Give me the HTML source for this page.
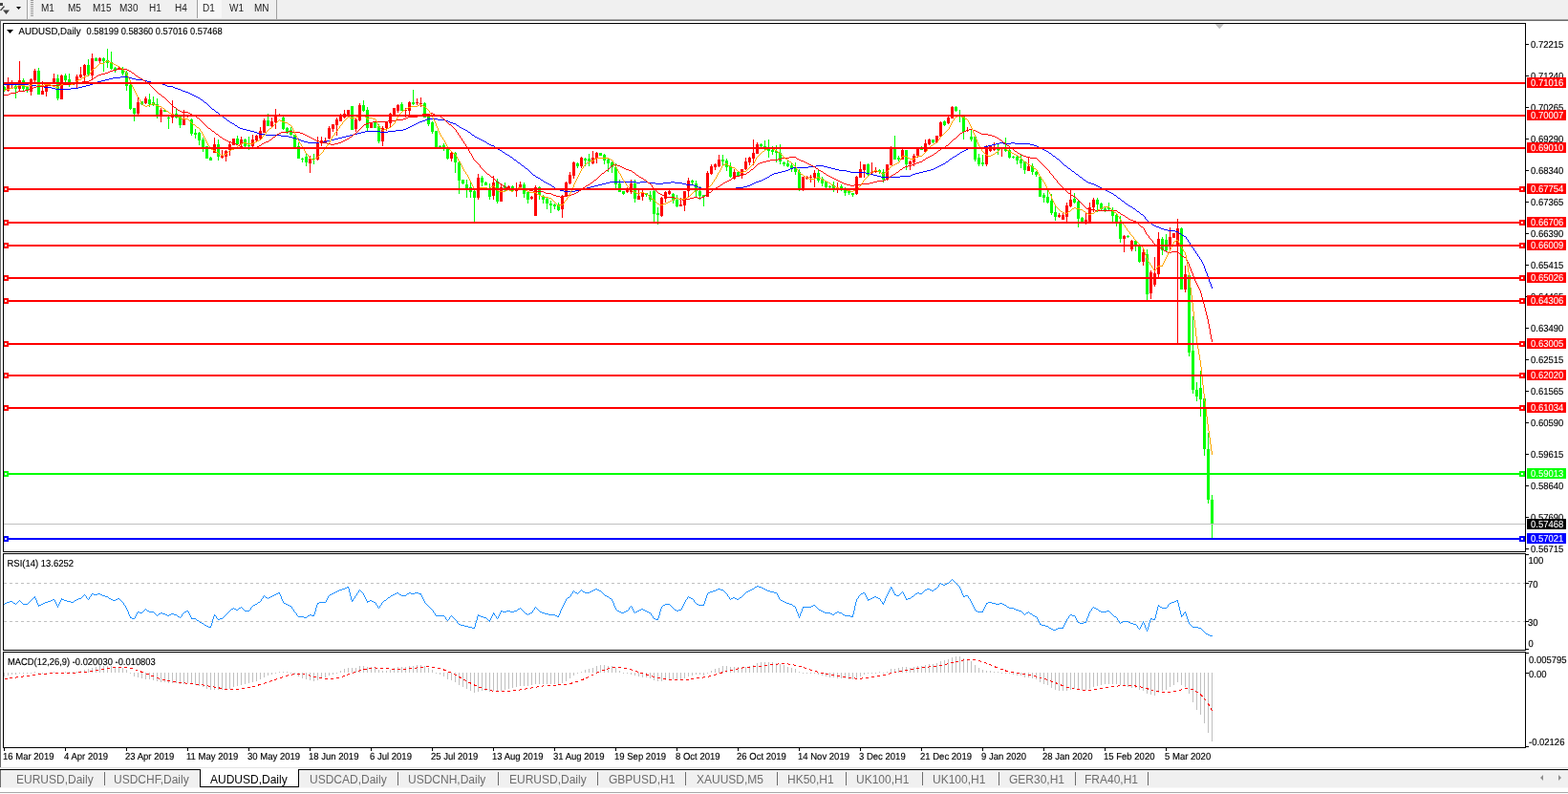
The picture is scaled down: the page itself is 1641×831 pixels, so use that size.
<!DOCTYPE html>
<html><head><meta charset="utf-8"><style>
*{margin:0;padding:0;box-sizing:border-box}
html,body{width:1641px;height:831px;overflow:hidden;background:#fff;font-family:"Liberation Sans",Arial,sans-serif}
#tb{position:absolute;left:0;top:0;width:1641px;height:20px;background:#f0f0f0}
#tbl1{position:absolute;left:0;top:20px;width:1641px;height:1px;background:#a0a0a0}
#tbl2{position:absolute;left:0;top:21px;width:1641px;height:1px;background:#6e6e6e}
.tf{position:absolute;top:4px;font-size:10px;line-height:10px;color:#222}
#d1{position:absolute;left:206px;top:0;width:26px;height:19px;background:#f7f7f7;border-left:1px solid #a0a0a0}
.vs{position:absolute;top:0;width:1px;height:20px;background:#a0a0a0}
#lg{position:absolute;left:0;top:22px;width:1px;height:781px;background:#6a6a6a}
svg{position:absolute;left:0;top:0}
.ax{font-family:"Liberation Sans",Arial,sans-serif;font-size:10.2px;fill:#000;stroke:#000;stroke-width:0.15px;text-rendering:geometricPrecision}
.axw{font-family:"Liberation Sans",Arial,sans-serif;font-size:10.2px;fill:#fff;stroke:#fff;stroke-width:0.1px;text-rendering:geometricPrecision}
#tabbar{position:absolute;left:0;top:806px;width:1641px;height:18px;background:#f0f0f0}
#tabtop{position:absolute;left:0;top:805px;width:1641px;height:1px;background:#000}
#tabbot{position:absolute;left:0;top:824px;width:1641px;height:1px;background:#f8f8f8}
#tabbot2{position:absolute;left:0;top:829px;width:1641px;height:1px;background:#a8a8a8}
.tab{position:absolute;top:810px;font-size:12px;line-height:12px;color:#6d6d6d;white-space:nowrap}
.tab.act{color:#000}
#acttab{position:absolute;left:209px;top:805px;width:104px;height:19px;background:#fff;border:1px solid #000;border-top:none}
.sep{position:absolute;top:808px;width:1px;height:14px;background:#6d6d6d}
#tl{position:absolute;left:0;top:806px;width:1px;height:18px;background:#6d6d6d}
.arr{position:absolute;top:809px;font-size:9px;color:#909090}
</style></head><body>
<div id="tb"></div>
<div id="d1"></div>
<div class="vs" style="left:28px"></div>
<div class="vs" style="left:289px"></div>
<span class="tf" style="left:43px">M1</span><span class="tf" style="left:71px">M5</span><span class="tf" style="left:97px">M15</span><span class="tf" style="left:125px">M30</span><span class="tf" style="left:156px">H1</span><span class="tf" style="left:183px">H4</span><span class="tf" style="left:212px">D1</span><span class="tf" style="left:240px">W1</span><span class="tf" style="left:266px">MN</span>
<svg width="40" height="20" style="position:absolute;left:0;top:0">
<path d="M0,3 L3,3 L3,6 L0,6 Z" fill="#444"/>
<path d="M0.5,11 L4.5,6.5" stroke="#444" stroke-width="1.3" fill="none"/>
<path d="M3,10.5 L10,10.5 L6.5,15 Z" fill="#444"/>
<path d="M17,7 L22,7 L19.5,10 Z" fill="#000"/>
<rect x="29" y="0" width="1" height="20" fill="#fff"/>
<g fill="#999"><rect x="32" y="0" width="3" height="1"/><rect x="32" y="2" width="3" height="1"/><rect x="32" y="4" width="3" height="1"/><rect x="32" y="6" width="3" height="1"/><rect x="32" y="8" width="3" height="1"/><rect x="32" y="10" width="3" height="1"/><rect x="32" y="12" width="3" height="1"/><rect x="32" y="14" width="3" height="1"/><rect x="32" y="16" width="3" height="1"/></g>
</svg>
<div id="tbl1"></div><div id="tbl2"></div>
<div id="lg"></div>
<svg width="1641" height="831" viewBox="0 0 1641 831" shape-rendering="crispEdges">
<rect x="4" y="90" width="1" height="6" fill="#00ff00"/>
<rect x="4" y="91" width="2" height="3" fill="#00ff00"/>
<rect x="8" y="81" width="1" height="15" fill="#ff0000"/>
<rect x="7" y="89" width="3" height="6" fill="#ff0000"/>
<rect x="12" y="84" width="1" height="8" fill="#ff0000"/>
<rect x="11" y="86" width="3" height="2" fill="#ff0000"/>
<rect x="16" y="88" width="1" height="15" fill="#00ff00"/>
<rect x="15" y="90" width="3" height="3" fill="#00ff00"/>
<rect x="20" y="64" width="1" height="31" fill="#ff0000"/>
<rect x="19" y="84" width="3" height="9" fill="#ff0000"/>
<rect x="24" y="82" width="1" height="14" fill="#00ff00"/>
<rect x="23" y="84" width="3" height="9" fill="#00ff00"/>
<rect x="28" y="90" width="1" height="7" fill="#00ff00"/>
<rect x="27" y="91" width="3" height="3" fill="#00ff00"/>
<rect x="32" y="82" width="1" height="18" fill="#ff0000"/>
<rect x="31" y="83" width="3" height="13" fill="#ff0000"/>
<rect x="36" y="72" width="1" height="14" fill="#ff0000"/>
<rect x="35" y="74" width="3" height="10" fill="#ff0000"/>
<rect x="40" y="71" width="1" height="28" fill="#00ff00"/>
<rect x="39" y="74" width="3" height="25" fill="#00ff00"/>
<rect x="44" y="85" width="1" height="14" fill="#ff0000"/>
<rect x="43" y="95" width="3" height="4" fill="#ff0000"/>
<rect x="48" y="88" width="1" height="13" fill="#ff0000"/>
<rect x="47" y="89" width="3" height="7" fill="#ff0000"/>
<rect x="52" y="86" width="1" height="3" fill="#ff0000"/>
<rect x="51" y="86" width="3" height="2" fill="#ff0000"/>
<rect x="56" y="77" width="1" height="11" fill="#ff0000"/>
<rect x="55" y="82" width="3" height="6" fill="#ff0000"/>
<rect x="60" y="78" width="1" height="27" fill="#00ff00"/>
<rect x="59" y="82" width="3" height="21" fill="#00ff00"/>
<rect x="64" y="78" width="1" height="26" fill="#ff0000"/>
<rect x="63" y="79" width="3" height="25" fill="#ff0000"/>
<rect x="68" y="77" width="1" height="9" fill="#00ff00"/>
<rect x="67" y="79" width="3" height="5" fill="#00ff00"/>
<rect x="72" y="77" width="1" height="14" fill="#00ff00"/>
<rect x="71" y="83" width="3" height="3" fill="#00ff00"/>
<rect x="76" y="88" width="1" height="1" fill="#00ff00"/>
<rect x="75" y="88" width="3" height="1" fill="#00ff00"/>
<rect x="80" y="78" width="1" height="14" fill="#ff0000"/>
<rect x="79" y="80" width="3" height="6" fill="#ff0000"/>
<rect x="84" y="70" width="1" height="12" fill="#ff0000"/>
<rect x="83" y="78" width="3" height="3" fill="#ff0000"/>
<rect x="88" y="67" width="1" height="19" fill="#ff0000"/>
<rect x="87" y="68" width="3" height="11" fill="#ff0000"/>
<rect x="92" y="62" width="1" height="18" fill="#00ff00"/>
<rect x="91" y="68" width="3" height="10" fill="#00ff00"/>
<rect x="96" y="56" width="1" height="27" fill="#ff0000"/>
<rect x="95" y="61" width="3" height="18" fill="#ff0000"/>
<rect x="100" y="60" width="1" height="4" fill="#00ff00"/>
<rect x="99" y="61" width="3" height="3" fill="#00ff00"/>
<rect x="104" y="60" width="1" height="6" fill="#ff0000"/>
<rect x="103" y="61" width="3" height="3" fill="#ff0000"/>
<rect x="108" y="60" width="1" height="15" fill="#00ff00"/>
<rect x="107" y="61" width="3" height="3" fill="#00ff00"/>
<rect x="112" y="51" width="1" height="20" fill="#00ff00"/>
<rect x="111" y="63" width="3" height="3" fill="#00ff00"/>
<rect x="116" y="54" width="1" height="19" fill="#00ff00"/>
<rect x="115" y="65" width="3" height="7" fill="#00ff00"/>
<rect x="120" y="70" width="1" height="6" fill="#00ff00"/>
<rect x="119" y="71" width="3" height="2" fill="#00ff00"/>
<rect x="124" y="70" width="1" height="2" fill="#ff0000"/>
<rect x="123" y="71" width="3" height="1" fill="#ff0000"/>
<rect x="128" y="70" width="1" height="9" fill="#00ff00"/>
<rect x="127" y="72" width="3" height="5" fill="#00ff00"/>
<rect x="132" y="74" width="1" height="21" fill="#00ff00"/>
<rect x="131" y="76" width="3" height="14" fill="#00ff00"/>
<rect x="136" y="88" width="1" height="27" fill="#00ff00"/>
<rect x="135" y="89" width="3" height="25" fill="#00ff00"/>
<rect x="140" y="113" width="1" height="14" fill="#00ff00"/>
<rect x="139" y="113" width="3" height="6" fill="#00ff00"/>
<rect x="144" y="102" width="1" height="18" fill="#ff0000"/>
<rect x="143" y="107" width="3" height="12" fill="#ff0000"/>
<rect x="148" y="106" width="1" height="4" fill="#00ff00"/>
<rect x="147" y="106" width="3" height="3" fill="#00ff00"/>
<rect x="152" y="101" width="1" height="8" fill="#ff0000"/>
<rect x="151" y="103" width="3" height="5" fill="#ff0000"/>
<rect x="156" y="98" width="1" height="14" fill="#00ff00"/>
<rect x="155" y="104" width="3" height="5" fill="#00ff00"/>
<rect x="160" y="101" width="1" height="10" fill="#00ff00"/>
<rect x="159" y="107" width="3" height="3" fill="#00ff00"/>
<rect x="164" y="103" width="1" height="21" fill="#00ff00"/>
<rect x="163" y="109" width="3" height="11" fill="#00ff00"/>
<rect x="168" y="113" width="1" height="15" fill="#ff0000"/>
<rect x="167" y="115" width="3" height="6" fill="#ff0000"/>
<rect x="172" y="115" width="1" height="2" fill="#00ff00"/>
<rect x="171" y="115" width="3" height="2" fill="#00ff00"/>
<rect x="176" y="122" width="1" height="13" fill="#00ff00"/>
<rect x="175" y="123" width="3" height="1" fill="#00ff00"/>
<rect x="180" y="105" width="1" height="24" fill="#ff0000"/>
<rect x="179" y="121" width="3" height="2" fill="#ff0000"/>
<rect x="184" y="113" width="1" height="11" fill="#00ff00"/>
<rect x="183" y="119" width="3" height="4" fill="#00ff00"/>
<rect x="188" y="122" width="1" height="12" fill="#00ff00"/>
<rect x="187" y="122" width="3" height="9" fill="#00ff00"/>
<rect x="192" y="115" width="1" height="16" fill="#ff0000"/>
<rect x="191" y="124" width="3" height="7" fill="#ff0000"/>
<rect x="196" y="121" width="1" height="2" fill="#ff0000"/>
<rect x="195" y="121" width="3" height="1" fill="#ff0000"/>
<rect x="200" y="124" width="1" height="18" fill="#00ff00"/>
<rect x="199" y="125" width="3" height="15" fill="#00ff00"/>
<rect x="204" y="135" width="1" height="10" fill="#00ff00"/>
<rect x="203" y="139" width="3" height="2" fill="#00ff00"/>
<rect x="208" y="138" width="1" height="14" fill="#00ff00"/>
<rect x="207" y="139" width="3" height="8" fill="#00ff00"/>
<rect x="212" y="144" width="1" height="15" fill="#00ff00"/>
<rect x="211" y="146" width="3" height="8" fill="#00ff00"/>
<rect x="216" y="153" width="1" height="13" fill="#00ff00"/>
<rect x="215" y="153" width="3" height="13" fill="#00ff00"/>
<rect x="220" y="164" width="1" height="4" fill="#00ff00"/>
<rect x="219" y="165" width="3" height="3" fill="#00ff00"/>
<rect x="224" y="144" width="1" height="16" fill="#ff0000"/>
<rect x="223" y="151" width="3" height="9" fill="#ff0000"/>
<rect x="228" y="146" width="1" height="22" fill="#00ff00"/>
<rect x="227" y="151" width="3" height="13" fill="#00ff00"/>
<rect x="232" y="157" width="1" height="9" fill="#ff0000"/>
<rect x="231" y="163" width="3" height="2" fill="#ff0000"/>
<rect x="236" y="157" width="1" height="12" fill="#ff0000"/>
<rect x="235" y="158" width="3" height="6" fill="#ff0000"/>
<rect x="240" y="148" width="1" height="15" fill="#ff0000"/>
<rect x="239" y="151" width="3" height="6" fill="#ff0000"/>
<rect x="244" y="145" width="1" height="7" fill="#ff0000"/>
<rect x="243" y="145" width="3" height="7" fill="#ff0000"/>
<rect x="248" y="142" width="1" height="9" fill="#00ff00"/>
<rect x="247" y="145" width="3" height="6" fill="#00ff00"/>
<rect x="252" y="143" width="1" height="10" fill="#ff0000"/>
<rect x="251" y="146" width="3" height="5" fill="#ff0000"/>
<rect x="256" y="145" width="1" height="9" fill="#00ff00"/>
<rect x="255" y="146" width="3" height="7" fill="#00ff00"/>
<rect x="260" y="143" width="1" height="14" fill="#00ff00"/>
<rect x="259" y="152" width="3" height="1" fill="#00ff00"/>
<rect x="264" y="141" width="1" height="13" fill="#ff0000"/>
<rect x="263" y="146" width="3" height="7" fill="#ff0000"/>
<rect x="268" y="141" width="1" height="7" fill="#ff0000"/>
<rect x="267" y="142" width="3" height="5" fill="#ff0000"/>
<rect x="272" y="133" width="1" height="13" fill="#ff0000"/>
<rect x="271" y="137" width="3" height="8" fill="#ff0000"/>
<rect x="276" y="124" width="1" height="15" fill="#ff0000"/>
<rect x="275" y="126" width="3" height="13" fill="#ff0000"/>
<rect x="280" y="119" width="1" height="13" fill="#00ff00"/>
<rect x="279" y="126" width="3" height="6" fill="#00ff00"/>
<rect x="284" y="123" width="1" height="11" fill="#ff0000"/>
<rect x="283" y="127" width="3" height="5" fill="#ff0000"/>
<rect x="288" y="114" width="1" height="21" fill="#ff0000"/>
<rect x="287" y="122" width="3" height="6" fill="#ff0000"/>
<rect x="292" y="119" width="1" height="3" fill="#ff0000"/>
<rect x="291" y="120" width="3" height="2" fill="#ff0000"/>
<rect x="296" y="122" width="1" height="14" fill="#00ff00"/>
<rect x="295" y="123" width="3" height="12" fill="#00ff00"/>
<rect x="300" y="133" width="1" height="7" fill="#00ff00"/>
<rect x="299" y="134" width="3" height="4" fill="#00ff00"/>
<rect x="304" y="133" width="1" height="9" fill="#00ff00"/>
<rect x="303" y="136" width="3" height="5" fill="#00ff00"/>
<rect x="308" y="141" width="1" height="13" fill="#00ff00"/>
<rect x="307" y="141" width="3" height="13" fill="#00ff00"/>
<rect x="312" y="149" width="1" height="17" fill="#00ff00"/>
<rect x="311" y="153" width="3" height="13" fill="#00ff00"/>
<rect x="316" y="165" width="1" height="5" fill="#00ff00"/>
<rect x="315" y="166" width="3" height="1" fill="#00ff00"/>
<rect x="320" y="161" width="1" height="13" fill="#00ff00"/>
<rect x="319" y="164" width="3" height="6" fill="#00ff00"/>
<rect x="324" y="163" width="1" height="18" fill="#ff0000"/>
<rect x="323" y="166" width="3" height="5" fill="#ff0000"/>
<rect x="328" y="161" width="1" height="11" fill="#00ff00"/>
<rect x="327" y="166" width="3" height="1" fill="#00ff00"/>
<rect x="332" y="143" width="1" height="25" fill="#ff0000"/>
<rect x="331" y="149" width="3" height="18" fill="#ff0000"/>
<rect x="336" y="143" width="1" height="10" fill="#ff0000"/>
<rect x="335" y="147" width="3" height="3" fill="#ff0000"/>
<rect x="340" y="144" width="1" height="6" fill="#ff0000"/>
<rect x="339" y="147" width="3" height="2" fill="#ff0000"/>
<rect x="344" y="132" width="1" height="14" fill="#ff0000"/>
<rect x="343" y="134" width="3" height="11" fill="#ff0000"/>
<rect x="348" y="130" width="1" height="8" fill="#ff0000"/>
<rect x="347" y="130" width="3" height="5" fill="#ff0000"/>
<rect x="352" y="123" width="1" height="19" fill="#ff0000"/>
<rect x="351" y="125" width="3" height="6" fill="#ff0000"/>
<rect x="356" y="119" width="1" height="8" fill="#ff0000"/>
<rect x="355" y="120" width="3" height="7" fill="#ff0000"/>
<rect x="360" y="115" width="1" height="9" fill="#ff0000"/>
<rect x="359" y="119" width="3" height="4" fill="#ff0000"/>
<rect x="364" y="115" width="1" height="7" fill="#ff0000"/>
<rect x="363" y="115" width="3" height="6" fill="#ff0000"/>
<rect x="368" y="111" width="1" height="25" fill="#00ff00"/>
<rect x="367" y="111" width="3" height="25" fill="#00ff00"/>
<rect x="372" y="124" width="1" height="14" fill="#ff0000"/>
<rect x="371" y="125" width="3" height="10" fill="#ff0000"/>
<rect x="376" y="108" width="1" height="19" fill="#ff0000"/>
<rect x="375" y="110" width="3" height="16" fill="#ff0000"/>
<rect x="380" y="105" width="1" height="12" fill="#00ff00"/>
<rect x="379" y="110" width="3" height="6" fill="#00ff00"/>
<rect x="384" y="112" width="1" height="25" fill="#00ff00"/>
<rect x="383" y="115" width="3" height="19" fill="#00ff00"/>
<rect x="388" y="128" width="1" height="6" fill="#ff0000"/>
<rect x="387" y="129" width="3" height="5" fill="#ff0000"/>
<rect x="392" y="127" width="1" height="7" fill="#00ff00"/>
<rect x="391" y="128" width="3" height="6" fill="#00ff00"/>
<rect x="396" y="130" width="1" height="20" fill="#00ff00"/>
<rect x="395" y="132" width="3" height="16" fill="#00ff00"/>
<rect x="400" y="132" width="1" height="21" fill="#ff0000"/>
<rect x="399" y="134" width="3" height="14" fill="#ff0000"/>
<rect x="404" y="127" width="1" height="10" fill="#ff0000"/>
<rect x="403" y="128" width="3" height="6" fill="#ff0000"/>
<rect x="408" y="118" width="1" height="16" fill="#ff0000"/>
<rect x="407" y="119" width="3" height="10" fill="#ff0000"/>
<rect x="412" y="113" width="1" height="8" fill="#ff0000"/>
<rect x="411" y="113" width="3" height="8" fill="#ff0000"/>
<rect x="416" y="109" width="1" height="9" fill="#ff0000"/>
<rect x="415" y="110" width="3" height="6" fill="#ff0000"/>
<rect x="420" y="107" width="1" height="9" fill="#00ff00"/>
<rect x="419" y="109" width="3" height="7" fill="#00ff00"/>
<rect x="424" y="113" width="1" height="10" fill="#ff0000"/>
<rect x="423" y="115" width="3" height="1" fill="#ff0000"/>
<rect x="428" y="106" width="1" height="14" fill="#ff0000"/>
<rect x="427" y="107" width="3" height="9" fill="#ff0000"/>
<rect x="432" y="94" width="1" height="16" fill="#00ff00"/>
<rect x="431" y="107" width="3" height="2" fill="#00ff00"/>
<rect x="436" y="103" width="1" height="7" fill="#ff0000"/>
<rect x="435" y="107" width="3" height="1" fill="#ff0000"/>
<rect x="440" y="102" width="1" height="10" fill="#ff0000"/>
<rect x="439" y="108" width="3" height="1" fill="#ff0000"/>
<rect x="444" y="107" width="1" height="16" fill="#00ff00"/>
<rect x="443" y="108" width="3" height="15" fill="#00ff00"/>
<rect x="448" y="122" width="1" height="10" fill="#00ff00"/>
<rect x="447" y="122" width="3" height="8" fill="#00ff00"/>
<rect x="452" y="127" width="1" height="13" fill="#00ff00"/>
<rect x="451" y="128" width="3" height="10" fill="#00ff00"/>
<rect x="456" y="137" width="1" height="17" fill="#00ff00"/>
<rect x="455" y="137" width="3" height="17" fill="#00ff00"/>
<rect x="460" y="152" width="1" height="2" fill="#00ff00"/>
<rect x="459" y="153" width="3" height="1" fill="#00ff00"/>
<rect x="464" y="150" width="1" height="8" fill="#00ff00"/>
<rect x="463" y="152" width="3" height="3" fill="#00ff00"/>
<rect x="468" y="153" width="1" height="14" fill="#00ff00"/>
<rect x="467" y="155" width="3" height="11" fill="#00ff00"/>
<rect x="472" y="158" width="1" height="11" fill="#ff0000"/>
<rect x="471" y="160" width="3" height="6" fill="#ff0000"/>
<rect x="476" y="159" width="1" height="22" fill="#00ff00"/>
<rect x="475" y="160" width="3" height="10" fill="#00ff00"/>
<rect x="480" y="169" width="1" height="34" fill="#00ff00"/>
<rect x="479" y="170" width="3" height="19" fill="#00ff00"/>
<rect x="484" y="188" width="1" height="5" fill="#00ff00"/>
<rect x="483" y="188" width="3" height="4" fill="#00ff00"/>
<rect x="488" y="188" width="1" height="19" fill="#00ff00"/>
<rect x="487" y="193" width="3" height="5" fill="#00ff00"/>
<rect x="492" y="190" width="1" height="17" fill="#00ff00"/>
<rect x="491" y="196" width="3" height="5" fill="#00ff00"/>
<rect x="496" y="199" width="1" height="33" fill="#00ff00"/>
<rect x="495" y="200" width="3" height="7" fill="#00ff00"/>
<rect x="500" y="182" width="1" height="27" fill="#ff0000"/>
<rect x="499" y="186" width="3" height="21" fill="#ff0000"/>
<rect x="504" y="184" width="1" height="11" fill="#00ff00"/>
<rect x="503" y="186" width="3" height="5" fill="#00ff00"/>
<rect x="508" y="190" width="1" height="4" fill="#00ff00"/>
<rect x="507" y="191" width="3" height="3" fill="#00ff00"/>
<rect x="512" y="192" width="1" height="17" fill="#00ff00"/>
<rect x="511" y="199" width="3" height="7" fill="#00ff00"/>
<rect x="516" y="184" width="1" height="25" fill="#ff0000"/>
<rect x="515" y="191" width="3" height="14" fill="#ff0000"/>
<rect x="520" y="187" width="1" height="26" fill="#00ff00"/>
<rect x="519" y="190" width="3" height="21" fill="#00ff00"/>
<rect x="524" y="192" width="1" height="19" fill="#ff0000"/>
<rect x="523" y="196" width="3" height="15" fill="#ff0000"/>
<rect x="528" y="191" width="1" height="10" fill="#00ff00"/>
<rect x="527" y="195" width="3" height="3" fill="#00ff00"/>
<rect x="532" y="194" width="1" height="4" fill="#ff0000"/>
<rect x="531" y="195" width="3" height="3" fill="#ff0000"/>
<rect x="536" y="194" width="1" height="7" fill="#00ff00"/>
<rect x="535" y="195" width="3" height="5" fill="#00ff00"/>
<rect x="540" y="191" width="1" height="15" fill="#ff0000"/>
<rect x="539" y="197" width="3" height="3" fill="#ff0000"/>
<rect x="544" y="190" width="1" height="8" fill="#ff0000"/>
<rect x="543" y="193" width="3" height="4" fill="#ff0000"/>
<rect x="548" y="191" width="1" height="16" fill="#00ff00"/>
<rect x="547" y="193" width="3" height="10" fill="#00ff00"/>
<rect x="552" y="201" width="1" height="12" fill="#00ff00"/>
<rect x="551" y="201" width="3" height="8" fill="#00ff00"/>
<rect x="556" y="205" width="1" height="4" fill="#ff0000"/>
<rect x="555" y="206" width="3" height="2" fill="#ff0000"/>
<rect x="560" y="194" width="1" height="32" fill="#ff0000"/>
<rect x="559" y="196" width="3" height="30" fill="#ff0000"/>
<rect x="564" y="195" width="1" height="14" fill="#00ff00"/>
<rect x="563" y="196" width="3" height="8" fill="#00ff00"/>
<rect x="568" y="204" width="1" height="9" fill="#00ff00"/>
<rect x="567" y="206" width="3" height="3" fill="#00ff00"/>
<rect x="572" y="206" width="1" height="13" fill="#00ff00"/>
<rect x="571" y="208" width="3" height="5" fill="#00ff00"/>
<rect x="576" y="210" width="1" height="13" fill="#00ff00"/>
<rect x="575" y="213" width="3" height="2" fill="#00ff00"/>
<rect x="580" y="213" width="1" height="6" fill="#00ff00"/>
<rect x="579" y="214" width="3" height="2" fill="#00ff00"/>
<rect x="584" y="212" width="1" height="9" fill="#00ff00"/>
<rect x="583" y="214" width="3" height="6" fill="#00ff00"/>
<rect x="588" y="204" width="1" height="24" fill="#ff0000"/>
<rect x="587" y="205" width="3" height="14" fill="#ff0000"/>
<rect x="592" y="190" width="1" height="16" fill="#ff0000"/>
<rect x="591" y="191" width="3" height="15" fill="#ff0000"/>
<rect x="596" y="180" width="1" height="13" fill="#ff0000"/>
<rect x="595" y="183" width="3" height="9" fill="#ff0000"/>
<rect x="600" y="169" width="1" height="18" fill="#ff0000"/>
<rect x="599" y="170" width="3" height="14" fill="#ff0000"/>
<rect x="604" y="170" width="1" height="6" fill="#00ff00"/>
<rect x="603" y="171" width="3" height="3" fill="#00ff00"/>
<rect x="608" y="164" width="1" height="12" fill="#ff0000"/>
<rect x="607" y="165" width="3" height="9" fill="#ff0000"/>
<rect x="612" y="165" width="1" height="9" fill="#00ff00"/>
<rect x="611" y="166" width="3" height="2" fill="#00ff00"/>
<rect x="616" y="161" width="1" height="13" fill="#00ff00"/>
<rect x="615" y="166" width="3" height="3" fill="#00ff00"/>
<rect x="620" y="158" width="1" height="14" fill="#ff0000"/>
<rect x="619" y="165" width="3" height="6" fill="#ff0000"/>
<rect x="624" y="159" width="1" height="12" fill="#ff0000"/>
<rect x="623" y="160" width="3" height="6" fill="#ff0000"/>
<rect x="628" y="160" width="1" height="3" fill="#00ff00"/>
<rect x="627" y="160" width="3" height="3" fill="#00ff00"/>
<rect x="632" y="161" width="1" height="11" fill="#00ff00"/>
<rect x="631" y="162" width="3" height="6" fill="#00ff00"/>
<rect x="636" y="166" width="1" height="14" fill="#00ff00"/>
<rect x="635" y="167" width="3" height="4" fill="#00ff00"/>
<rect x="640" y="169" width="1" height="12" fill="#00ff00"/>
<rect x="639" y="170" width="3" height="5" fill="#00ff00"/>
<rect x="644" y="171" width="1" height="26" fill="#00ff00"/>
<rect x="643" y="175" width="3" height="18" fill="#00ff00"/>
<rect x="648" y="188" width="1" height="13" fill="#00ff00"/>
<rect x="647" y="192" width="3" height="9" fill="#00ff00"/>
<rect x="652" y="200" width="1" height="4" fill="#00ff00"/>
<rect x="651" y="200" width="3" height="3" fill="#00ff00"/>
<rect x="656" y="196" width="1" height="6" fill="#ff0000"/>
<rect x="655" y="199" width="3" height="2" fill="#ff0000"/>
<rect x="660" y="188" width="1" height="15" fill="#ff0000"/>
<rect x="659" y="192" width="3" height="9" fill="#ff0000"/>
<rect x="664" y="188" width="1" height="24" fill="#00ff00"/>
<rect x="663" y="192" width="3" height="16" fill="#00ff00"/>
<rect x="668" y="197" width="1" height="12" fill="#ff0000"/>
<rect x="667" y="205" width="3" height="4" fill="#ff0000"/>
<rect x="672" y="199" width="1" height="11" fill="#ff0000"/>
<rect x="671" y="201" width="3" height="5" fill="#ff0000"/>
<rect x="676" y="202" width="1" height="4" fill="#00ff00"/>
<rect x="675" y="202" width="3" height="2" fill="#00ff00"/>
<rect x="680" y="200" width="1" height="11" fill="#00ff00"/>
<rect x="679" y="204" width="3" height="5" fill="#00ff00"/>
<rect x="684" y="199" width="1" height="33" fill="#00ff00"/>
<rect x="683" y="200" width="3" height="24" fill="#00ff00"/>
<rect x="688" y="217" width="1" height="18" fill="#00ff00"/>
<rect x="687" y="223" width="3" height="2" fill="#00ff00"/>
<rect x="692" y="206" width="1" height="21" fill="#ff0000"/>
<rect x="691" y="207" width="3" height="19" fill="#ff0000"/>
<rect x="696" y="200" width="1" height="12" fill="#ff0000"/>
<rect x="695" y="201" width="3" height="7" fill="#ff0000"/>
<rect x="700" y="199" width="1" height="5" fill="#ff0000"/>
<rect x="699" y="200" width="3" height="3" fill="#ff0000"/>
<rect x="704" y="202" width="1" height="11" fill="#00ff00"/>
<rect x="703" y="203" width="3" height="7" fill="#00ff00"/>
<rect x="708" y="204" width="1" height="13" fill="#00ff00"/>
<rect x="707" y="209" width="3" height="7" fill="#00ff00"/>
<rect x="712" y="207" width="1" height="9" fill="#ff0000"/>
<rect x="711" y="214" width="3" height="2" fill="#ff0000"/>
<rect x="716" y="200" width="1" height="21" fill="#ff0000"/>
<rect x="715" y="200" width="3" height="15" fill="#ff0000"/>
<rect x="720" y="186" width="1" height="20" fill="#ff0000"/>
<rect x="719" y="189" width="3" height="11" fill="#ff0000"/>
<rect x="724" y="188" width="1" height="5" fill="#00ff00"/>
<rect x="723" y="189" width="3" height="2" fill="#00ff00"/>
<rect x="728" y="189" width="1" height="17" fill="#00ff00"/>
<rect x="727" y="192" width="3" height="8" fill="#00ff00"/>
<rect x="732" y="195" width="1" height="14" fill="#00ff00"/>
<rect x="731" y="200" width="3" height="5" fill="#00ff00"/>
<rect x="736" y="204" width="1" height="12" fill="#00ff00"/>
<rect x="735" y="204" width="3" height="2" fill="#00ff00"/>
<rect x="740" y="179" width="1" height="27" fill="#ff0000"/>
<rect x="739" y="181" width="3" height="25" fill="#ff0000"/>
<rect x="744" y="172" width="1" height="11" fill="#ff0000"/>
<rect x="743" y="174" width="3" height="8" fill="#ff0000"/>
<rect x="748" y="171" width="1" height="7" fill="#ff0000"/>
<rect x="747" y="172" width="3" height="3" fill="#ff0000"/>
<rect x="752" y="162" width="1" height="13" fill="#ff0000"/>
<rect x="751" y="167" width="3" height="7" fill="#ff0000"/>
<rect x="756" y="162" width="1" height="11" fill="#00ff00"/>
<rect x="755" y="167" width="3" height="2" fill="#00ff00"/>
<rect x="760" y="166" width="1" height="13" fill="#00ff00"/>
<rect x="759" y="168" width="3" height="7" fill="#00ff00"/>
<rect x="764" y="170" width="1" height="16" fill="#00ff00"/>
<rect x="763" y="174" width="3" height="11" fill="#00ff00"/>
<rect x="768" y="177" width="1" height="11" fill="#ff0000"/>
<rect x="767" y="180" width="3" height="7" fill="#ff0000"/>
<rect x="772" y="179" width="1" height="5" fill="#00ff00"/>
<rect x="771" y="180" width="3" height="4" fill="#00ff00"/>
<rect x="776" y="177" width="1" height="10" fill="#ff0000"/>
<rect x="775" y="177" width="3" height="6" fill="#ff0000"/>
<rect x="780" y="165" width="1" height="13" fill="#ff0000"/>
<rect x="779" y="169" width="3" height="8" fill="#ff0000"/>
<rect x="784" y="164" width="1" height="9" fill="#ff0000"/>
<rect x="783" y="165" width="3" height="5" fill="#ff0000"/>
<rect x="788" y="146" width="1" height="27" fill="#ff0000"/>
<rect x="787" y="160" width="3" height="6" fill="#ff0000"/>
<rect x="792" y="149" width="1" height="12" fill="#ff0000"/>
<rect x="791" y="151" width="3" height="10" fill="#ff0000"/>
<rect x="796" y="150" width="1" height="4" fill="#00ff00"/>
<rect x="795" y="151" width="3" height="2" fill="#00ff00"/>
<rect x="800" y="147" width="1" height="10" fill="#00ff00"/>
<rect x="799" y="153" width="3" height="2" fill="#00ff00"/>
<rect x="804" y="146" width="1" height="19" fill="#00ff00"/>
<rect x="803" y="156" width="3" height="2" fill="#00ff00"/>
<rect x="808" y="153" width="1" height="9" fill="#00ff00"/>
<rect x="807" y="157" width="3" height="2" fill="#00ff00"/>
<rect x="812" y="152" width="1" height="18" fill="#00ff00"/>
<rect x="811" y="158" width="3" height="2" fill="#00ff00"/>
<rect x="816" y="151" width="1" height="21" fill="#00ff00"/>
<rect x="815" y="160" width="3" height="9" fill="#00ff00"/>
<rect x="820" y="169" width="1" height="5" fill="#00ff00"/>
<rect x="819" y="170" width="3" height="2" fill="#00ff00"/>
<rect x="824" y="168" width="1" height="7" fill="#00ff00"/>
<rect x="823" y="171" width="3" height="3" fill="#00ff00"/>
<rect x="828" y="171" width="1" height="9" fill="#00ff00"/>
<rect x="827" y="173" width="3" height="3" fill="#00ff00"/>
<rect x="832" y="170" width="1" height="13" fill="#00ff00"/>
<rect x="831" y="176" width="3" height="4" fill="#00ff00"/>
<rect x="836" y="177" width="1" height="23" fill="#00ff00"/>
<rect x="835" y="180" width="3" height="19" fill="#00ff00"/>
<rect x="840" y="185" width="1" height="15" fill="#ff0000"/>
<rect x="839" y="185" width="3" height="14" fill="#ff0000"/>
<rect x="844" y="184" width="1" height="4" fill="#ff0000"/>
<rect x="843" y="185" width="3" height="2" fill="#ff0000"/>
<rect x="848" y="183" width="1" height="8" fill="#ff0000"/>
<rect x="847" y="185" width="3" height="1" fill="#ff0000"/>
<rect x="852" y="178" width="1" height="18" fill="#ff0000"/>
<rect x="851" y="181" width="3" height="5" fill="#ff0000"/>
<rect x="856" y="178" width="1" height="13" fill="#00ff00"/>
<rect x="855" y="181" width="3" height="8" fill="#00ff00"/>
<rect x="860" y="185" width="1" height="10" fill="#00ff00"/>
<rect x="859" y="187" width="3" height="5" fill="#00ff00"/>
<rect x="864" y="189" width="1" height="8" fill="#00ff00"/>
<rect x="863" y="190" width="3" height="6" fill="#00ff00"/>
<rect x="868" y="194" width="1" height="3" fill="#00ff00"/>
<rect x="867" y="195" width="3" height="1" fill="#00ff00"/>
<rect x="872" y="190" width="1" height="11" fill="#00ff00"/>
<rect x="871" y="194" width="3" height="5" fill="#00ff00"/>
<rect x="876" y="191" width="1" height="11" fill="#ff0000"/>
<rect x="875" y="196" width="3" height="3" fill="#ff0000"/>
<rect x="880" y="193" width="1" height="7" fill="#00ff00"/>
<rect x="879" y="195" width="3" height="2" fill="#00ff00"/>
<rect x="884" y="196" width="1" height="9" fill="#00ff00"/>
<rect x="883" y="197" width="3" height="5" fill="#00ff00"/>
<rect x="888" y="199" width="1" height="5" fill="#00ff00"/>
<rect x="887" y="200" width="3" height="2" fill="#00ff00"/>
<rect x="892" y="202" width="1" height="4" fill="#00ff00"/>
<rect x="891" y="202" width="3" height="2" fill="#00ff00"/>
<rect x="896" y="184" width="1" height="20" fill="#ff0000"/>
<rect x="895" y="185" width="3" height="18" fill="#ff0000"/>
<rect x="900" y="169" width="1" height="17" fill="#ff0000"/>
<rect x="899" y="177" width="3" height="9" fill="#ff0000"/>
<rect x="904" y="172" width="1" height="14" fill="#ff0000"/>
<rect x="903" y="172" width="3" height="6" fill="#ff0000"/>
<rect x="908" y="171" width="1" height="13" fill="#00ff00"/>
<rect x="907" y="172" width="3" height="11" fill="#00ff00"/>
<rect x="912" y="170" width="1" height="12" fill="#ff0000"/>
<rect x="911" y="180" width="3" height="1" fill="#ff0000"/>
<rect x="916" y="175" width="1" height="6" fill="#ff0000"/>
<rect x="915" y="178" width="3" height="2" fill="#ff0000"/>
<rect x="920" y="177" width="1" height="5" fill="#00ff00"/>
<rect x="919" y="178" width="3" height="2" fill="#00ff00"/>
<rect x="924" y="177" width="1" height="14" fill="#00ff00"/>
<rect x="923" y="180" width="3" height="8" fill="#00ff00"/>
<rect x="928" y="172" width="1" height="17" fill="#ff0000"/>
<rect x="927" y="172" width="3" height="16" fill="#ff0000"/>
<rect x="932" y="153" width="1" height="20" fill="#ff0000"/>
<rect x="931" y="154" width="3" height="19" fill="#ff0000"/>
<rect x="936" y="142" width="1" height="25" fill="#00ff00"/>
<rect x="935" y="155" width="3" height="12" fill="#00ff00"/>
<rect x="940" y="163" width="1" height="6" fill="#00ff00"/>
<rect x="939" y="165" width="3" height="2" fill="#00ff00"/>
<rect x="944" y="156" width="1" height="11" fill="#ff0000"/>
<rect x="943" y="157" width="3" height="10" fill="#ff0000"/>
<rect x="948" y="157" width="1" height="21" fill="#00ff00"/>
<rect x="947" y="157" width="3" height="15" fill="#00ff00"/>
<rect x="952" y="168" width="1" height="10" fill="#ff0000"/>
<rect x="951" y="169" width="3" height="3" fill="#ff0000"/>
<rect x="956" y="161" width="1" height="13" fill="#ff0000"/>
<rect x="955" y="163" width="3" height="7" fill="#ff0000"/>
<rect x="960" y="155" width="1" height="10" fill="#ff0000"/>
<rect x="959" y="156" width="3" height="7" fill="#ff0000"/>
<rect x="964" y="153" width="1" height="4" fill="#00ff00"/>
<rect x="963" y="155" width="3" height="2" fill="#00ff00"/>
<rect x="968" y="146" width="1" height="13" fill="#ff0000"/>
<rect x="967" y="150" width="3" height="9" fill="#ff0000"/>
<rect x="972" y="145" width="1" height="7" fill="#ff0000"/>
<rect x="971" y="146" width="3" height="5" fill="#ff0000"/>
<rect x="976" y="146" width="1" height="4" fill="#00ff00"/>
<rect x="975" y="146" width="3" height="3" fill="#00ff00"/>
<rect x="980" y="142" width="1" height="8" fill="#ff0000"/>
<rect x="979" y="142" width="3" height="7" fill="#ff0000"/>
<rect x="984" y="127" width="1" height="16" fill="#ff0000"/>
<rect x="983" y="128" width="3" height="15" fill="#ff0000"/>
<rect x="988" y="126" width="1" height="6" fill="#00ff00"/>
<rect x="987" y="127" width="3" height="4" fill="#00ff00"/>
<rect x="992" y="122" width="1" height="8" fill="#ff0000"/>
<rect x="991" y="123" width="3" height="6" fill="#ff0000"/>
<rect x="996" y="111" width="1" height="13" fill="#ff0000"/>
<rect x="995" y="112" width="3" height="12" fill="#ff0000"/>
<rect x="1000" y="111" width="1" height="6" fill="#00ff00"/>
<rect x="999" y="112" width="3" height="4" fill="#00ff00"/>
<rect x="1004" y="115" width="1" height="13" fill="#00ff00"/>
<rect x="1003" y="120" width="3" height="2" fill="#00ff00"/>
<rect x="1008" y="122" width="1" height="24" fill="#00ff00"/>
<rect x="1007" y="122" width="3" height="16" fill="#00ff00"/>
<rect x="1012" y="133" width="1" height="5" fill="#ff0000"/>
<rect x="1011" y="136" width="3" height="1" fill="#ff0000"/>
<rect x="1016" y="136" width="1" height="12" fill="#00ff00"/>
<rect x="1015" y="143" width="3" height="3" fill="#00ff00"/>
<rect x="1020" y="143" width="1" height="26" fill="#00ff00"/>
<rect x="1019" y="143" width="3" height="24" fill="#00ff00"/>
<rect x="1024" y="161" width="1" height="13" fill="#00ff00"/>
<rect x="1023" y="165" width="3" height="7" fill="#00ff00"/>
<rect x="1028" y="162" width="1" height="12" fill="#00ff00"/>
<rect x="1027" y="170" width="3" height="2" fill="#00ff00"/>
<rect x="1032" y="152" width="1" height="22" fill="#ff0000"/>
<rect x="1031" y="154" width="3" height="18" fill="#ff0000"/>
<rect x="1036" y="152" width="1" height="7" fill="#ff0000"/>
<rect x="1035" y="152" width="3" height="6" fill="#ff0000"/>
<rect x="1040" y="149" width="1" height="9" fill="#ff0000"/>
<rect x="1039" y="154" width="3" height="3" fill="#ff0000"/>
<rect x="1044" y="151" width="1" height="11" fill="#00ff00"/>
<rect x="1043" y="154" width="3" height="3" fill="#00ff00"/>
<rect x="1048" y="154" width="1" height="10" fill="#ff0000"/>
<rect x="1047" y="155" width="3" height="1" fill="#ff0000"/>
<rect x="1052" y="144" width="1" height="15" fill="#00ff00"/>
<rect x="1051" y="156" width="3" height="2" fill="#00ff00"/>
<rect x="1056" y="156" width="1" height="10" fill="#00ff00"/>
<rect x="1055" y="157" width="3" height="8" fill="#00ff00"/>
<rect x="1060" y="163" width="1" height="3" fill="#00ff00"/>
<rect x="1059" y="164" width="3" height="1" fill="#00ff00"/>
<rect x="1064" y="162" width="1" height="10" fill="#00ff00"/>
<rect x="1063" y="164" width="3" height="4" fill="#00ff00"/>
<rect x="1068" y="162" width="1" height="14" fill="#00ff00"/>
<rect x="1067" y="167" width="3" height="4" fill="#00ff00"/>
<rect x="1072" y="169" width="1" height="13" fill="#00ff00"/>
<rect x="1071" y="169" width="3" height="9" fill="#00ff00"/>
<rect x="1076" y="164" width="1" height="15" fill="#ff0000"/>
<rect x="1075" y="174" width="3" height="5" fill="#ff0000"/>
<rect x="1080" y="171" width="1" height="12" fill="#00ff00"/>
<rect x="1079" y="174" width="3" height="6" fill="#00ff00"/>
<rect x="1084" y="179" width="1" height="6" fill="#00ff00"/>
<rect x="1083" y="180" width="3" height="3" fill="#00ff00"/>
<rect x="1088" y="184" width="1" height="22" fill="#00ff00"/>
<rect x="1087" y="185" width="3" height="21" fill="#00ff00"/>
<rect x="1092" y="202" width="1" height="10" fill="#00ff00"/>
<rect x="1091" y="204" width="3" height="3" fill="#00ff00"/>
<rect x="1096" y="199" width="1" height="14" fill="#00ff00"/>
<rect x="1095" y="206" width="3" height="6" fill="#00ff00"/>
<rect x="1100" y="203" width="1" height="22" fill="#00ff00"/>
<rect x="1099" y="210" width="3" height="13" fill="#00ff00"/>
<rect x="1104" y="215" width="1" height="16" fill="#00ff00"/>
<rect x="1103" y="222" width="3" height="5" fill="#00ff00"/>
<rect x="1108" y="223" width="1" height="5" fill="#ff0000"/>
<rect x="1107" y="225" width="3" height="2" fill="#ff0000"/>
<rect x="1112" y="222" width="1" height="8" fill="#ff0000"/>
<rect x="1111" y="225" width="3" height="5" fill="#ff0000"/>
<rect x="1116" y="212" width="1" height="21" fill="#ff0000"/>
<rect x="1115" y="215" width="3" height="12" fill="#ff0000"/>
<rect x="1120" y="199" width="1" height="18" fill="#ff0000"/>
<rect x="1119" y="209" width="3" height="7" fill="#ff0000"/>
<rect x="1124" y="202" width="1" height="11" fill="#00ff00"/>
<rect x="1123" y="208" width="3" height="4" fill="#00ff00"/>
<rect x="1128" y="209" width="1" height="29" fill="#00ff00"/>
<rect x="1127" y="211" width="3" height="18" fill="#00ff00"/>
<rect x="1132" y="227" width="1" height="5" fill="#00ff00"/>
<rect x="1131" y="228" width="3" height="4" fill="#00ff00"/>
<rect x="1136" y="222" width="1" height="13" fill="#ff0000"/>
<rect x="1135" y="230" width="3" height="3" fill="#ff0000"/>
<rect x="1140" y="212" width="1" height="21" fill="#ff0000"/>
<rect x="1139" y="217" width="3" height="16" fill="#ff0000"/>
<rect x="1144" y="207" width="1" height="15" fill="#ff0000"/>
<rect x="1143" y="209" width="3" height="8" fill="#ff0000"/>
<rect x="1148" y="207" width="1" height="15" fill="#00ff00"/>
<rect x="1147" y="209" width="3" height="5" fill="#00ff00"/>
<rect x="1152" y="212" width="1" height="8" fill="#00ff00"/>
<rect x="1151" y="213" width="3" height="6" fill="#00ff00"/>
<rect x="1156" y="217" width="1" height="5" fill="#00ff00"/>
<rect x="1155" y="218" width="3" height="2" fill="#00ff00"/>
<rect x="1160" y="212" width="1" height="8" fill="#00ff00"/>
<rect x="1159" y="217" width="3" height="2" fill="#00ff00"/>
<rect x="1164" y="217" width="1" height="15" fill="#00ff00"/>
<rect x="1163" y="220" width="3" height="6" fill="#00ff00"/>
<rect x="1168" y="223" width="1" height="14" fill="#00ff00"/>
<rect x="1167" y="225" width="3" height="8" fill="#00ff00"/>
<rect x="1172" y="226" width="1" height="28" fill="#00ff00"/>
<rect x="1171" y="233" width="3" height="17" fill="#00ff00"/>
<rect x="1176" y="246" width="1" height="18" fill="#ff0000"/>
<rect x="1175" y="247" width="3" height="3" fill="#ff0000"/>
<rect x="1180" y="246" width="1" height="3" fill="#00ff00"/>
<rect x="1179" y="247" width="3" height="1" fill="#00ff00"/>
<rect x="1184" y="251" width="1" height="12" fill="#ff0000"/>
<rect x="1183" y="252" width="3" height="9" fill="#ff0000"/>
<rect x="1188" y="251" width="1" height="12" fill="#00ff00"/>
<rect x="1187" y="252" width="3" height="4" fill="#00ff00"/>
<rect x="1192" y="257" width="1" height="18" fill="#00ff00"/>
<rect x="1191" y="258" width="3" height="16" fill="#00ff00"/>
<rect x="1196" y="261" width="1" height="17" fill="#ff0000"/>
<rect x="1195" y="264" width="3" height="10" fill="#ff0000"/>
<rect x="1200" y="261" width="1" height="53" fill="#00ff00"/>
<rect x="1199" y="266" width="3" height="42" fill="#00ff00"/>
<rect x="1204" y="283" width="1" height="30" fill="#ff0000"/>
<rect x="1203" y="285" width="3" height="22" fill="#ff0000"/>
<rect x="1208" y="269" width="1" height="31" fill="#ff0000"/>
<rect x="1207" y="286" width="3" height="12" fill="#ff0000"/>
<rect x="1212" y="243" width="1" height="47" fill="#ff0000"/>
<rect x="1211" y="250" width="3" height="37" fill="#ff0000"/>
<rect x="1216" y="248" width="1" height="19" fill="#00ff00"/>
<rect x="1215" y="250" width="3" height="12" fill="#00ff00"/>
<rect x="1220" y="245" width="1" height="19" fill="#00ff00"/>
<rect x="1219" y="251" width="3" height="11" fill="#00ff00"/>
<rect x="1224" y="238" width="1" height="25" fill="#ff0000"/>
<rect x="1223" y="248" width="3" height="8" fill="#ff0000"/>
<rect x="1228" y="244" width="1" height="5" fill="#ff0000"/>
<rect x="1227" y="244" width="3" height="5" fill="#ff0000"/>
<rect x="1232" y="229" width="1" height="130" fill="#ff0000"/>
<rect x="1231" y="239" width="3" height="18" fill="#ff0000"/>
<rect x="1236" y="238" width="1" height="65" fill="#00ff00"/>
<rect x="1235" y="239" width="3" height="64" fill="#00ff00"/>
<rect x="1240" y="278" width="1" height="28" fill="#ff0000"/>
<rect x="1239" y="287" width="3" height="16" fill="#ff0000"/>
<rect x="1244" y="285" width="1" height="88" fill="#00ff00"/>
<rect x="1243" y="288" width="3" height="81" fill="#00ff00"/>
<rect x="1248" y="331" width="1" height="81" fill="#00ff00"/>
<rect x="1247" y="367" width="3" height="41" fill="#00ff00"/>
<rect x="1252" y="400" width="1" height="20" fill="#00ff00"/>
<rect x="1251" y="408" width="3" height="7" fill="#00ff00"/>
<rect x="1256" y="388" width="1" height="48" fill="#00ff00"/>
<rect x="1255" y="406" width="3" height="12" fill="#00ff00"/>
<rect x="1260" y="417" width="1" height="60" fill="#00ff00"/>
<rect x="1259" y="417" width="3" height="53" fill="#00ff00"/>
<rect x="1264" y="453" width="1" height="74" fill="#00ff00"/>
<rect x="1263" y="470" width="3" height="53" fill="#00ff00"/>
<rect x="1268" y="518" width="1" height="46" fill="#00ff00"/>
<rect x="1267" y="523" width="3" height="25" fill="#00ff00"/>
<path fill="#0000ff" d="M126 80h8v1h-8zM118 81h8v1h-8zM134 81h4v1h-4zM114 82h4v1h-4zM138 82h4v1h-4zM110 83h4v1h-4zM142 83h8v1h-8zM106 84h4v1h-4zM150 84h4v1h-4zM102 85h4v1h-4zM154 85h4v1h-4zM99 86h3v1h-3zM158 86h8v1h-8zM97 87h2v1h-2zM166 87h4v1h-4zM4 88h26v1h-26zM94 88h3v1h-3zM170 88h3v1h-3zM30 89h8v1h-8zM90 89h4v1h-4zM173 89h2v1h-2zM38 90h8v1h-8zM86 90h4v1h-4zM175 90h6v1h-6zM46 91h8v1h-8zM82 91h4v1h-4zM181 91h2v1h-2zM54 92h4v1h-4zM74 92h8v1h-8zM183 92h3v1h-3zM58 93h16v1h-16zM186 93h3v1h-3zM189 94h2v1h-2zM191 95h3v1h-3zM194 96h3v1h-3zM197 97h2v1h-2zM199 98h2v1h-2zM201 99h2v1h-2zM203 100h2v1h-2zM205 101h2v1h-2zM207 102h2v1h-2zM209 103h1v1h-1zM210 104h2v1h-2zM212 105h1v1h-1zM213 106h1v1h-1zM214 107h2v1h-2zM216 108h1v1h-1zM217 109h1v1h-1zM218 110h1v1h-1zM219 111h1v1h-1zM220 112h1v1h-1zM221 113h1v1h-1zM222 114h2v1h-2zM224 115h1v1h-1zM225 116h1v1h-1zM226 117h2v1h-2zM228 118h1v1h-1zM229 119h1v1h-1zM230 120h2v1h-2zM232 121h1v1h-1zM233 122h1v1h-1zM234 123h2v1h-2zM236 124h1v1h-1zM447 124h11v1h-11zM237 125h1v1h-1zM445 125h2v1h-2zM458 125h8v1h-8zM238 126h2v1h-2zM442 126h3v1h-3zM466 126h3v1h-3zM240 127h1v1h-1zM439 127h3v1h-3zM469 127h2v1h-2zM241 128h2v1h-2zM437 128h2v1h-2zM471 128h3v1h-3zM243 129h2v1h-2zM435 129h2v1h-2zM474 129h3v1h-3zM245 130h1v1h-1zM433 130h2v1h-2zM477 130h1v1h-1zM246 131h2v1h-2zM431 131h2v1h-2zM478 131h2v1h-2zM248 132h1v1h-1zM429 132h2v1h-2zM480 132h1v1h-1zM249 133h2v1h-2zM427 133h2v1h-2zM481 133h2v1h-2zM251 134h3v1h-3zM425 134h2v1h-2zM483 134h2v1h-2zM254 135h4v1h-4zM422 135h3v1h-3zM485 135h2v1h-2zM258 136h4v1h-4zM414 136h8v1h-8zM487 136h2v1h-2zM262 137h4v1h-4zM382 137h16v1h-16zM406 137h8v1h-8zM489 137h1v1h-1zM266 138h3v1h-3zM378 138h4v1h-4zM398 138h8v1h-8zM490 138h2v1h-2zM269 139h2v1h-2zM374 139h4v1h-4zM492 139h1v1h-1zM271 140h7v1h-7zM370 140h4v1h-4zM493 140h1v1h-1zM278 141h16v1h-16zM366 141h4v1h-4zM494 141h2v1h-2zM294 142h8v1h-8zM362 142h4v1h-4zM496 142h1v1h-1zM302 143h4v1h-4zM358 143h4v1h-4zM497 143h2v1h-2zM306 144h4v1h-4zM354 144h4v1h-4zM499 144h2v1h-2zM310 145h3v1h-3zM350 145h4v1h-4zM501 145h2v1h-2zM313 146h2v1h-2zM346 146h4v1h-4zM503 146h2v1h-2zM315 147h3v1h-3zM342 147h4v1h-4zM505 147h2v1h-2zM318 148h4v1h-4zM334 148h8v1h-8zM507 148h2v1h-2zM322 149h12v1h-12zM509 149h1v1h-1zM1046 149h4v1h-4zM1058 149h4v1h-4zM510 150h2v1h-2zM1042 150h4v1h-4zM1050 150h8v1h-8zM1062 150h16v1h-16zM512 151h2v1h-2zM1038 151h4v1h-4zM1078 151h4v1h-4zM514 152h3v1h-3zM1034 152h4v1h-4zM1082 152h3v1h-3zM517 153h1v1h-1zM1030 153h4v1h-4zM1085 153h2v1h-2zM518 154h2v1h-2zM1015 154h15v1h-15zM1087 154h2v1h-2zM520 155h1v1h-1zM1013 155h2v1h-2zM1089 155h2v1h-2zM521 156h2v1h-2zM1011 156h2v1h-2zM1091 156h2v1h-2zM523 157h2v1h-2zM1009 157h2v1h-2zM1093 157h2v1h-2zM525 158h1v1h-1zM1007 158h2v1h-2zM1095 158h2v1h-2zM526 159h2v1h-2zM1005 159h2v1h-2zM1097 159h1v1h-1zM528 160h1v1h-1zM1004 160h1v1h-1zM1098 160h2v1h-2zM529 161h2v1h-2zM1002 161h2v1h-2zM1100 161h1v1h-1zM531 162h2v1h-2zM1001 162h1v1h-1zM1101 162h1v1h-1zM533 163h1v1h-1zM999 163h2v1h-2zM1102 163h2v1h-2zM534 164h2v1h-2zM997 164h2v1h-2zM1104 164h1v1h-1zM536 165h1v1h-1zM996 165h1v1h-1zM1105 165h1v1h-1zM537 166h1v1h-1zM994 166h2v1h-2zM1106 166h2v1h-2zM538 167h2v1h-2zM993 167h1v1h-1zM1108 167h1v1h-1zM540 168h1v1h-1zM992 168h1v1h-1zM1109 168h1v1h-1zM541 169h1v1h-1zM990 169h2v1h-2zM1110 169h1v1h-1zM542 170h2v1h-2zM989 170h1v1h-1zM1111 170h1v1h-1zM544 171h1v1h-1zM987 171h2v1h-2zM1112 171h1v1h-1zM545 172h1v1h-1zM985 172h2v1h-2zM1113 172h1v1h-1zM546 173h2v1h-2zM854 173h8v1h-8zM983 173h2v1h-2zM1114 173h2v1h-2zM548 174h1v1h-1zM846 174h8v1h-8zM862 174h4v1h-4zM981 174h2v1h-2zM1116 174h1v1h-1zM549 175h1v1h-1zM830 175h16v1h-16zM866 175h4v1h-4zM979 175h2v1h-2zM1117 175h1v1h-1zM550 176h2v1h-2zM827 176h3v1h-3zM870 176h4v1h-4zM977 176h2v1h-2zM1118 176h2v1h-2zM552 177h1v1h-1zM825 177h2v1h-2zM874 177h4v1h-4zM974 177h3v1h-3zM1120 177h1v1h-1zM553 178h1v1h-1zM822 178h3v1h-3zM878 178h8v1h-8zM970 178h4v1h-4zM1121 178h1v1h-1zM554 179h1v1h-1zM818 179h4v1h-4zM886 179h4v1h-4zM966 179h4v1h-4zM1122 179h2v1h-2zM555 180h1v1h-1zM814 180h4v1h-4zM890 180h16v1h-16zM962 180h4v1h-4zM1124 180h1v1h-1zM556 181h1v1h-1zM810 181h4v1h-4zM906 181h4v1h-4zM958 181h4v1h-4zM1125 181h1v1h-1zM557 182h1v1h-1zM808 182h2v1h-2zM910 182h4v1h-4zM955 182h3v1h-3zM1126 182h2v1h-2zM558 183h2v1h-2zM806 183h2v1h-2zM914 183h4v1h-4zM953 183h2v1h-2zM1128 183h1v1h-1zM560 184h1v1h-1zM805 184h1v1h-1zM918 184h4v1h-4zM942 184h11v1h-11zM1129 184h1v1h-1zM561 185h2v1h-2zM803 185h2v1h-2zM922 185h20v1h-20zM1130 185h2v1h-2zM563 186h2v1h-2zM801 186h2v1h-2zM1132 186h1v1h-1zM565 187h1v1h-1zM799 187h2v1h-2zM1133 187h1v1h-1zM566 188h2v1h-2zM797 188h2v1h-2zM1134 188h2v1h-2zM568 189h1v1h-1zM794 189h3v1h-3zM1136 189h1v1h-1zM569 190h2v1h-2zM638 190h28v1h-28zM670 190h8v1h-8zM702 190h4v1h-4zM791 190h3v1h-3zM1137 190h2v1h-2zM571 191h2v1h-2zM634 191h4v1h-4zM666 191h4v1h-4zM678 191h8v1h-8zM694 191h8v1h-8zM706 191h8v1h-8zM789 191h2v1h-2zM1139 191h3v1h-3zM573 192h2v1h-2zM630 192h4v1h-4zM686 192h8v1h-8zM714 192h4v1h-4zM787 192h2v1h-2zM1142 192h3v1h-3zM575 193h2v1h-2zM626 193h4v1h-4zM718 193h8v1h-8zM785 193h2v1h-2zM1145 193h2v1h-2zM577 194h1v1h-1zM622 194h4v1h-4zM726 194h3v1h-3zM782 194h3v1h-3zM1147 194h2v1h-2zM578 195h2v1h-2zM618 195h4v1h-4zM729 195h2v1h-2zM778 195h4v1h-4zM1149 195h2v1h-2zM580 196h1v1h-1zM614 196h4v1h-4zM731 196h3v1h-3zM770 196h8v1h-8zM1151 196h2v1h-2zM581 197h2v1h-2zM610 197h4v1h-4zM734 197h8v1h-8zM766 197h4v1h-4zM1153 197h2v1h-2zM583 198h3v1h-3zM606 198h4v1h-4zM742 198h24v1h-24zM1155 198h2v1h-2zM586 199h4v1h-4zM602 199h4v1h-4zM1157 199h2v1h-2zM590 200h12v1h-12zM1159 200h2v1h-2zM1161 201h2v1h-2zM1163 202h2v1h-2zM1165 203h1v1h-1zM1166 204h2v1h-2zM1168 205h1v1h-1zM1169 206h1v1h-1zM1170 207h2v1h-2zM1172 208h1v1h-1zM1173 209h1v1h-1zM1174 210h2v1h-2zM1176 211h1v1h-1zM1177 212h1v1h-1zM1178 213h2v1h-2zM1180 214h1v1h-1zM1181 215h2v1h-2zM1183 216h2v1h-2zM1185 217h1v1h-1zM1186 218h2v1h-2zM1188 219h1v1h-1zM1189 220h1v1h-1zM1190 221h2v1h-2zM1192 222h1v1h-1zM1193 223h1v1h-1zM1194 224h2v1h-2zM1196 225h1v1h-1zM1197 226h1v1h-1zM1198 227h1v1h-1zM1198 228h1v1h-1zM1199 229h1v1h-1zM1200 230h1v1h-1zM1201 231h1v1h-1zM1202 232h2v1h-2zM1204 233h1v1h-1zM1205 234h1v1h-1zM1206 235h2v1h-2zM1208 236h2v1h-2zM1210 237h3v1h-3zM1213 238h2v1h-2zM1215 239h3v1h-3zM1218 240h4v1h-4zM1222 241h8v1h-8zM1230 242h3v1h-3zM1233 243h1v1h-1zM1234 244h2v1h-2zM1236 245h1v1h-1zM1237 246h2v1h-2zM1239 247h2v1h-2zM1241 248h1v1h-1zM1241 249h1v1h-1zM1242 250h1v1h-1zM1243 251h1v1h-1zM1243 252h1v1h-1zM1244 253h1v1h-1zM1245 254h1v1h-1zM1245 255h1v1h-1zM1246 256h1v1h-1zM1247 257h1v1h-1zM1247 258h1v1h-1zM1248 259h1v1h-1zM1249 260h1v1h-1zM1249 261h1v1h-1zM1250 262h1v1h-1zM1251 263h1v1h-1zM1251 264h1v1h-1zM1252 265h1v1h-1zM1253 266h1v1h-1zM1253 267h1v1h-1zM1254 268h1v1h-1zM1255 269h1v1h-1zM1255 270h1v1h-1zM1256 271h1v1h-1zM1257 272h1v1h-1zM1257 273h1v1h-1zM1258 274h1v1h-1zM1258 275h1v1h-1zM1259 276h1v1h-1zM1259 277h1v1h-1zM1260 278h1v1h-1zM1260 279h1v1h-1zM1260 280h1v1h-1zM1261 281h1v1h-1zM1261 282h1v1h-1zM1261 283h1v1h-1zM1262 284h1v1h-1zM1262 285h1v1h-1zM1263 286h1v1h-1zM1263 287h1v1h-1zM1263 288h1v1h-1zM1264 289h1v1h-1zM1264 290h1v1h-1zM1264 291h1v1h-1zM1265 292h1v1h-1zM1265 293h1v1h-1zM1265 294h1v1h-1zM1266 295h1v1h-1zM1266 296h1v1h-1zM1267 297h1v1h-1zM1267 298h1v1h-1zM1267 299h1v1h-1zM1268 300h1v1h-1zM1268 301h1v1h-1z"/>
<path fill="#ff0000" d="M122 72h11v1h-11zM118 73h4v1h-4zM133 73h2v1h-2zM115 74h3v1h-3zM135 74h2v1h-2zM113 75h2v1h-2zM137 75h1v1h-1zM110 76h3v1h-3zM138 76h2v1h-2zM106 77h4v1h-4zM140 77h1v1h-1zM103 78h3v1h-3zM141 78h1v1h-1zM101 79h2v1h-2zM142 79h2v1h-2zM100 80h1v1h-1zM144 80h1v1h-1zM98 81h2v1h-2zM145 81h2v1h-2zM97 82h1v1h-1zM147 82h2v1h-2zM95 83h2v1h-2zM149 83h1v1h-1zM93 84h2v1h-2zM150 84h2v1h-2zM86 85h7v1h-7zM152 85h1v1h-1zM82 86h4v1h-4zM153 86h1v1h-1zM78 87h4v1h-4zM154 87h2v1h-2zM62 88h16v1h-16zM156 88h1v1h-1zM50 89h12v1h-12zM157 89h1v1h-1zM38 90h12v1h-12zM158 90h1v1h-1zM35 91h3v1h-3zM159 91h1v1h-1zM33 92h2v1h-2zM160 92h1v1h-1zM30 93h3v1h-3zM161 93h1v1h-1zM26 94h4v1h-4zM162 94h1v1h-1zM19 95h7v1h-7zM163 95h1v1h-1zM17 96h2v1h-2zM164 96h1v1h-1zM11 97h6v1h-6zM165 97h1v1h-1zM9 98h2v1h-2zM166 98h2v1h-2zM4 99h5v1h-5zM168 99h1v1h-1zM169 100h1v1h-1zM170 101h2v1h-2zM172 102h1v1h-1zM173 103h1v1h-1zM174 104h1v1h-1zM175 105h1v1h-1zM176 106h1v1h-1zM177 107h1v1h-1zM178 108h1v1h-1zM179 109h1v1h-1zM180 110h1v1h-1zM181 111h1v1h-1zM182 112h2v1h-2zM184 113h1v1h-1zM185 114h1v1h-1zM186 115h2v1h-2zM188 116h2v1h-2zM190 117h7v1h-7zM197 118h2v1h-2zM450 118h3v1h-3zM199 119h2v1h-2zM442 119h8v1h-8zM453 119h2v1h-2zM201 120h2v1h-2zM439 120h3v1h-3zM455 120h3v1h-3zM203 121h2v1h-2zM437 121h2v1h-2zM458 121h3v1h-3zM205 122h1v1h-1zM427 122h10v1h-10zM461 122h1v1h-1zM206 123h2v1h-2zM425 123h2v1h-2zM462 123h2v1h-2zM208 124h1v1h-1zM422 124h3v1h-3zM464 124h1v1h-1zM209 125h1v1h-1zM414 125h8v1h-8zM465 125h1v1h-1zM210 126h1v1h-1zM406 126h8v1h-8zM466 126h1v1h-1zM211 127h1v1h-1zM390 127h16v1h-16zM467 127h1v1h-1zM212 128h1v1h-1zM386 128h4v1h-4zM468 128h1v1h-1zM213 129h1v1h-1zM383 129h3v1h-3zM469 129h1v1h-1zM214 130h1v1h-1zM381 130h2v1h-2zM470 130h2v1h-2zM215 131h1v1h-1zM380 131h1v1h-1zM472 131h1v1h-1zM216 132h1v1h-1zM379 132h1v1h-1zM473 132h1v1h-1zM217 133h1v1h-1zM378 133h1v1h-1zM474 133h1v1h-1zM218 134h2v1h-2zM377 134h1v1h-1zM475 134h1v1h-1zM220 135h1v1h-1zM376 135h1v1h-1zM476 135h1v1h-1zM1014 135h4v1h-4zM221 136h1v1h-1zM375 136h1v1h-1zM477 136h1v1h-1zM1011 136h3v1h-3zM1018 136h3v1h-3zM222 137h2v1h-2zM302 137h4v1h-4zM374 137h1v1h-1zM477 137h1v1h-1zM1009 137h2v1h-2zM1021 137h2v1h-2zM224 138h1v1h-1zM294 138h8v1h-8zM306 138h8v1h-8zM373 138h1v1h-1zM478 138h1v1h-1zM1007 138h2v1h-2zM1023 138h2v1h-2zM225 139h1v1h-1zM292 139h2v1h-2zM314 139h3v1h-3zM372 139h1v1h-1zM479 139h1v1h-1zM1005 139h2v1h-2zM1025 139h2v1h-2zM226 140h2v1h-2zM290 140h2v1h-2zM317 140h2v1h-2zM370 140h2v1h-2zM479 140h1v1h-1zM1004 140h1v1h-1zM1027 140h7v1h-7zM228 141h1v1h-1zM289 141h1v1h-1zM319 141h2v1h-2zM369 141h1v1h-1zM480 141h1v1h-1zM1003 141h1v1h-1zM1034 141h4v1h-4zM229 142h1v1h-1zM288 142h1v1h-1zM321 142h2v1h-2zM368 142h1v1h-1zM481 142h1v1h-1zM1002 142h1v1h-1zM1038 142h3v1h-3zM230 143h2v1h-2zM286 143h2v1h-2zM323 143h2v1h-2zM366 143h2v1h-2zM481 143h1v1h-1zM1001 143h1v1h-1zM1041 143h2v1h-2zM232 144h1v1h-1zM285 144h1v1h-1zM325 144h2v1h-2zM365 144h1v1h-1zM482 144h1v1h-1zM1000 144h1v1h-1zM1043 144h2v1h-2zM233 145h2v1h-2zM284 145h1v1h-1zM327 145h2v1h-2zM363 145h2v1h-2zM483 145h1v1h-1zM998 145h2v1h-2zM1045 145h1v1h-1zM235 146h2v1h-2zM282 146h2v1h-2zM329 146h2v1h-2zM361 146h2v1h-2zM483 146h1v1h-1zM997 146h1v1h-1zM1046 146h2v1h-2zM237 147h2v1h-2zM281 147h1v1h-1zM331 147h3v1h-3zM359 147h2v1h-2zM484 147h1v1h-1zM996 147h1v1h-1zM1048 147h1v1h-1zM239 148h3v1h-3zM278 148h3v1h-3zM334 148h4v1h-4zM357 148h2v1h-2zM485 148h1v1h-1zM995 148h1v1h-1zM1049 148h1v1h-1zM242 149h3v1h-3zM276 149h2v1h-2zM338 149h4v1h-4zM354 149h3v1h-3zM485 149h1v1h-1zM994 149h1v1h-1zM1050 149h2v1h-2zM245 150h2v1h-2zM274 150h2v1h-2zM342 150h4v1h-4zM350 150h4v1h-4zM486 150h1v1h-1zM993 150h1v1h-1zM1052 150h1v1h-1zM247 151h2v1h-2zM273 151h1v1h-1zM346 151h4v1h-4zM487 151h1v1h-1zM992 151h1v1h-1zM1053 151h1v1h-1zM249 152h2v1h-2zM271 152h2v1h-2zM487 152h1v1h-1zM990 152h2v1h-2zM1054 152h2v1h-2zM251 153h3v1h-3zM269 153h2v1h-2zM488 153h1v1h-1zM989 153h1v1h-1zM1056 153h1v1h-1zM254 154h4v1h-4zM266 154h3v1h-3zM489 154h1v1h-1zM987 154h2v1h-2zM1057 154h1v1h-1zM258 155h8v1h-8zM489 155h1v1h-1zM985 155h2v1h-2zM1058 155h2v1h-2zM490 156h1v1h-1zM984 156h1v1h-1zM1060 156h1v1h-1zM490 157h1v1h-1zM982 157h2v1h-2zM1061 157h1v1h-1zM491 158h1v1h-1zM981 158h1v1h-1zM1062 158h2v1h-2zM491 159h1v1h-1zM980 159h1v1h-1zM1064 159h1v1h-1zM492 160h1v1h-1zM978 160h2v1h-2zM1065 160h2v1h-2zM493 161h1v1h-1zM977 161h1v1h-1zM1067 161h2v1h-2zM493 162h1v1h-1zM975 162h2v1h-2zM1069 162h2v1h-2zM494 163h1v1h-1zM973 163h2v1h-2zM1071 163h3v1h-3zM494 164h1v1h-1zM826 164h7v1h-7zM971 164h2v1h-2zM1074 164h4v1h-4zM495 165h1v1h-1zM818 165h8v1h-8zM833 165h1v1h-1zM969 165h2v1h-2zM1078 165h7v1h-7zM495 166h1v1h-1zM814 166h4v1h-4zM834 166h2v1h-2zM968 166h1v1h-1zM1085 166h1v1h-1zM496 167h1v1h-1zM806 167h8v1h-8zM836 167h2v1h-2zM966 167h2v1h-2zM1086 167h1v1h-1zM497 168h1v1h-1zM802 168h4v1h-4zM838 168h3v1h-3zM965 168h1v1h-1zM1087 168h1v1h-1zM498 169h1v1h-1zM798 169h4v1h-4zM841 169h2v1h-2zM962 169h3v1h-3zM1088 169h1v1h-1zM499 170h1v1h-1zM795 170h3v1h-3zM843 170h2v1h-2zM959 170h3v1h-3zM1089 170h1v1h-1zM500 171h1v1h-1zM793 171h2v1h-2zM845 171h2v1h-2zM957 171h2v1h-2zM1090 171h1v1h-1zM501 172h1v1h-1zM642 172h4v1h-4zM792 172h1v1h-1zM847 172h2v1h-2zM954 172h3v1h-3zM1091 172h1v1h-1zM502 173h1v1h-1zM640 173h2v1h-2zM646 173h3v1h-3zM791 173h1v1h-1zM849 173h2v1h-2zM950 173h4v1h-4zM1092 173h1v1h-1zM502 174h1v1h-1zM639 174h1v1h-1zM649 174h2v1h-2zM790 174h1v1h-1zM851 174h2v1h-2zM947 174h3v1h-3zM1093 174h1v1h-1zM503 175h1v1h-1zM638 175h1v1h-1zM651 175h2v1h-2zM789 175h1v1h-1zM853 175h1v1h-1zM945 175h2v1h-2zM1094 175h1v1h-1zM504 176h1v1h-1zM637 176h1v1h-1zM653 176h2v1h-2zM788 176h1v1h-1zM854 176h2v1h-2zM944 176h1v1h-1zM1095 176h1v1h-1zM505 177h1v1h-1zM636 177h1v1h-1zM655 177h3v1h-3zM786 177h2v1h-2zM856 177h1v1h-1zM942 177h2v1h-2zM1096 177h1v1h-1zM506 178h1v1h-1zM634 178h2v1h-2zM658 178h3v1h-3zM785 178h1v1h-1zM857 178h2v1h-2zM941 178h1v1h-1zM1097 178h1v1h-1zM507 179h1v1h-1zM633 179h1v1h-1zM661 179h1v1h-1zM784 179h1v1h-1zM859 179h2v1h-2zM940 179h1v1h-1zM1098 179h1v1h-1zM508 180h1v1h-1zM632 180h1v1h-1zM662 180h2v1h-2zM782 180h2v1h-2zM861 180h1v1h-1zM938 180h2v1h-2zM1098 180h1v1h-1zM509 181h1v1h-1zM630 181h2v1h-2zM664 181h1v1h-1zM781 181h1v1h-1zM862 181h2v1h-2zM937 181h1v1h-1zM1099 181h1v1h-1zM510 182h2v1h-2zM629 182h1v1h-1zM665 182h1v1h-1zM778 182h3v1h-3zM864 182h1v1h-1zM935 182h2v1h-2zM1100 182h1v1h-1zM512 183h1v1h-1zM628 183h1v1h-1zM666 183h2v1h-2zM774 183h4v1h-4zM865 183h2v1h-2zM933 183h2v1h-2zM1101 183h1v1h-1zM513 184h1v1h-1zM627 184h1v1h-1zM668 184h1v1h-1zM770 184h4v1h-4zM867 184h2v1h-2zM932 184h1v1h-1zM1102 184h1v1h-1zM514 185h2v1h-2zM626 185h1v1h-1zM669 185h2v1h-2zM768 185h2v1h-2zM869 185h2v1h-2zM930 185h2v1h-2zM1102 185h1v1h-1zM516 186h1v1h-1zM625 186h1v1h-1zM671 186h2v1h-2zM766 186h2v1h-2zM871 186h2v1h-2zM929 186h1v1h-1zM1103 186h1v1h-1zM517 187h1v1h-1zM624 187h1v1h-1zM673 187h1v1h-1zM765 187h1v1h-1zM873 187h2v1h-2zM927 187h2v1h-2zM1104 187h1v1h-1zM518 188h1v1h-1zM622 188h2v1h-2zM674 188h2v1h-2zM763 188h2v1h-2zM875 188h2v1h-2zM925 188h2v1h-2zM1105 188h1v1h-1zM519 189h1v1h-1zM621 189h1v1h-1zM676 189h1v1h-1zM761 189h2v1h-2zM877 189h2v1h-2zM918 189h7v1h-7zM1106 189h1v1h-1zM520 190h1v1h-1zM620 190h1v1h-1zM677 190h1v1h-1zM759 190h2v1h-2zM879 190h2v1h-2zM914 190h4v1h-4zM1106 190h1v1h-1zM521 191h2v1h-2zM618 191h2v1h-2zM678 191h2v1h-2zM757 191h2v1h-2zM881 191h2v1h-2zM910 191h4v1h-4zM1107 191h1v1h-1zM523 192h2v1h-2zM617 192h1v1h-1zM680 192h1v1h-1zM756 192h1v1h-1zM883 192h3v1h-3zM902 192h8v1h-8zM1108 192h1v1h-1zM525 193h1v1h-1zM615 193h2v1h-2zM681 193h1v1h-1zM754 193h2v1h-2zM886 193h4v1h-4zM894 193h8v1h-8zM1109 193h1v1h-1zM526 194h2v1h-2zM613 194h2v1h-2zM682 194h1v1h-1zM753 194h1v1h-1zM890 194h4v1h-4zM1110 194h1v1h-1zM528 195h1v1h-1zM612 195h1v1h-1zM682 195h1v1h-1zM751 195h2v1h-2zM1111 195h1v1h-1zM529 196h2v1h-2zM610 196h2v1h-2zM683 196h1v1h-1zM749 196h2v1h-2zM1112 196h1v1h-1zM531 197h7v1h-7zM542 197h4v1h-4zM609 197h1v1h-1zM684 197h1v1h-1zM748 197h1v1h-1zM1113 197h1v1h-1zM538 198h4v1h-4zM546 198h8v1h-8zM608 198h1v1h-1zM685 198h1v1h-1zM746 198h2v1h-2zM1114 198h1v1h-1zM554 199h4v1h-4zM606 199h2v1h-2zM686 199h1v1h-1zM745 199h1v1h-1zM1115 199h1v1h-1zM558 200h11v1h-11zM605 200h1v1h-1zM687 200h1v1h-1zM744 200h1v1h-1zM1116 200h1v1h-1zM569 201h2v1h-2zM603 201h2v1h-2zM688 201h1v1h-1zM742 201h2v1h-2zM1117 201h1v1h-1zM571 202h6v1h-6zM601 202h2v1h-2zM689 202h2v1h-2zM741 202h1v1h-1zM1118 202h2v1h-2zM577 203h2v1h-2zM598 203h3v1h-3zM691 203h2v1h-2zM740 203h1v1h-1zM1120 203h1v1h-1zM579 204h3v1h-3zM594 204h4v1h-4zM693 204h2v1h-2zM738 204h2v1h-2zM1121 204h2v1h-2zM582 205h4v1h-4zM590 205h4v1h-4zM695 205h3v1h-3zM737 205h1v1h-1zM1123 205h2v1h-2zM586 206h4v1h-4zM698 206h8v1h-8zM726 206h4v1h-4zM734 206h3v1h-3zM1125 206h1v1h-1zM706 207h4v1h-4zM722 207h4v1h-4zM730 207h4v1h-4zM1126 207h1v1h-1zM710 208h4v1h-4zM718 208h4v1h-4zM1127 208h1v1h-1zM714 209h4v1h-4zM1128 209h1v1h-1zM1129 210h1v1h-1zM1130 211h1v1h-1zM1131 212h1v1h-1zM1132 213h1v1h-1zM1133 214h1v1h-1zM1134 215h1v1h-1zM1135 216h1v1h-1zM1136 217h1v1h-1zM1137 218h2v1h-2zM1139 219h7v1h-7zM1146 220h23v1h-23zM1169 221h1v1h-1zM1170 222h2v1h-2zM1172 223h1v1h-1zM1173 224h2v1h-2zM1175 225h2v1h-2zM1177 226h1v1h-1zM1178 227h2v1h-2zM1180 228h1v1h-1zM1181 229h2v1h-2zM1183 230h3v1h-3zM1186 231h3v1h-3zM1189 232h1v1h-1zM1190 233h1v1h-1zM1191 234h1v1h-1zM1192 235h1v1h-1zM1193 236h1v1h-1zM1194 237h2v1h-2zM1196 238h1v1h-1zM1197 239h1v1h-1zM1197 240h1v1h-1zM1198 241h1v1h-1zM1198 242h1v1h-1zM1199 243h1v1h-1zM1199 244h1v1h-1zM1200 245h1v1h-1zM1201 246h1v1h-1zM1202 247h1v1h-1zM1202 248h1v1h-1zM1203 249h1v1h-1zM1204 250h1v1h-1zM1205 251h1v1h-1zM1206 252h1v1h-1zM1206 253h1v1h-1zM1207 254h1v1h-1zM1208 255h1v1h-1zM1209 256h2v1h-2zM1211 257h2v1h-2zM1213 258h1v1h-1zM1214 259h2v1h-2zM1216 260h1v1h-1zM1217 261h1v1h-1zM1218 262h2v1h-2zM1220 263h2v1h-2zM1226 263h7v1h-7zM1222 264h4v1h-4zM1233 264h1v1h-1zM1234 265h1v1h-1zM1235 266h1v1h-1zM1236 267h1v1h-1zM1237 268h2v1h-2zM1239 269h2v1h-2zM1241 270h1v1h-1zM1241 271h1v1h-1zM1242 272h1v1h-1zM1242 273h1v1h-1zM1243 274h1v1h-1zM1243 275h1v1h-1zM1244 276h1v1h-1zM1244 277h1v1h-1zM1244 278h1v1h-1zM1245 279h1v1h-1zM1245 280h1v1h-1zM1246 281h1v1h-1zM1246 282h1v1h-1zM1246 283h1v1h-1zM1247 284h1v1h-1zM1247 285h1v1h-1zM1248 286h1v1h-1zM1248 287h1v1h-1zM1248 288h1v1h-1zM1249 289h1v1h-1zM1249 290h1v1h-1zM1250 291h1v1h-1zM1250 292h1v1h-1zM1250 293h1v1h-1zM1251 294h1v1h-1zM1251 295h1v1h-1zM1252 296h1v1h-1zM1252 297h1v1h-1zM1253 298h1v1h-1zM1253 299h1v1h-1zM1254 300h1v1h-1zM1254 301h1v1h-1zM1255 302h1v1h-1zM1255 303h1v1h-1zM1256 304h1v1h-1zM1256 305h1v1h-1zM1256 306h1v1h-1zM1257 307h1v1h-1zM1257 308h1v1h-1zM1257 309h1v1h-1zM1257 310h1v1h-1zM1258 311h1v1h-1zM1258 312h1v1h-1zM1258 313h1v1h-1zM1259 314h1v1h-1zM1259 315h1v1h-1zM1259 316h1v1h-1zM1259 317h1v1h-1zM1260 318h1v1h-1zM1260 319h1v1h-1zM1260 320h1v1h-1zM1260 321h1v1h-1zM1261 322h1v1h-1zM1261 323h1v1h-1zM1261 324h1v1h-1zM1261 325h1v1h-1zM1262 326h1v1h-1zM1262 327h1v1h-1zM1262 328h1v1h-1zM1262 329h1v1h-1zM1263 330h1v1h-1zM1263 331h1v1h-1zM1263 332h1v1h-1zM1263 333h1v1h-1zM1264 334h1v1h-1zM1264 335h1v1h-1zM1264 336h1v1h-1zM1264 337h1v1h-1zM1264 338h1v1h-1zM1265 339h1v1h-1zM1265 340h1v1h-1zM1265 341h1v1h-1zM1265 342h1v1h-1zM1265 343h1v1h-1zM1266 344h1v1h-1zM1266 345h1v1h-1zM1266 346h1v1h-1zM1266 347h1v1h-1zM1266 348h1v1h-1zM1266 349h1v1h-1zM1267 350h1v1h-1zM1267 351h1v1h-1zM1267 352h1v1h-1zM1267 353h1v1h-1zM1267 354h1v1h-1zM1268 355h1v1h-1zM1268 356h1v1h-1zM1268 357h1v1h-1z"/>
<path fill="#ffa500" d="M112 63h1v1h-1zM110 64h2v1h-2zM113 64h2v1h-2zM109 65h1v1h-1zM115 65h2v1h-2zM104 66h5v1h-5zM117 66h2v1h-2zM103 67h1v1h-1zM119 67h2v1h-2zM102 68h1v1h-1zM121 68h2v1h-2zM101 69h1v1h-1zM123 69h2v1h-2zM100 70h1v1h-1zM125 70h1v1h-1zM98 71h2v1h-2zM126 71h2v1h-2zM97 72h1v1h-1zM128 72h1v1h-1zM96 73h1v1h-1zM129 73h1v1h-1zM95 74h1v1h-1zM130 74h1v1h-1zM95 75h1v1h-1zM131 75h1v1h-1zM94 76h1v1h-1zM132 76h1v1h-1zM93 77h1v1h-1zM132 77h1v1h-1zM93 78h1v1h-1zM133 78h1v1h-1zM90 79h3v1h-3zM133 79h1v1h-1zM88 80h2v1h-2zM134 80h1v1h-1zM86 81h2v1h-2zM134 81h1v1h-1zM85 82h1v1h-1zM135 82h1v1h-1zM82 83h3v1h-3zM135 83h1v1h-1zM80 84h2v1h-2zM136 84h1v1h-1zM79 85h1v1h-1zM136 85h1v1h-1zM36 86h1v1h-1zM78 86h1v1h-1zM136 86h1v1h-1zM34 87h2v1h-2zM37 87h2v1h-2zM66 87h8v1h-8zM77 87h1v1h-1zM137 87h1v1h-1zM33 88h1v1h-1zM39 88h3v1h-3zM46 88h7v1h-7zM64 88h2v1h-2zM74 88h3v1h-3zM137 88h1v1h-1zM19 89h7v1h-7zM30 89h3v1h-3zM42 89h4v1h-4zM53 89h2v1h-2zM62 89h2v1h-2zM138 89h1v1h-1zM17 90h2v1h-2zM26 90h4v1h-4zM55 90h3v1h-3zM61 90h1v1h-1zM138 90h1v1h-1zM14 91h3v1h-3zM58 91h3v1h-3zM139 91h1v1h-1zM10 92h4v1h-4zM139 92h1v1h-1zM6 93h4v1h-4zM140 93h1v1h-1zM4 94h2v1h-2zM140 94h1v1h-1zM141 95h1v1h-1zM141 96h1v1h-1zM142 97h1v1h-1zM142 98h1v1h-1zM143 99h1v1h-1zM143 100h1v1h-1zM144 101h1v1h-1zM145 102h1v1h-1zM145 103h1v1h-1zM146 104h1v1h-1zM146 105h1v1h-1zM147 106h1v1h-1zM147 107h1v1h-1zM148 108h1v1h-1zM159 108h2v1h-2zM149 109h1v1h-1zM157 109h2v1h-2zM161 109h2v1h-2zM439 109h2v1h-2zM150 110h2v1h-2zM154 110h3v1h-3zM163 110h3v1h-3zM437 110h2v1h-2zM441 110h2v1h-2zM152 111h2v1h-2zM166 111h3v1h-3zM430 111h7v1h-7zM443 111h2v1h-2zM169 112h1v1h-1zM427 112h3v1h-3zM445 112h1v1h-1zM170 113h2v1h-2zM425 113h2v1h-2zM446 113h1v1h-1zM172 114h1v1h-1zM424 114h1v1h-1zM447 114h1v1h-1zM173 115h1v1h-1zM422 115h2v1h-2zM448 115h1v1h-1zM174 116h2v1h-2zM421 116h1v1h-1zM449 116h1v1h-1zM176 117h1v1h-1zM420 117h1v1h-1zM449 117h1v1h-1zM177 118h2v1h-2zM419 118h1v1h-1zM450 118h1v1h-1zM179 119h3v1h-3zM418 119h1v1h-1zM451 119h1v1h-1zM182 120h3v1h-3zM378 120h3v1h-3zM417 120h1v1h-1zM451 120h1v1h-1zM185 121h1v1h-1zM375 121h3v1h-3zM381 121h1v1h-1zM416 121h1v1h-1zM452 121h1v1h-1zM1002 121h4v1h-4zM186 122h2v1h-2zM364 122h2v1h-2zM373 122h2v1h-2zM382 122h1v1h-1zM416 122h1v1h-1zM452 122h1v1h-1zM1000 122h2v1h-2zM1006 122h3v1h-3zM188 123h2v1h-2zM363 123h1v1h-1zM366 123h7v1h-7zM383 123h1v1h-1zM386 123h4v1h-4zM415 123h1v1h-1zM453 123h1v1h-1zM999 123h1v1h-1zM1009 123h1v1h-1zM190 124h7v1h-7zM362 124h1v1h-1zM384 124h2v1h-2zM390 124h3v1h-3zM415 124h1v1h-1zM453 124h1v1h-1zM998 124h1v1h-1zM1010 124h2v1h-2zM197 125h1v1h-1zM292 125h1v1h-1zM361 125h1v1h-1zM393 125h1v1h-1zM414 125h1v1h-1zM454 125h1v1h-1zM998 125h1v1h-1zM1012 125h1v1h-1zM198 126h1v1h-1zM291 126h1v1h-1zM293 126h2v1h-2zM360 126h1v1h-1zM393 126h1v1h-1zM414 126h1v1h-1zM454 126h1v1h-1zM997 126h1v1h-1zM1013 126h1v1h-1zM199 127h1v1h-1zM290 127h1v1h-1zM295 127h3v1h-3zM359 127h1v1h-1zM394 127h1v1h-1zM413 127h1v1h-1zM455 127h1v1h-1zM996 127h1v1h-1zM1013 127h1v1h-1zM200 128h1v1h-1zM289 128h1v1h-1zM298 128h3v1h-3zM358 128h1v1h-1zM394 128h1v1h-1zM413 128h1v1h-1zM455 128h1v1h-1zM996 128h1v1h-1zM1014 128h1v1h-1zM201 129h1v1h-1zM288 129h1v1h-1zM301 129h1v1h-1zM358 129h1v1h-1zM395 129h1v1h-1zM412 129h1v1h-1zM456 129h1v1h-1zM995 129h1v1h-1zM1014 129h1v1h-1zM202 130h2v1h-2zM287 130h1v1h-1zM302 130h2v1h-2zM357 130h1v1h-1zM395 130h1v1h-1zM411 130h1v1h-1zM456 130h1v1h-1zM995 130h1v1h-1zM1015 130h1v1h-1zM204 131h1v1h-1zM286 131h1v1h-1zM304 131h1v1h-1zM356 131h1v1h-1zM396 131h1v1h-1zM410 131h1v1h-1zM456 131h1v1h-1zM994 131h1v1h-1zM1015 131h1v1h-1zM205 132h1v1h-1zM285 132h1v1h-1zM305 132h1v1h-1zM355 132h1v1h-1zM396 132h1v1h-1zM409 132h1v1h-1zM457 132h1v1h-1zM994 132h1v1h-1zM1016 132h1v1h-1zM206 133h2v1h-2zM284 133h1v1h-1zM305 133h1v1h-1zM355 133h1v1h-1zM397 133h1v1h-1zM407 133h2v1h-2zM457 133h1v1h-1zM993 133h1v1h-1zM1016 133h1v1h-1zM208 134h1v1h-1zM282 134h2v1h-2zM306 134h1v1h-1zM354 134h1v1h-1zM398 134h1v1h-1zM405 134h2v1h-2zM458 134h1v1h-1zM993 134h1v1h-1zM1017 134h1v1h-1zM209 135h1v1h-1zM281 135h1v1h-1zM306 135h1v1h-1zM353 135h1v1h-1zM399 135h1v1h-1zM402 135h3v1h-3zM458 135h1v1h-1zM992 135h1v1h-1zM1017 135h1v1h-1zM209 136h1v1h-1zM280 136h1v1h-1zM307 136h1v1h-1zM353 136h1v1h-1zM400 136h2v1h-2zM458 136h1v1h-1zM991 136h1v1h-1zM1018 136h1v1h-1zM210 137h1v1h-1zM279 137h1v1h-1zM307 137h1v1h-1zM352 137h1v1h-1zM459 137h1v1h-1zM990 137h1v1h-1zM1018 137h1v1h-1zM211 138h1v1h-1zM278 138h1v1h-1zM308 138h1v1h-1zM351 138h1v1h-1zM459 138h1v1h-1zM989 138h1v1h-1zM1018 138h1v1h-1zM211 139h1v1h-1zM278 139h1v1h-1zM308 139h1v1h-1zM350 139h1v1h-1zM460 139h1v1h-1zM988 139h1v1h-1zM1019 139h1v1h-1zM212 140h1v1h-1zM277 140h1v1h-1zM309 140h1v1h-1zM350 140h1v1h-1zM460 140h1v1h-1zM987 140h1v1h-1zM1019 140h1v1h-1zM212 141h1v1h-1zM276 141h1v1h-1zM309 141h1v1h-1zM349 141h1v1h-1zM461 141h1v1h-1zM986 141h1v1h-1zM1020 141h1v1h-1zM213 142h1v1h-1zM275 142h1v1h-1zM310 142h1v1h-1zM348 142h1v1h-1zM461 142h1v1h-1zM985 142h1v1h-1zM1020 142h1v1h-1zM213 143h1v1h-1zM274 143h1v1h-1zM310 143h1v1h-1zM347 143h1v1h-1zM462 143h1v1h-1zM984 143h1v1h-1zM1020 143h1v1h-1zM214 144h1v1h-1zM274 144h1v1h-1zM311 144h1v1h-1zM347 144h1v1h-1zM463 144h1v1h-1zM983 144h1v1h-1zM1021 144h1v1h-1zM214 145h1v1h-1zM273 145h1v1h-1zM311 145h1v1h-1zM346 145h1v1h-1zM463 145h1v1h-1zM983 145h1v1h-1zM1021 145h1v1h-1zM215 146h1v1h-1zM271 146h2v1h-2zM312 146h1v1h-1zM346 146h1v1h-1zM464 146h1v1h-1zM982 146h1v1h-1zM1022 146h1v1h-1zM215 147h1v1h-1zM269 147h2v1h-2zM312 147h1v1h-1zM345 147h1v1h-1zM465 147h1v1h-1zM981 147h1v1h-1zM1022 147h1v1h-1zM216 148h1v1h-1zM267 148h2v1h-2zM313 148h1v1h-1zM345 148h1v1h-1zM465 148h1v1h-1zM981 148h1v1h-1zM1022 148h1v1h-1zM216 149h1v1h-1zM254 149h4v1h-4zM265 149h2v1h-2zM313 149h1v1h-1zM344 149h1v1h-1zM466 149h1v1h-1zM979 149h2v1h-2zM1023 149h1v1h-1zM217 150h1v1h-1zM252 150h2v1h-2zM258 150h7v1h-7zM314 150h1v1h-1zM343 150h1v1h-1zM466 150h1v1h-1zM977 150h2v1h-2zM1023 150h1v1h-1zM217 151h1v1h-1zM250 151h2v1h-2zM315 151h1v1h-1zM343 151h1v1h-1zM467 151h1v1h-1zM976 151h1v1h-1zM1024 151h1v1h-1zM218 152h1v1h-1zM249 152h1v1h-1zM315 152h1v1h-1zM342 152h1v1h-1zM467 152h1v1h-1zM974 152h2v1h-2zM1024 152h1v1h-1zM219 153h1v1h-1zM248 153h1v1h-1zM316 153h1v1h-1zM341 153h1v1h-1zM468 153h1v1h-1zM973 153h1v1h-1zM1025 153h1v1h-1zM219 154h1v1h-1zM246 154h2v1h-2zM317 154h1v1h-1zM341 154h1v1h-1zM469 154h1v1h-1zM972 154h1v1h-1zM1025 154h1v1h-1zM1048 154h2v1h-2zM220 155h1v1h-1zM245 155h1v1h-1zM317 155h1v1h-1zM340 155h1v1h-1zM470 155h1v1h-1zM803 155h6v1h-6zM971 155h1v1h-1zM1026 155h1v1h-1zM1047 155h1v1h-1zM1050 155h3v1h-3zM221 156h2v1h-2zM242 156h3v1h-3zM318 156h1v1h-1zM339 156h1v1h-1zM470 156h1v1h-1zM801 156h2v1h-2zM809 156h2v1h-2zM970 156h1v1h-1zM1027 156h1v1h-1zM1046 156h1v1h-1zM1053 156h1v1h-1zM223 157h2v1h-2zM240 157h2v1h-2zM318 157h1v1h-1zM338 157h1v1h-1zM471 157h1v1h-1zM800 157h1v1h-1zM811 157h2v1h-2zM970 157h1v1h-1zM1027 157h1v1h-1zM1045 157h1v1h-1zM1054 157h2v1h-2zM225 158h1v1h-1zM239 158h1v1h-1zM319 158h1v1h-1zM338 158h1v1h-1zM472 158h1v1h-1zM798 158h2v1h-2zM813 158h1v1h-1zM969 158h1v1h-1zM1028 158h1v1h-1zM1044 158h1v1h-1zM1056 158h1v1h-1zM226 159h2v1h-2zM238 159h1v1h-1zM319 159h1v1h-1zM337 159h1v1h-1zM473 159h1v1h-1zM797 159h1v1h-1zM814 159h2v1h-2zM968 159h1v1h-1zM1029 159h1v1h-1zM1042 159h2v1h-2zM1057 159h2v1h-2zM228 160h1v1h-1zM237 160h1v1h-1zM320 160h1v1h-1zM336 160h1v1h-1zM474 160h2v1h-2zM796 160h1v1h-1zM816 160h1v1h-1zM967 160h1v1h-1zM1030 160h1v1h-1zM1041 160h1v1h-1zM1059 160h2v1h-2zM229 161h2v1h-2zM234 161h3v1h-3zM321 161h1v1h-1zM335 161h1v1h-1zM476 161h1v1h-1zM795 161h1v1h-1zM817 161h1v1h-1zM966 161h1v1h-1zM1031 161h1v1h-1zM1039 161h2v1h-2zM1061 161h2v1h-2zM231 162h3v1h-3zM322 162h1v1h-1zM334 162h1v1h-1zM477 162h1v1h-1zM794 162h1v1h-1zM818 162h1v1h-1zM965 162h1v1h-1zM1032 162h2v1h-2zM1037 162h2v1h-2zM1063 162h2v1h-2zM322 163h1v1h-1zM333 163h1v1h-1zM477 163h1v1h-1zM793 163h1v1h-1zM819 163h1v1h-1zM944 163h5v1h-5zM960 163h5v1h-5zM1034 163h3v1h-3zM1065 163h1v1h-1zM323 164h1v1h-1zM332 164h1v1h-1zM478 164h1v1h-1zM792 164h1v1h-1zM820 164h1v1h-1zM943 164h1v1h-1zM949 164h1v1h-1zM958 164h2v1h-2zM1066 164h2v1h-2zM324 165h1v1h-1zM330 165h2v1h-2zM478 165h1v1h-1zM624 165h13v1h-13zM791 165h1v1h-1zM821 165h1v1h-1zM943 165h1v1h-1zM950 165h2v1h-2zM957 165h1v1h-1zM1068 165h1v1h-1zM325 166h2v1h-2zM329 166h1v1h-1zM479 166h1v1h-1zM622 166h2v1h-2zM637 166h2v1h-2zM791 166h1v1h-1zM822 166h2v1h-2zM942 166h1v1h-1zM952 166h5v1h-5zM1069 166h1v1h-1zM327 167h2v1h-2zM479 167h1v1h-1zM621 167h1v1h-1zM639 167h2v1h-2zM790 167h1v1h-1zM824 167h1v1h-1zM942 167h1v1h-1zM1070 167h1v1h-1zM480 168h1v1h-1zM618 168h3v1h-3zM641 168h1v1h-1zM790 168h1v1h-1zM825 168h1v1h-1zM941 168h1v1h-1zM1071 168h1v1h-1zM481 169h1v1h-1zM616 169h2v1h-2zM641 169h1v1h-1zM789 169h1v1h-1zM826 169h2v1h-2zM941 169h1v1h-1zM1072 169h1v1h-1zM481 170h1v1h-1zM614 170h2v1h-2zM642 170h1v1h-1zM789 170h1v1h-1zM828 170h1v1h-1zM939 170h2v1h-2zM1073 170h2v1h-2zM482 171h1v1h-1zM613 171h1v1h-1zM642 171h1v1h-1zM759 171h2v1h-2zM788 171h1v1h-1zM829 171h1v1h-1zM937 171h2v1h-2zM1075 171h2v1h-2zM482 172h1v1h-1zM612 172h1v1h-1zM643 172h1v1h-1zM757 172h2v1h-2zM761 172h1v1h-1zM787 172h1v1h-1zM830 172h1v1h-1zM935 172h2v1h-2zM1077 172h1v1h-1zM483 173h1v1h-1zM611 173h1v1h-1zM643 173h1v1h-1zM756 173h1v1h-1zM762 173h2v1h-2zM786 173h1v1h-1zM831 173h1v1h-1zM933 173h2v1h-2zM1078 173h2v1h-2zM483 174h1v1h-1zM610 174h1v1h-1zM644 174h1v1h-1zM755 174h1v1h-1zM764 174h2v1h-2zM785 174h1v1h-1zM832 174h1v1h-1zM932 174h1v1h-1zM1080 174h1v1h-1zM484 175h1v1h-1zM610 175h1v1h-1zM645 175h1v1h-1zM755 175h1v1h-1zM766 175h3v1h-3zM784 175h1v1h-1zM833 175h1v1h-1zM931 175h1v1h-1zM1081 175h1v1h-1zM484 176h1v1h-1zM609 176h1v1h-1zM645 176h1v1h-1zM754 176h1v1h-1zM769 176h1v1h-1zM783 176h1v1h-1zM833 176h1v1h-1zM930 176h1v1h-1zM1082 176h2v1h-2zM485 177h1v1h-1zM608 177h1v1h-1zM646 177h1v1h-1zM754 177h1v1h-1zM770 177h1v1h-1zM782 177h1v1h-1zM834 177h1v1h-1zM930 177h1v1h-1zM1084 177h1v1h-1zM485 178h1v1h-1zM608 178h1v1h-1zM646 178h1v1h-1zM753 178h1v1h-1zM771 178h1v1h-1zM781 178h1v1h-1zM835 178h1v1h-1zM915 178h3v1h-3zM929 178h1v1h-1zM1085 178h1v1h-1zM486 179h1v1h-1zM607 179h1v1h-1zM647 179h1v1h-1zM753 179h1v1h-1zM772 179h2v1h-2zM778 179h3v1h-3zM835 179h1v1h-1zM913 179h2v1h-2zM918 179h3v1h-3zM928 179h1v1h-1zM1085 179h1v1h-1zM487 180h1v1h-1zM607 180h1v1h-1zM647 180h1v1h-1zM752 180h1v1h-1zM774 180h4v1h-4zM836 180h1v1h-1zM912 180h1v1h-1zM921 180h1v1h-1zM926 180h2v1h-2zM1086 180h1v1h-1zM487 181h1v1h-1zM606 181h1v1h-1zM648 181h1v1h-1zM751 181h1v1h-1zM837 181h1v1h-1zM911 181h1v1h-1zM922 181h2v1h-2zM925 181h1v1h-1zM1086 181h1v1h-1zM488 182h1v1h-1zM606 182h1v1h-1zM649 182h1v1h-1zM751 182h1v1h-1zM838 182h2v1h-2zM910 182h1v1h-1zM924 182h1v1h-1zM1087 182h1v1h-1zM489 183h1v1h-1zM605 183h1v1h-1zM649 183h1v1h-1zM750 183h1v1h-1zM840 183h1v1h-1zM909 183h1v1h-1zM1087 183h1v1h-1zM489 184h1v1h-1zM605 184h1v1h-1zM650 184h1v1h-1zM750 184h1v1h-1zM841 184h2v1h-2zM908 184h1v1h-1zM1088 184h1v1h-1zM490 185h1v1h-1zM604 185h1v1h-1zM650 185h1v1h-1zM749 185h1v1h-1zM843 185h2v1h-2zM855 185h2v1h-2zM907 185h1v1h-1zM1089 185h1v1h-1zM490 186h1v1h-1zM604 186h1v1h-1zM651 186h1v1h-1zM749 186h1v1h-1zM845 186h2v1h-2zM853 186h2v1h-2zM857 186h2v1h-2zM906 186h1v1h-1zM1089 186h1v1h-1zM491 187h1v1h-1zM603 187h1v1h-1zM651 187h1v1h-1zM748 187h1v1h-1zM847 187h6v1h-6zM859 187h2v1h-2zM905 187h1v1h-1zM1090 187h1v1h-1zM491 188h1v1h-1zM603 188h1v1h-1zM652 188h1v1h-1zM747 188h1v1h-1zM861 188h2v1h-2zM904 188h1v1h-1zM1091 188h1v1h-1zM492 189h1v1h-1zM602 189h1v1h-1zM653 189h1v1h-1zM747 189h1v1h-1zM863 189h2v1h-2zM903 189h1v1h-1zM1091 189h1v1h-1zM492 190h1v1h-1zM602 190h1v1h-1zM653 190h1v1h-1zM746 190h1v1h-1zM865 190h2v1h-2zM903 190h1v1h-1zM1092 190h1v1h-1zM493 191h1v1h-1zM601 191h1v1h-1zM654 191h1v1h-1zM745 191h1v1h-1zM867 191h2v1h-2zM902 191h1v1h-1zM1093 191h1v1h-1zM493 192h1v1h-1zM601 192h1v1h-1zM655 192h1v1h-1zM745 192h1v1h-1zM869 192h1v1h-1zM901 192h1v1h-1zM1093 192h1v1h-1zM494 193h1v1h-1zM600 193h1v1h-1zM655 193h1v1h-1zM744 193h1v1h-1zM870 193h2v1h-2zM901 193h1v1h-1zM1094 193h1v1h-1zM494 194h1v1h-1zM516 194h1v1h-1zM600 194h1v1h-1zM656 194h1v1h-1zM743 194h1v1h-1zM872 194h1v1h-1zM900 194h1v1h-1zM1094 194h1v1h-1zM495 195h1v1h-1zM514 195h2v1h-2zM517 195h1v1h-1zM600 195h1v1h-1zM657 195h1v1h-1zM742 195h1v1h-1zM873 195h2v1h-2zM899 195h1v1h-1zM1095 195h1v1h-1zM495 196h1v1h-1zM502 196h8v1h-8zM513 196h1v1h-1zM518 196h1v1h-1zM542 196h4v1h-4zM599 196h1v1h-1zM658 196h1v1h-1zM741 196h1v1h-1zM875 196h3v1h-3zM898 196h1v1h-1zM1095 196h1v1h-1zM496 197h6v1h-6zM510 197h3v1h-3zM518 197h1v1h-1zM540 197h2v1h-2zM546 197h3v1h-3zM599 197h1v1h-1zM659 197h1v1h-1zM731 197h3v1h-3zM738 197h3v1h-3zM878 197h4v1h-4zM897 197h1v1h-1zM1096 197h1v1h-1zM519 198h1v1h-1zM531 198h2v1h-2zM538 198h2v1h-2zM549 198h1v1h-1zM598 198h1v1h-1zM660 198h1v1h-1zM729 198h2v1h-2zM734 198h4v1h-4zM882 198h4v1h-4zM895 198h2v1h-2zM1096 198h1v1h-1zM520 199h2v1h-2zM529 199h2v1h-2zM533 199h2v1h-2zM537 199h1v1h-1zM550 199h2v1h-2zM598 199h1v1h-1zM661 199h1v1h-1zM728 199h1v1h-1zM886 199h4v1h-4zM893 199h2v1h-2zM1097 199h1v1h-1zM522 200h7v1h-7zM535 200h2v1h-2zM552 200h2v1h-2zM597 200h1v1h-1zM662 200h2v1h-2zM726 200h2v1h-2zM890 200h3v1h-3zM1097 200h1v1h-1zM554 201h7v1h-7zM597 201h1v1h-1zM664 201h2v1h-2zM670 201h4v1h-4zM725 201h1v1h-1zM1098 201h1v1h-1zM561 202h1v1h-1zM596 202h1v1h-1zM666 202h4v1h-4zM674 202h3v1h-3zM724 202h1v1h-1zM1098 202h1v1h-1zM562 203h2v1h-2zM596 203h1v1h-1zM677 203h1v1h-1zM723 203h1v1h-1zM1099 203h1v1h-1zM564 204h2v1h-2zM595 204h1v1h-1zM678 204h1v1h-1zM722 204h1v1h-1zM1099 204h1v1h-1zM566 205h4v1h-4zM595 205h1v1h-1zM679 205h1v1h-1zM721 205h1v1h-1zM1100 205h1v1h-1zM570 206h4v1h-4zM594 206h1v1h-1zM680 206h1v1h-1zM719 206h2v1h-2zM1100 206h1v1h-1zM574 207h3v1h-3zM593 207h1v1h-1zM681 207h1v1h-1zM707 207h3v1h-3zM717 207h2v1h-2zM1100 207h1v1h-1zM577 208h1v1h-1zM593 208h1v1h-1zM682 208h2v1h-2zM705 208h2v1h-2zM710 208h7v1h-7zM1101 208h1v1h-1zM578 209h1v1h-1zM592 209h1v1h-1zM684 209h1v1h-1zM703 209h2v1h-2zM1101 209h1v1h-1zM579 210h1v1h-1zM591 210h1v1h-1zM685 210h1v1h-1zM701 210h2v1h-2zM1102 210h1v1h-1zM580 211h1v1h-1zM590 211h1v1h-1zM686 211h1v1h-1zM699 211h2v1h-2zM1102 211h1v1h-1zM581 212h1v1h-1zM590 212h1v1h-1zM687 212h1v1h-1zM697 212h2v1h-2zM1103 212h1v1h-1zM582 213h1v1h-1zM589 213h1v1h-1zM688 213h2v1h-2zM694 213h3v1h-3zM1103 213h1v1h-1zM583 214h1v1h-1zM586 214h3v1h-3zM690 214h4v1h-4zM1104 214h1v1h-1zM584 215h2v1h-2zM1104 215h1v1h-1zM1105 216h1v1h-1zM1155 216h6v1h-6zM1106 217h1v1h-1zM1124 217h2v1h-2zM1153 217h2v1h-2zM1161 217h1v1h-1zM1107 218h1v1h-1zM1122 218h2v1h-2zM1126 218h4v1h-4zM1151 218h2v1h-2zM1162 218h1v1h-1zM1108 219h1v1h-1zM1121 219h1v1h-1zM1130 219h3v1h-3zM1149 219h2v1h-2zM1163 219h1v1h-1zM1109 220h1v1h-1zM1120 220h1v1h-1zM1133 220h1v1h-1zM1148 220h1v1h-1zM1164 220h1v1h-1zM1110 221h2v1h-2zM1118 221h2v1h-2zM1134 221h2v1h-2zM1146 221h2v1h-2zM1165 221h1v1h-1zM1112 222h2v1h-2zM1117 222h1v1h-1zM1136 222h1v1h-1zM1145 222h1v1h-1zM1166 222h2v1h-2zM1114 223h3v1h-3zM1137 223h2v1h-2zM1142 223h3v1h-3zM1168 223h1v1h-1zM1139 224h3v1h-3zM1169 224h1v1h-1zM1169 225h1v1h-1zM1170 226h1v1h-1zM1171 227h1v1h-1zM1171 228h1v1h-1zM1172 229h1v1h-1zM1173 230h1v1h-1zM1173 231h1v1h-1zM1174 232h1v1h-1zM1175 233h1v1h-1zM1175 234h1v1h-1zM1176 235h1v1h-1zM1177 236h1v1h-1zM1177 237h1v1h-1zM1178 238h1v1h-1zM1179 239h1v1h-1zM1179 240h1v1h-1zM1180 241h1v1h-1zM1181 242h1v1h-1zM1182 243h1v1h-1zM1182 244h1v1h-1zM1183 245h1v1h-1zM1184 246h1v1h-1zM1185 247h1v1h-1zM1186 248h1v1h-1zM1186 249h1v1h-1zM1187 250h1v1h-1zM1188 251h1v1h-1zM1231 251h2v1h-2zM1189 252h1v1h-1zM1229 252h2v1h-2zM1233 252h1v1h-1zM1190 253h1v1h-1zM1228 253h1v1h-1zM1233 253h1v1h-1zM1191 254h1v1h-1zM1228 254h1v1h-1zM1234 254h1v1h-1zM1192 255h1v1h-1zM1227 255h1v1h-1zM1234 255h1v1h-1zM1193 256h1v1h-1zM1227 256h1v1h-1zM1235 256h1v1h-1zM1194 257h1v1h-1zM1226 257h1v1h-1zM1235 257h1v1h-1zM1195 258h1v1h-1zM1226 258h1v1h-1zM1236 258h1v1h-1zM1196 259h1v1h-1zM1225 259h1v1h-1zM1236 259h1v1h-1zM1196 260h1v1h-1zM1225 260h1v1h-1zM1237 260h1v1h-1zM1197 261h1v1h-1zM1224 261h1v1h-1zM1238 261h1v1h-1zM1197 262h1v1h-1zM1224 262h1v1h-1zM1238 262h1v1h-1zM1197 263h1v1h-1zM1223 263h1v1h-1zM1239 263h1v1h-1zM1198 264h1v1h-1zM1223 264h1v1h-1zM1240 264h1v1h-1zM1198 265h1v1h-1zM1222 265h1v1h-1zM1240 265h1v1h-1zM1198 266h1v1h-1zM1222 266h1v1h-1zM1240 266h1v1h-1zM1199 267h1v1h-1zM1221 267h1v1h-1zM1241 267h1v1h-1zM1199 268h1v1h-1zM1221 268h1v1h-1zM1241 268h1v1h-1zM1199 269h1v1h-1zM1220 269h1v1h-1zM1241 269h1v1h-1zM1200 270h1v1h-1zM1220 270h1v1h-1zM1241 270h1v1h-1zM1200 271h1v1h-1zM1219 271h1v1h-1zM1241 271h1v1h-1zM1201 272h1v1h-1zM1219 272h1v1h-1zM1241 272h1v1h-1zM1201 273h1v1h-1zM1218 273h1v1h-1zM1242 273h1v1h-1zM1202 274h1v1h-1zM1218 274h1v1h-1zM1242 274h1v1h-1zM1203 275h1v1h-1zM1217 275h1v1h-1zM1242 275h1v1h-1zM1203 276h1v1h-1zM1217 276h1v1h-1zM1242 276h1v1h-1zM1204 277h1v1h-1zM1216 277h1v1h-1zM1242 277h1v1h-1zM1205 278h1v1h-1zM1212 278h5v1h-5zM1242 278h1v1h-1zM1205 279h1v1h-1zM1211 279h1v1h-1zM1243 279h1v1h-1zM1206 280h1v1h-1zM1210 280h1v1h-1zM1243 280h1v1h-1zM1207 281h1v1h-1zM1210 281h1v1h-1zM1243 281h1v1h-1zM1207 282h1v1h-1zM1209 282h1v1h-1zM1243 282h1v1h-1zM1208 283h1v1h-1zM1243 283h1v1h-1zM1243 284h1v1h-1zM1244 285h1v1h-1zM1244 286h1v1h-1zM1244 287h1v1h-1zM1244 288h1v1h-1zM1244 289h1v1h-1zM1244 290h1v1h-1zM1244 291h1v1h-1zM1244 292h1v1h-1zM1245 293h1v1h-1zM1245 294h1v1h-1zM1245 295h1v1h-1zM1245 296h1v1h-1zM1245 297h1v1h-1zM1245 298h1v1h-1zM1245 299h1v1h-1zM1245 300h1v1h-1zM1246 301h1v1h-1zM1246 302h1v1h-1zM1246 303h1v1h-1zM1246 304h1v1h-1zM1246 305h1v1h-1zM1246 306h1v1h-1zM1246 307h1v1h-1zM1246 308h1v1h-1zM1247 309h1v1h-1zM1247 310h1v1h-1zM1247 311h1v1h-1zM1247 312h1v1h-1zM1247 313h1v1h-1zM1247 314h1v1h-1zM1247 315h1v1h-1zM1247 316h1v1h-1zM1248 317h1v1h-1zM1248 318h1v1h-1zM1248 319h1v1h-1zM1248 320h1v1h-1zM1248 321h1v1h-1zM1248 322h1v1h-1zM1248 323h1v1h-1zM1248 324h1v1h-1zM1248 325h1v1h-1zM1249 326h1v1h-1zM1249 327h1v1h-1zM1249 328h1v1h-1zM1249 329h1v1h-1zM1249 330h1v1h-1zM1249 331h1v1h-1zM1249 332h1v1h-1zM1249 333h1v1h-1zM1249 334h1v1h-1zM1250 335h1v1h-1zM1250 336h1v1h-1zM1250 337h1v1h-1zM1250 338h1v1h-1zM1250 339h1v1h-1zM1250 340h1v1h-1zM1250 341h1v1h-1zM1250 342h1v1h-1zM1251 343h1v1h-1zM1251 344h1v1h-1zM1251 345h1v1h-1zM1251 346h1v1h-1zM1251 347h1v1h-1zM1251 348h1v1h-1zM1251 349h1v1h-1zM1251 350h1v1h-1zM1251 351h1v1h-1zM1252 352h1v1h-1zM1252 353h1v1h-1zM1252 354h1v1h-1zM1252 355h1v1h-1zM1252 356h1v1h-1zM1252 357h1v1h-1zM1252 358h1v1h-1zM1253 359h1v1h-1zM1253 360h1v1h-1zM1253 361h1v1h-1zM1253 362h1v1h-1zM1253 363h1v1h-1zM1253 364h1v1h-1zM1254 365h1v1h-1zM1254 366h1v1h-1zM1254 367h1v1h-1zM1254 368h1v1h-1zM1254 369h1v1h-1zM1254 370h1v1h-1zM1255 371h1v1h-1zM1255 372h1v1h-1zM1255 373h1v1h-1zM1255 374h1v1h-1zM1255 375h1v1h-1zM1255 376h1v1h-1zM1256 377h1v1h-1zM1256 378h1v1h-1zM1256 379h1v1h-1zM1256 380h1v1h-1zM1256 381h1v1h-1zM1256 382h1v1h-1zM1256 383h1v1h-1zM1257 384h1v1h-1zM1257 385h1v1h-1zM1257 386h1v1h-1zM1257 387h1v1h-1zM1257 388h1v1h-1zM1257 389h1v1h-1zM1257 390h1v1h-1zM1257 391h1v1h-1zM1257 392h1v1h-1zM1258 393h1v1h-1zM1258 394h1v1h-1zM1258 395h1v1h-1zM1258 396h1v1h-1zM1258 397h1v1h-1zM1258 398h1v1h-1zM1258 399h1v1h-1zM1258 400h1v1h-1zM1258 401h1v1h-1zM1258 402h1v1h-1zM1259 403h1v1h-1zM1259 404h1v1h-1zM1259 405h1v1h-1zM1259 406h1v1h-1zM1259 407h1v1h-1zM1259 408h1v1h-1zM1259 409h1v1h-1zM1259 410h1v1h-1zM1259 411h1v1h-1zM1260 412h1v1h-1zM1260 413h1v1h-1zM1260 414h1v1h-1zM1260 415h1v1h-1zM1260 416h1v1h-1zM1260 417h1v1h-1zM1260 418h1v1h-1zM1260 419h1v1h-1zM1261 420h1v1h-1zM1261 421h1v1h-1zM1261 422h1v1h-1zM1261 423h1v1h-1zM1261 424h1v1h-1zM1261 425h1v1h-1zM1261 426h1v1h-1zM1261 427h1v1h-1zM1262 428h1v1h-1zM1262 429h1v1h-1zM1262 430h1v1h-1zM1262 431h1v1h-1zM1262 432h1v1h-1zM1262 433h1v1h-1zM1262 434h1v1h-1zM1262 435h1v1h-1zM1263 436h1v1h-1zM1263 437h1v1h-1zM1263 438h1v1h-1zM1263 439h1v1h-1zM1263 440h1v1h-1zM1263 441h1v1h-1zM1263 442h1v1h-1zM1263 443h1v1h-1zM1264 444h1v1h-1zM1264 445h1v1h-1zM1264 446h1v1h-1zM1264 447h1v1h-1zM1264 448h1v1h-1zM1264 449h1v1h-1zM1264 450h1v1h-1zM1265 451h1v1h-1zM1265 452h1v1h-1zM1265 453h1v1h-1zM1265 454h1v1h-1zM1265 455h1v1h-1zM1265 456h1v1h-1zM1265 457h1v1h-1zM1266 458h1v1h-1zM1266 459h1v1h-1zM1266 460h1v1h-1zM1266 461h1v1h-1zM1266 462h1v1h-1zM1266 463h1v1h-1zM1266 464h1v1h-1zM1267 465h1v1h-1zM1267 466h1v1h-1zM1267 467h1v1h-1zM1267 468h1v1h-1zM1267 469h1v1h-1zM1267 470h1v1h-1zM1267 471h1v1h-1zM1268 472h1v1h-1zM1268 473h1v1h-1zM1268 474h1v1h-1zM1268 475h1v1h-1z"/>
<rect x="4" y="548" width="1592" height="1" fill="#c0c0c0"/>
<rect x="4" y="86" width="1592" height="2" fill="#ff0000"/>
<rect x="4" y="120" width="1592" height="2" fill="#ff0000"/>
<rect x="4" y="154" width="1592" height="2" fill="#ff0000"/>
<rect x="4" y="197" width="1592" height="2" fill="#ff0000"/>
<rect x="3" y="195" width="6" height="6" fill="#ff0000"/>
<rect x="5" y="197" width="2" height="2" fill="#fff"/>
<rect x="1590" y="195" width="6" height="6" fill="#ff0000"/>
<rect x="1592" y="197" width="2" height="2" fill="#fff"/>
<rect x="4" y="232" width="1592" height="2" fill="#ff0000"/>
<rect x="3" y="230" width="6" height="6" fill="#ff0000"/>
<rect x="5" y="232" width="2" height="2" fill="#fff"/>
<rect x="1590" y="230" width="6" height="6" fill="#ff0000"/>
<rect x="1592" y="232" width="2" height="2" fill="#fff"/>
<rect x="4" y="256" width="1592" height="2" fill="#ff0000"/>
<rect x="3" y="254" width="6" height="6" fill="#ff0000"/>
<rect x="5" y="256" width="2" height="2" fill="#fff"/>
<rect x="1590" y="254" width="6" height="6" fill="#ff0000"/>
<rect x="1592" y="256" width="2" height="2" fill="#fff"/>
<rect x="4" y="290" width="1592" height="2" fill="#ff0000"/>
<rect x="3" y="288" width="6" height="6" fill="#ff0000"/>
<rect x="5" y="290" width="2" height="2" fill="#fff"/>
<rect x="1590" y="288" width="6" height="6" fill="#ff0000"/>
<rect x="1592" y="290" width="2" height="2" fill="#fff"/>
<rect x="4" y="314" width="1592" height="2" fill="#ff0000"/>
<rect x="3" y="312" width="6" height="6" fill="#ff0000"/>
<rect x="5" y="314" width="2" height="2" fill="#fff"/>
<rect x="1590" y="312" width="6" height="6" fill="#ff0000"/>
<rect x="1592" y="314" width="2" height="2" fill="#fff"/>
<rect x="4" y="359" width="1592" height="2" fill="#ff0000"/>
<rect x="3" y="357" width="6" height="6" fill="#ff0000"/>
<rect x="5" y="359" width="2" height="2" fill="#fff"/>
<rect x="1590" y="357" width="6" height="6" fill="#ff0000"/>
<rect x="1592" y="359" width="2" height="2" fill="#fff"/>
<rect x="4" y="392" width="1592" height="2" fill="#ff0000"/>
<rect x="3" y="390" width="6" height="6" fill="#ff0000"/>
<rect x="5" y="392" width="2" height="2" fill="#fff"/>
<rect x="1590" y="390" width="6" height="6" fill="#ff0000"/>
<rect x="1592" y="392" width="2" height="2" fill="#fff"/>
<rect x="4" y="426" width="1592" height="2" fill="#ff0000"/>
<rect x="3" y="424" width="6" height="6" fill="#ff0000"/>
<rect x="5" y="426" width="2" height="2" fill="#fff"/>
<rect x="1590" y="424" width="6" height="6" fill="#ff0000"/>
<rect x="1592" y="426" width="2" height="2" fill="#fff"/>
<rect x="4" y="495" width="1592" height="2" fill="#00ff00"/>
<rect x="3" y="493" width="6" height="6" fill="#00ff00"/>
<rect x="5" y="495" width="2" height="2" fill="#fff"/>
<rect x="1590" y="493" width="6" height="6" fill="#00ff00"/>
<rect x="1592" y="495" width="2" height="2" fill="#fff"/>
<rect x="4" y="563" width="1592" height="2" fill="#0000ff"/>
<rect x="3" y="561" width="6" height="6" fill="#0000ff"/>
<rect x="5" y="563" width="2" height="2" fill="#fff"/>
<rect x="1590" y="561" width="6" height="6" fill="#0000ff"/>
<rect x="1592" y="563" width="2" height="2" fill="#fff"/>
<rect x="3.5" y="24.5" width="1593" height="553" fill="none" stroke="#000" stroke-width="1"/>
<polygon points="7,31 14,31 10.5,35" fill="#000" shape-rendering="auto"/>
<text transform="translate(19.5,36) scale(0.95,1)" class="ax">AUDUSD,Daily</text>
<text transform="translate(90.5,36) scale(0.912,1)" class="ax">0.58199 0.58360 0.57016 0.57468</text>
<polygon points="1271.5,25 1281,25 1276.3,30.2" fill="#c0c0c0" shape-rendering="auto"/>
<rect x="1597" y="46" width="3" height="1" fill="#000"/>
<text transform="translate(1602,50) scale(0.93,1)" class="ax">0.72215</text>
<rect x="1597" y="79" width="3" height="1" fill="#000"/>
<text transform="translate(1602,83) scale(0.93,1)" class="ax">0.71240</text>
<rect x="1597" y="112" width="3" height="1" fill="#000"/>
<text transform="translate(1602,116) scale(0.93,1)" class="ax">0.70265</text>
<rect x="1597" y="145" width="3" height="1" fill="#000"/>
<text transform="translate(1602,149) scale(0.93,1)" class="ax">0.69290</text>
<rect x="1597" y="178" width="3" height="1" fill="#000"/>
<text transform="translate(1602,182) scale(0.93,1)" class="ax">0.68340</text>
<rect x="1597" y="211" width="3" height="1" fill="#000"/>
<text transform="translate(1602,215) scale(0.93,1)" class="ax">0.67365</text>
<rect x="1597" y="244" width="3" height="1" fill="#000"/>
<text transform="translate(1602,248) scale(0.93,1)" class="ax">0.66390</text>
<rect x="1597" y="277" width="3" height="1" fill="#000"/>
<text transform="translate(1602,281) scale(0.93,1)" class="ax">0.65415</text>
<rect x="1597" y="310" width="3" height="1" fill="#000"/>
<text transform="translate(1602,314) scale(0.93,1)" class="ax">0.64465</text>
<rect x="1597" y="343" width="3" height="1" fill="#000"/>
<text transform="translate(1602,347) scale(0.93,1)" class="ax">0.63490</text>
<rect x="1597" y="376" width="3" height="1" fill="#000"/>
<text transform="translate(1602,380) scale(0.93,1)" class="ax">0.62515</text>
<rect x="1597" y="409" width="3" height="1" fill="#000"/>
<text transform="translate(1602,413) scale(0.93,1)" class="ax">0.61565</text>
<rect x="1597" y="442" width="3" height="1" fill="#000"/>
<text transform="translate(1602,446) scale(0.93,1)" class="ax">0.60590</text>
<rect x="1597" y="475" width="3" height="1" fill="#000"/>
<text transform="translate(1602,479) scale(0.93,1)" class="ax">0.59615</text>
<rect x="1597" y="508" width="3" height="1" fill="#000"/>
<text transform="translate(1602,512) scale(0.93,1)" class="ax">0.58640</text>
<rect x="1597" y="541" width="3" height="1" fill="#000"/>
<text transform="translate(1602,545) scale(0.93,1)" class="ax">0.57690</text>
<rect x="1597" y="574" width="3" height="1" fill="#000"/>
<text transform="translate(1602,578) scale(0.93,1)" class="ax">0.56715</text>
<rect x="1598" y="81" width="41" height="11" fill="#ff0000"/>
<text transform="translate(1602,90) scale(0.93,1)" class="axw">0.71016</text>
<rect x="1598" y="115" width="41" height="11" fill="#ff0000"/>
<text transform="translate(1602,124) scale(0.93,1)" class="axw">0.70007</text>
<rect x="1598" y="149" width="41" height="11" fill="#ff0000"/>
<text transform="translate(1602,158) scale(0.93,1)" class="axw">0.69010</text>
<rect x="1598" y="192" width="41" height="11" fill="#ff0000"/>
<text transform="translate(1602,201) scale(0.93,1)" class="axw">0.67754</text>
<rect x="1598" y="227" width="41" height="11" fill="#ff0000"/>
<text transform="translate(1602,236) scale(0.93,1)" class="axw">0.66706</text>
<rect x="1598" y="251" width="41" height="11" fill="#ff0000"/>
<text transform="translate(1602,260) scale(0.93,1)" class="axw">0.66009</text>
<rect x="1598" y="285" width="41" height="11" fill="#ff0000"/>
<text transform="translate(1602,294) scale(0.93,1)" class="axw">0.65026</text>
<rect x="1598" y="309" width="41" height="11" fill="#ff0000"/>
<text transform="translate(1602,318) scale(0.93,1)" class="axw">0.64306</text>
<rect x="1598" y="354" width="41" height="11" fill="#ff0000"/>
<text transform="translate(1602,363) scale(0.93,1)" class="axw">0.63005</text>
<rect x="1598" y="387" width="41" height="11" fill="#ff0000"/>
<text transform="translate(1602,396) scale(0.93,1)" class="axw">0.62020</text>
<rect x="1598" y="421" width="41" height="11" fill="#ff0000"/>
<text transform="translate(1602,430) scale(0.93,1)" class="axw">0.61034</text>
<rect x="1598" y="490" width="41" height="11" fill="#00ff00"/>
<text transform="translate(1602,499) scale(0.93,1)" class="axw">0.59013</text>
<rect x="1598" y="558" width="41" height="11" fill="#0000ff"/>
<text transform="translate(1602,567) scale(0.93,1)" class="axw">0.57021</text>
<rect x="1598" y="543" width="41" height="11" fill="#000000"/>
<text transform="translate(1602,552) scale(0.93,1)" class="axw">0.57468</text>
<rect x="3.5" y="579.5" width="1593" height="101" fill="none" stroke="#000"/>
<line x1="4" y1="610.5" x2="1596" y2="610.5" stroke="#c0c0c0" stroke-dasharray="3,3"/>
<line x1="4" y1="650.5" x2="1596" y2="650.5" stroke="#c0c0c0" stroke-dasharray="3,3"/>
<path fill="#1e90ff" d="M996 606h1v1h-1zM995 607h1v1h-1zM997 607h1v1h-1zM994 608h1v1h-1zM998 608h1v1h-1zM993 609h1v1h-1zM999 609h1v1h-1zM984 610h1v1h-1zM991 610h2v1h-2zM1000 610h1v1h-1zM983 611h1v1h-1zM985 611h2v1h-2zM989 611h2v1h-2zM1001 611h1v1h-1zM982 612h1v1h-1zM987 612h2v1h-2zM1002 612h1v1h-1zM792 613h2v1h-2zM982 613h1v1h-1zM1003 613h1v1h-1zM363 614h2v1h-2zM790 614h2v1h-2zM794 614h3v1h-3zM932 614h1v1h-1zM981 614h1v1h-1zM1004 614h1v1h-1zM361 615h2v1h-2zM364 615h1v1h-1zM789 615h1v1h-1zM797 615h2v1h-2zM932 615h2v1h-2zM980 615h1v1h-1zM1004 615h1v1h-1zM358 616h3v1h-3zM365 616h1v1h-1zM623 616h2v1h-2zM751 616h3v1h-3zM787 616h2v1h-2zM799 616h2v1h-2zM931 616h1v1h-1zM933 616h1v1h-1zM970 616h3v1h-3zM978 616h2v1h-2zM1005 616h1v1h-1zM355 617h3v1h-3zM365 617h1v1h-1zM376 617h1v1h-1zM608 617h1v1h-1zM621 617h2v1h-2zM625 617h2v1h-2zM749 617h2v1h-2zM754 617h3v1h-3zM785 617h2v1h-2zM801 617h2v1h-2zM931 617h1v1h-1zM934 617h1v1h-1zM968 617h2v1h-2zM973 617h2v1h-2zM977 617h1v1h-1zM1005 617h1v1h-1zM353 618h2v1h-2zM365 618h1v1h-1zM375 618h1v1h-1zM377 618h1v1h-1zM600 618h1v1h-1zM607 618h1v1h-1zM609 618h1v1h-1zM619 618h2v1h-2zM627 618h2v1h-2zM746 618h3v1h-3zM757 618h1v1h-1zM783 618h2v1h-2zM803 618h3v1h-3zM930 618h1v1h-1zM934 618h1v1h-1zM967 618h1v1h-1zM975 618h2v1h-2zM1006 618h1v1h-1zM351 619h2v1h-2zM365 619h1v1h-1zM375 619h1v1h-1zM378 619h1v1h-1zM599 619h1v1h-1zM601 619h1v1h-1zM606 619h1v1h-1zM610 619h2v1h-2zM617 619h2v1h-2zM629 619h1v1h-1zM743 619h3v1h-3zM758 619h1v1h-1zM781 619h2v1h-2zM806 619h4v1h-4zM930 619h1v1h-1zM935 619h1v1h-1zM944 619h1v1h-1zM966 619h1v1h-1zM1006 619h1v1h-1zM291 620h2v1h-2zM349 620h2v1h-2zM366 620h1v1h-1zM374 620h1v1h-1zM379 620h1v1h-1zM415 620h2v1h-2zM428 620h2v1h-2zM434 620h4v1h-4zM599 620h1v1h-1zM602 620h2v1h-2zM605 620h1v1h-1zM612 620h5v1h-5zM630 620h1v1h-1zM741 620h2v1h-2zM759 620h1v1h-1zM780 620h1v1h-1zM810 620h3v1h-3zM903 620h2v1h-2zM929 620h1v1h-1zM935 620h1v1h-1zM943 620h1v1h-1zM945 620h1v1h-1zM960 620h2v1h-2zM965 620h1v1h-1zM1006 620h1v1h-1zM96 621h2v1h-2zM102 621h3v1h-3zM289 621h2v1h-2zM292 621h1v1h-1zM347 621h2v1h-2zM366 621h1v1h-1zM373 621h1v1h-1zM380 621h1v1h-1zM413 621h2v1h-2zM417 621h1v1h-1zM426 621h2v1h-2zM430 621h4v1h-4zM438 621h3v1h-3zM598 621h1v1h-1zM604 621h1v1h-1zM631 621h1v1h-1zM740 621h1v1h-1zM760 621h1v1h-1zM779 621h1v1h-1zM813 621h1v1h-1zM901 621h2v1h-2zM905 621h1v1h-1zM929 621h1v1h-1zM936 621h1v1h-1zM942 621h1v1h-1zM945 621h1v1h-1zM958 621h2v1h-2zM962 621h3v1h-3zM1007 621h1v1h-1zM88 622h1v1h-1zM95 622h1v1h-1zM98 622h4v1h-4zM105 622h2v1h-2zM287 622h2v1h-2zM293 622h1v1h-1zM345 622h2v1h-2zM366 622h1v1h-1zM373 622h1v1h-1zM380 622h1v1h-1zM411 622h2v1h-2zM418 622h2v1h-2zM425 622h1v1h-1zM440 622h1v1h-1zM597 622h1v1h-1zM632 622h1v1h-1zM740 622h1v1h-1zM761 622h1v1h-1zM778 622h1v1h-1zM813 622h1v1h-1zM900 622h1v1h-1zM905 622h1v1h-1zM928 622h1v1h-1zM936 622h2v1h-2zM941 622h1v1h-1zM946 622h1v1h-1zM957 622h1v1h-1zM1007 622h1v1h-1zM87 623h1v1h-1zM89 623h1v1h-1zM95 623h1v1h-1zM107 623h3v1h-3zM276 623h1v1h-1zM285 623h2v1h-2zM293 623h1v1h-1zM344 623h1v1h-1zM366 623h1v1h-1zM372 623h1v1h-1zM381 623h1v1h-1zM409 623h2v1h-2zM420 623h5v1h-5zM441 623h1v1h-1zM597 623h1v1h-1zM633 623h2v1h-2zM739 623h1v1h-1zM761 623h1v1h-1zM777 623h1v1h-1zM814 623h1v1h-1zM899 623h1v1h-1zM906 623h1v1h-1zM928 623h1v1h-1zM938 623h3v1h-3zM946 623h1v1h-1zM956 623h1v1h-1zM1008 623h1v1h-1zM1010 623h3v1h-3zM36 624h1v1h-1zM86 624h1v1h-1zM90 624h1v1h-1zM94 624h1v1h-1zM110 624h3v1h-3zM275 624h1v1h-1zM277 624h1v1h-1zM283 624h2v1h-2zM294 624h1v1h-1zM343 624h1v1h-1zM367 624h1v1h-1zM371 624h1v1h-1zM381 624h1v1h-1zM408 624h1v1h-1zM441 624h1v1h-1zM596 624h1v1h-1zM635 624h2v1h-2zM720 624h1v1h-1zM739 624h1v1h-1zM762 624h1v1h-1zM776 624h1v1h-1zM814 624h1v1h-1zM898 624h1v1h-1zM906 624h1v1h-1zM915 624h2v1h-2zM927 624h1v1h-1zM947 624h1v1h-1zM954 624h2v1h-2zM1008 624h2v1h-2zM1013 624h1v1h-1zM35 625h2v1h-2zM85 625h1v1h-1zM90 625h1v1h-1zM93 625h1v1h-1zM113 625h1v1h-1zM275 625h1v1h-1zM278 625h2v1h-2zM281 625h2v1h-2zM294 625h1v1h-1zM343 625h1v1h-1zM367 625h1v1h-1zM371 625h1v1h-1zM382 625h1v1h-1zM406 625h2v1h-2zM442 625h1v1h-1zM594 625h2v1h-2zM637 625h1v1h-1zM719 625h1v1h-1zM721 625h2v1h-2zM739 625h1v1h-1zM763 625h1v1h-1zM767 625h2v1h-2zM774 625h2v1h-2zM815 625h1v1h-1zM898 625h1v1h-1zM907 625h1v1h-1zM913 625h2v1h-2zM917 625h2v1h-2zM927 625h1v1h-1zM947 625h1v1h-1zM953 625h1v1h-1zM1013 625h1v1h-1zM34 626h1v1h-1zM37 626h1v1h-1zM64 626h1v1h-1zM82 626h3v1h-3zM91 626h1v1h-1zM93 626h1v1h-1zM114 626h2v1h-2zM123 626h2v1h-2zM274 626h1v1h-1zM280 626h1v1h-1zM294 626h1v1h-1zM342 626h1v1h-1zM367 626h1v1h-1zM370 626h1v1h-1zM382 626h1v1h-1zM405 626h1v1h-1zM442 626h1v1h-1zM593 626h1v1h-1zM638 626h2v1h-2zM719 626h1v1h-1zM723 626h2v1h-2zM738 626h1v1h-1zM763 626h1v1h-1zM765 626h2v1h-2zM769 626h2v1h-2zM773 626h1v1h-1zM815 626h1v1h-1zM897 626h1v1h-1zM907 626h1v1h-1zM911 626h2v1h-2zM919 626h2v1h-2zM926 626h1v1h-1zM948 626h1v1h-1zM950 626h3v1h-3zM1014 626h1v1h-1zM33 627h1v1h-1zM37 627h1v1h-1zM55 627h2v1h-2zM64 627h3v1h-3zM80 627h2v1h-2zM92 627h1v1h-1zM116 627h2v1h-2zM121 627h2v1h-2zM125 627h1v1h-1zM273 627h1v1h-1zM295 627h1v1h-1zM342 627h1v1h-1zM367 627h1v1h-1zM369 627h1v1h-1zM383 627h1v1h-1zM404 627h1v1h-1zM443 627h1v1h-1zM592 627h1v1h-1zM640 627h1v1h-1zM718 627h1v1h-1zM725 627h1v1h-1zM738 627h1v1h-1zM764 627h1v1h-1zM771 627h2v1h-2zM816 627h1v1h-1zM896 627h1v1h-1zM908 627h3v1h-3zM921 627h1v1h-1zM926 627h1v1h-1zM948 627h2v1h-2zM1015 627h1v1h-1zM20 628h1v1h-1zM32 628h1v1h-1zM38 628h1v1h-1zM53 628h2v1h-2zM57 628h1v1h-1zM63 628h1v1h-1zM67 628h3v1h-3zM78 628h2v1h-2zM118 628h3v1h-3zM126 628h1v1h-1zM273 628h1v1h-1zM295 628h1v1h-1zM341 628h1v1h-1zM368 628h2v1h-2zM383 628h1v1h-1zM387 628h2v1h-2zM402 628h2v1h-2zM443 628h1v1h-1zM592 628h1v1h-1zM640 628h1v1h-1zM717 628h1v1h-1zM726 628h1v1h-1zM738 628h1v1h-1zM817 628h2v1h-2zM896 628h1v1h-1zM908 628h1v1h-1zM921 628h1v1h-1zM926 628h1v1h-1zM1015 628h1v1h-1zM1231 628h2v1h-2zM10 629h3v1h-3zM19 629h1v1h-1zM21 629h1v1h-1zM31 629h1v1h-1zM38 629h1v1h-1zM50 629h3v1h-3zM57 629h1v1h-1zM63 629h1v1h-1zM70 629h4v1h-4zM77 629h1v1h-1zM127 629h1v1h-1zM272 629h1v1h-1zM296 629h1v1h-1zM341 629h1v1h-1zM368 629h1v1h-1zM384 629h3v1h-3zM389 629h2v1h-2zM401 629h1v1h-1zM444 629h1v1h-1zM591 629h1v1h-1zM641 629h1v1h-1zM717 629h1v1h-1zM726 629h1v1h-1zM737 629h1v1h-1zM819 629h2v1h-2zM896 629h1v1h-1zM922 629h1v1h-1zM925 629h1v1h-1zM1016 629h1v1h-1zM1229 629h2v1h-2zM1232 629h1v1h-1zM7 630h3v1h-3zM13 630h1v1h-1zM18 630h1v1h-1zM22 630h1v1h-1zM30 630h1v1h-1zM38 630h1v1h-1zM47 630h3v1h-3zM58 630h1v1h-1zM62 630h1v1h-1zM74 630h3v1h-3zM128 630h1v1h-1zM270 630h2v1h-2zM296 630h1v1h-1zM334 630h7v1h-7zM384 630h1v1h-1zM391 630h2v1h-2zM400 630h1v1h-1zM444 630h1v1h-1zM591 630h1v1h-1zM641 630h1v1h-1zM716 630h1v1h-1zM727 630h1v1h-1zM737 630h1v1h-1zM821 630h2v1h-2zM895 630h1v1h-1zM923 630h1v1h-1zM925 630h1v1h-1zM1016 630h1v1h-1zM1034 630h4v1h-4zM1226 630h3v1h-3zM1232 630h1v1h-1zM5 631h2v1h-2zM14 631h2v1h-2zM17 631h1v1h-1zM23 631h1v1h-1zM29 631h1v1h-1zM39 631h1v1h-1zM45 631h2v1h-2zM58 631h1v1h-1zM62 631h1v1h-1zM129 631h1v1h-1zM269 631h1v1h-1zM297 631h2v1h-2zM332 631h2v1h-2zM393 631h1v1h-1zM399 631h1v1h-1zM445 631h1v1h-1zM590 631h1v1h-1zM642 631h1v1h-1zM716 631h1v1h-1zM728 631h1v1h-1zM737 631h1v1h-1zM823 631h3v1h-3zM895 631h1v1h-1zM923 631h2v1h-2zM1017 631h1v1h-1zM1032 631h2v1h-2zM1038 631h4v1h-4zM1046 631h3v1h-3zM1224 631h2v1h-2zM1233 631h1v1h-1zM4 632h1v1h-1zM16 632h1v1h-1zM24 632h5v1h-5zM39 632h1v1h-1zM43 632h2v1h-2zM59 632h1v1h-1zM61 632h1v1h-1zM129 632h1v1h-1zM267 632h2v1h-2zM299 632h2v1h-2zM332 632h1v1h-1zM393 632h1v1h-1zM399 632h1v1h-1zM446 632h1v1h-1zM590 632h1v1h-1zM642 632h1v1h-1zM696 632h5v1h-5zM715 632h1v1h-1zM729 632h2v1h-2zM736 632h1v1h-1zM826 632h3v1h-3zM895 632h1v1h-1zM924 632h1v1h-1zM1017 632h1v1h-1zM1032 632h1v1h-1zM1042 632h4v1h-4zM1049 632h2v1h-2zM1223 632h1v1h-1zM1233 632h1v1h-1zM40 633h3v1h-3zM59 633h1v1h-1zM61 633h1v1h-1zM130 633h1v1h-1zM265 633h2v1h-2zM301 633h2v1h-2zM331 633h1v1h-1zM394 633h1v1h-1zM398 633h1v1h-1zM447 633h1v1h-1zM589 633h1v1h-1zM642 633h1v1h-1zM694 633h2v1h-2zM701 633h1v1h-1zM715 633h1v1h-1zM731 633h6v1h-6zM829 633h1v1h-1zM851 633h2v1h-2zM895 633h1v1h-1zM1018 633h1v1h-1zM1031 633h1v1h-1zM1051 633h2v1h-2zM1212 633h1v1h-1zM1222 633h1v1h-1zM1233 633h1v1h-1zM40 634h1v1h-1zM60 634h1v1h-1zM131 634h1v1h-1zM264 634h1v1h-1zM303 634h2v1h-2zM331 634h1v1h-1zM395 634h1v1h-1zM397 634h1v1h-1zM448 634h1v1h-1zM589 634h1v1h-1zM643 634h1v1h-1zM660 634h1v1h-1zM693 634h1v1h-1zM702 634h1v1h-1zM714 634h1v1h-1zM830 634h2v1h-2zM849 634h2v1h-2zM853 634h1v1h-1zM894 634h1v1h-1zM1018 634h1v1h-1zM1031 634h1v1h-1zM1053 634h1v1h-1zM1212 634h2v1h-2zM1222 634h1v1h-1zM1233 634h1v1h-1zM60 635h1v1h-1zM131 635h1v1h-1zM252 635h1v1h-1zM263 635h1v1h-1zM305 635h1v1h-1zM331 635h1v1h-1zM395 635h1v1h-1zM397 635h1v1h-1zM449 635h1v1h-1zM560 635h1v1h-1zM588 635h1v1h-1zM643 635h1v1h-1zM659 635h1v1h-1zM661 635h1v1h-1zM692 635h1v1h-1zM703 635h1v1h-1zM714 635h1v1h-1zM832 635h1v1h-1zM840 635h9v1h-9zM854 635h1v1h-1zM894 635h1v1h-1zM1019 635h1v1h-1zM1030 635h1v1h-1zM1054 635h2v1h-2zM1144 635h1v1h-1zM1211 635h1v1h-1zM1214 635h2v1h-2zM1221 635h1v1h-1zM1234 635h1v1h-1zM132 636h1v1h-1zM244 636h1v1h-1zM250 636h2v1h-2zM253 636h1v1h-1zM262 636h1v1h-1zM305 636h1v1h-1zM330 636h1v1h-1zM396 636h1v1h-1zM450 636h1v1h-1zM544 636h1v1h-1zM559 636h1v1h-1zM561 636h1v1h-1zM588 636h1v1h-1zM644 636h1v1h-1zM658 636h1v1h-1zM661 636h1v1h-1zM692 636h1v1h-1zM704 636h1v1h-1zM713 636h1v1h-1zM832 636h1v1h-1zM840 636h1v1h-1zM855 636h1v1h-1zM894 636h1v1h-1zM1019 636h1v1h-1zM1030 636h1v1h-1zM1056 636h5v1h-5zM1143 636h1v1h-1zM1145 636h2v1h-2zM1211 636h1v1h-1zM1216 636h5v1h-5zM1234 636h1v1h-1zM132 637h1v1h-1zM152 637h1v1h-1zM242 637h2v1h-2zM245 637h2v1h-2zM249 637h1v1h-1zM254 637h1v1h-1zM262 637h1v1h-1zM306 637h1v1h-1zM330 637h1v1h-1zM451 637h1v1h-1zM542 637h2v1h-2zM545 637h1v1h-1zM559 637h1v1h-1zM562 637h1v1h-1zM587 637h1v1h-1zM644 637h1v1h-1zM658 637h1v1h-1zM662 637h1v1h-1zM671 637h2v1h-2zM691 637h1v1h-1zM705 637h1v1h-1zM713 637h1v1h-1zM833 637h1v1h-1zM839 637h1v1h-1zM856 637h1v1h-1zM894 637h1v1h-1zM1020 637h1v1h-1zM1029 637h1v1h-1zM1061 637h2v1h-2zM1142 637h1v1h-1zM1147 637h2v1h-2zM1211 637h1v1h-1zM1234 637h1v1h-1zM133 638h1v1h-1zM151 638h1v1h-1zM153 638h1v1h-1zM241 638h1v1h-1zM247 638h2v1h-2zM255 638h1v1h-1zM261 638h1v1h-1zM307 638h1v1h-1zM330 638h1v1h-1zM452 638h1v1h-1zM541 638h1v1h-1zM546 638h1v1h-1zM558 638h1v1h-1zM563 638h1v1h-1zM587 638h1v1h-1zM645 638h1v1h-1zM657 638h1v1h-1zM662 638h1v1h-1zM669 638h2v1h-2zM673 638h2v1h-2zM691 638h1v1h-1zM706 638h2v1h-2zM710 638h3v1h-3zM833 638h1v1h-1zM839 638h1v1h-1zM857 638h2v1h-2zM894 638h1v1h-1zM1020 638h1v1h-1zM1029 638h1v1h-1zM1063 638h3v1h-3zM1142 638h1v1h-1zM1149 638h1v1h-1zM1211 638h1v1h-1zM1234 638h1v1h-1zM133 639h1v1h-1zM150 639h1v1h-1zM154 639h2v1h-2zM195 639h2v1h-2zM240 639h1v1h-1zM256 639h5v1h-5zM307 639h1v1h-1zM330 639h1v1h-1zM453 639h1v1h-1zM524 639h2v1h-2zM530 639h4v1h-4zM538 639h3v1h-3zM547 639h1v1h-1zM557 639h1v1h-1zM564 639h1v1h-1zM586 639h1v1h-1zM646 639h2v1h-2zM655 639h2v1h-2zM663 639h1v1h-1zM667 639h2v1h-2zM675 639h2v1h-2zM691 639h1v1h-1zM708 639h2v1h-2zM833 639h1v1h-1zM839 639h1v1h-1zM859 639h2v1h-2zM893 639h1v1h-1zM1021 639h2v1h-2zM1028 639h1v1h-1zM1066 639h3v1h-3zM1141 639h1v1h-1zM1150 639h2v1h-2zM1158 639h3v1h-3zM1210 639h1v1h-1zM1235 639h1v1h-1zM134 640h1v1h-1zM144 640h2v1h-2zM149 640h1v1h-1zM156 640h5v1h-5zM193 640h2v1h-2zM197 640h1v1h-1zM239 640h1v1h-1zM308 640h1v1h-1zM329 640h1v1h-1zM453 640h1v1h-1zM524 640h1v1h-1zM526 640h4v1h-4zM534 640h4v1h-4zM548 640h1v1h-1zM557 640h1v1h-1zM565 640h2v1h-2zM586 640h1v1h-1zM648 640h2v1h-2zM653 640h2v1h-2zM663 640h1v1h-1zM665 640h2v1h-2zM677 640h2v1h-2zM690 640h1v1h-1zM834 640h1v1h-1zM838 640h1v1h-1zM861 640h2v1h-2zM876 640h2v1h-2zM893 640h1v1h-1zM1023 640h6v1h-6zM1069 640h1v1h-1zM1076 640h1v1h-1zM1140 640h1v1h-1zM1152 640h6v1h-6zM1161 640h1v1h-1zM1210 640h1v1h-1zM1235 640h1v1h-1zM1240 640h1v1h-1zM134 641h1v1h-1zM143 641h1v1h-1zM146 641h3v1h-3zM161 641h1v1h-1zM168 641h2v1h-2zM192 641h1v1h-1zM197 641h1v1h-1zM238 641h1v1h-1zM309 641h1v1h-1zM329 641h1v1h-1zM454 641h1v1h-1zM516 641h1v1h-1zM523 641h1v1h-1zM549 641h1v1h-1zM555 641h2v1h-2zM567 641h3v1h-3zM586 641h1v1h-1zM650 641h3v1h-3zM664 641h1v1h-1zM679 641h2v1h-2zM690 641h1v1h-1zM834 641h1v1h-1zM838 641h1v1h-1zM863 641h6v1h-6zM874 641h2v1h-2zM878 641h3v1h-3zM893 641h1v1h-1zM1070 641h1v1h-1zM1074 641h2v1h-2zM1077 641h1v1h-1zM1140 641h1v1h-1zM1162 641h1v1h-1zM1210 641h1v1h-1zM1235 641h1v1h-1zM1239 641h2v1h-2zM134 642h1v1h-1zM143 642h1v1h-1zM162 642h1v1h-1zM166 642h2v1h-2zM170 642h3v1h-3zM179 642h3v1h-3zM191 642h1v1h-1zM198 642h1v1h-1zM237 642h1v1h-1zM310 642h1v1h-1zM329 642h1v1h-1zM455 642h1v1h-1zM516 642h2v1h-2zM523 642h1v1h-1zM550 642h2v1h-2zM553 642h2v1h-2zM570 642h4v1h-4zM585 642h1v1h-1zM681 642h1v1h-1zM690 642h1v1h-1zM835 642h1v1h-1zM837 642h1v1h-1zM869 642h2v1h-2zM873 642h1v1h-1zM881 642h1v1h-1zM893 642h1v1h-1zM1071 642h1v1h-1zM1073 642h1v1h-1zM1078 642h2v1h-2zM1139 642h1v1h-1zM1163 642h1v1h-1zM1210 642h1v1h-1zM1235 642h1v1h-1zM1238 642h1v1h-1zM1241 642h1v1h-1zM135 643h1v1h-1zM142 643h1v1h-1zM163 643h1v1h-1zM165 643h1v1h-1zM173 643h2v1h-2zM177 643h2v1h-2zM182 643h3v1h-3zM190 643h1v1h-1zM198 643h1v1h-1zM224 643h1v1h-1zM236 643h1v1h-1zM310 643h1v1h-1zM324 643h2v1h-2zM328 643h1v1h-1zM455 643h1v1h-1zM500 643h1v1h-1zM515 643h1v1h-1zM517 643h1v1h-1zM522 643h1v1h-1zM552 643h1v1h-1zM574 643h7v1h-7zM585 643h1v1h-1zM681 643h1v1h-1zM690 643h1v1h-1zM835 643h1v1h-1zM837 643h1v1h-1zM871 643h2v1h-2zM882 643h2v1h-2zM892 643h1v1h-1zM1072 643h1v1h-1zM1080 643h1v1h-1zM1120 643h2v1h-2zM1139 643h1v1h-1zM1164 643h1v1h-1zM1209 643h1v1h-1zM1236 643h1v1h-1zM1238 643h1v1h-1zM1241 643h1v1h-1zM135 644h1v1h-1zM142 644h1v1h-1zM164 644h1v1h-1zM175 644h2v1h-2zM185 644h1v1h-1zM190 644h1v1h-1zM199 644h1v1h-1zM224 644h2v1h-2zM235 644h1v1h-1zM311 644h1v1h-1zM322 644h2v1h-2zM326 644h3v1h-3zM456 644h9v1h-9zM472 644h1v1h-1zM500 644h3v1h-3zM515 644h1v1h-1zM518 644h1v1h-1zM522 644h1v1h-1zM581 644h2v1h-2zM584 644h1v1h-1zM682 644h1v1h-1zM689 644h1v1h-1zM835 644h1v1h-1zM837 644h1v1h-1zM884 644h6v1h-6zM892 644h1v1h-1zM1081 644h2v1h-2zM1119 644h1v1h-1zM1122 644h3v1h-3zM1139 644h1v1h-1zM1165 644h1v1h-1zM1209 644h1v1h-1zM1236 644h2v1h-2zM1241 644h1v1h-1zM136 645h1v1h-1zM141 645h1v1h-1zM186 645h2v1h-2zM189 645h1v1h-1zM199 645h1v1h-1zM223 645h1v1h-1zM226 645h1v1h-1zM234 645h1v1h-1zM312 645h6v1h-6zM321 645h1v1h-1zM465 645h1v1h-1zM471 645h1v1h-1zM473 645h1v1h-1zM499 645h1v1h-1zM503 645h3v1h-3zM514 645h1v1h-1zM519 645h1v1h-1zM521 645h1v1h-1zM583 645h2v1h-2zM683 645h1v1h-1zM689 645h1v1h-1zM836 645h1v1h-1zM890 645h3v1h-3zM1083 645h2v1h-2zM1118 645h1v1h-1zM1125 645h1v1h-1zM1138 645h1v1h-1zM1166 645h2v1h-2zM1209 645h1v1h-1zM1236 645h1v1h-1zM1242 645h1v1h-1zM136 646h2v1h-2zM141 646h1v1h-1zM188 646h1v1h-1zM200 646h1v1h-1zM223 646h1v1h-1zM226 646h1v1h-1zM233 646h1v1h-1zM318 646h3v1h-3zM466 646h1v1h-1zM470 646h1v1h-1zM474 646h1v1h-1zM499 646h1v1h-1zM506 646h3v1h-3zM514 646h1v1h-1zM519 646h1v1h-1zM521 646h1v1h-1zM683 646h1v1h-1zM689 646h1v1h-1zM836 646h1v1h-1zM1085 646h1v1h-1zM1118 646h1v1h-1zM1125 646h1v1h-1zM1138 646h1v1h-1zM1168 646h1v1h-1zM1209 646h1v1h-1zM1242 646h1v1h-1zM138 647h3v1h-3zM200 647h5v1h-5zM223 647h1v1h-1zM227 647h1v1h-1zM230 647h3v1h-3zM466 647h1v1h-1zM470 647h1v1h-1zM475 647h1v1h-1zM499 647h1v1h-1zM509 647h1v1h-1zM513 647h1v1h-1zM520 647h1v1h-1zM684 647h2v1h-2zM688 647h1v1h-1zM1085 647h1v1h-1zM1117 647h1v1h-1zM1126 647h1v1h-1zM1137 647h1v1h-1zM1169 647h1v1h-1zM1204 647h2v1h-2zM1208 647h1v1h-1zM1242 647h1v1h-1zM205 648h1v1h-1zM222 648h1v1h-1zM228 648h2v1h-2zM467 648h1v1h-1zM469 648h1v1h-1zM476 648h1v1h-1zM499 648h1v1h-1zM510 648h1v1h-1zM513 648h1v1h-1zM686 648h3v1h-3zM1086 648h1v1h-1zM1116 648h1v1h-1zM1126 648h1v1h-1zM1137 648h1v1h-1zM1169 648h1v1h-1zM1204 648h1v1h-1zM1206 648h3v1h-3zM1243 648h1v1h-1zM206 649h2v1h-2zM222 649h1v1h-1zM468 649h1v1h-1zM477 649h1v1h-1zM498 649h1v1h-1zM511 649h2v1h-2zM1086 649h1v1h-1zM1116 649h1v1h-1zM1127 649h1v1h-1zM1137 649h1v1h-1zM1170 649h1v1h-1zM1203 649h1v1h-1zM1243 649h1v1h-1zM208 650h1v1h-1zM222 650h1v1h-1zM478 650h1v1h-1zM498 650h1v1h-1zM512 650h1v1h-1zM1087 650h1v1h-1zM1115 650h1v1h-1zM1127 650h1v1h-1zM1136 650h1v1h-1zM1171 650h1v1h-1zM1175 650h6v1h-6zM1196 650h1v1h-1zM1203 650h1v1h-1zM1243 650h1v1h-1zM209 651h2v1h-2zM222 651h1v1h-1zM478 651h1v1h-1zM498 651h1v1h-1zM1087 651h1v1h-1zM1115 651h1v1h-1zM1128 651h2v1h-2zM1134 651h3v1h-3zM1171 651h1v1h-1zM1173 651h2v1h-2zM1181 651h2v1h-2zM1196 651h1v1h-1zM1203 651h1v1h-1zM1244 651h1v1h-1zM211 652h2v1h-2zM221 652h1v1h-1zM479 652h1v1h-1zM497 652h1v1h-1zM1088 652h1v1h-1zM1114 652h1v1h-1zM1130 652h4v1h-4zM1172 652h1v1h-1zM1183 652h3v1h-3zM1195 652h1v1h-1zM1197 652h1v1h-1zM1202 652h1v1h-1zM1244 652h1v1h-1zM213 653h1v1h-1zM221 653h1v1h-1zM480 653h2v1h-2zM497 653h1v1h-1zM1088 653h2v1h-2zM1114 653h1v1h-1zM1186 653h3v1h-3zM1195 653h1v1h-1zM1197 653h1v1h-1zM1202 653h1v1h-1zM1245 653h1v1h-1zM214 654h2v1h-2zM221 654h1v1h-1zM482 654h4v1h-4zM497 654h1v1h-1zM1090 654h4v1h-4zM1113 654h1v1h-1zM1189 654h1v1h-1zM1194 654h1v1h-1zM1198 654h1v1h-1zM1202 654h1v1h-1zM1246 654h1v1h-1zM216 655h2v1h-2zM220 655h1v1h-1zM486 655h4v1h-4zM497 655h1v1h-1zM1094 655h3v1h-3zM1113 655h1v1h-1zM1190 655h1v1h-1zM1194 655h1v1h-1zM1198 655h1v1h-1zM1202 655h1v1h-1zM1247 655h1v1h-1zM218 656h3v1h-3zM490 656h4v1h-4zM496 656h1v1h-1zM1097 656h1v1h-1zM1112 656h1v1h-1zM1190 656h1v1h-1zM1193 656h1v1h-1zM1198 656h1v1h-1zM1201 656h1v1h-1zM1248 656h6v1h-6zM494 657h3v1h-3zM1098 657h2v1h-2zM1107 657h6v1h-6zM1191 657h1v1h-1zM1193 657h1v1h-1zM1199 657h1v1h-1zM1201 657h1v1h-1zM1254 657h3v1h-3zM1100 658h2v1h-2zM1105 658h2v1h-2zM1192 658h1v1h-1zM1199 658h1v1h-1zM1201 658h1v1h-1zM1257 658h1v1h-1zM1102 659h3v1h-3zM1200 659h1v1h-1zM1258 659h1v1h-1zM1200 660h1v1h-1zM1259 660h1v1h-1zM1260 661h1v1h-1zM1261 662h1v1h-1zM1262 663h2v1h-2zM1264 664h2v1h-2zM1266 665h3v1h-3z"/>
<text transform="translate(7.5,593) scale(0.93,1)" class="ax">RSI(14) 13.6252</text>
<rect x="1597" y="580" width="3" height="1" fill="#000"/>
<rect x="1597" y="610" width="3" height="1" fill="#000"/>
<rect x="1597" y="650" width="3" height="1" fill="#000"/>
<rect x="1597" y="679" width="3" height="1" fill="#000"/>
<text transform="translate(1599.5,590) scale(0.93,1)" class="ax">100</text>
<text transform="translate(1599,614.5) scale(0.93,1)" class="ax">70</text>
<text transform="translate(1599,654.5) scale(0.93,1)" class="ax">30</text>
<text transform="translate(1599.5,677) scale(0.93,1)" class="ax">0</text>
<rect x="3.5" y="682.5" width="1593" height="100" fill="none" stroke="#000"/>
<rect x="4" y="704" width="1" height="4" fill="#c0c0c0"/>
<rect x="8" y="704" width="1" height="3" fill="#c0c0c0"/>
<rect x="12" y="704" width="1" height="2" fill="#c0c0c0"/>
<rect x="16" y="704" width="1" height="2" fill="#c0c0c0"/>
<rect x="20" y="704" width="1" height="1" fill="#c0c0c0"/>
<rect x="24" y="704" width="1" height="1" fill="#c0c0c0"/>
<rect x="28" y="704" width="1" height="1" fill="#c0c0c0"/>
<rect x="32" y="704" width="1" height="1" fill="#c0c0c0"/>
<rect x="36" y="703" width="1" height="1" fill="#c0c0c0"/>
<rect x="40" y="704" width="1" height="1" fill="#c0c0c0"/>
<rect x="44" y="704" width="1" height="1" fill="#c0c0c0"/>
<rect x="48" y="704" width="1" height="1" fill="#c0c0c0"/>
<rect x="52" y="704" width="1" height="1" fill="#c0c0c0"/>
<rect x="56" y="703" width="1" height="1" fill="#c0c0c0"/>
<rect x="60" y="704" width="1" height="1" fill="#c0c0c0"/>
<rect x="64" y="704" width="1" height="1" fill="#c0c0c0"/>
<rect x="68" y="703" width="1" height="1" fill="#c0c0c0"/>
<rect x="72" y="703" width="1" height="1" fill="#c0c0c0"/>
<rect x="76" y="703" width="1" height="1" fill="#c0c0c0"/>
<rect x="80" y="703" width="1" height="1" fill="#c0c0c0"/>
<rect x="84" y="702" width="1" height="2" fill="#c0c0c0"/>
<rect x="88" y="701" width="1" height="3" fill="#c0c0c0"/>
<rect x="92" y="700" width="1" height="4" fill="#c0c0c0"/>
<rect x="96" y="699" width="1" height="5" fill="#c0c0c0"/>
<rect x="100" y="698" width="1" height="6" fill="#c0c0c0"/>
<rect x="104" y="697" width="1" height="7" fill="#c0c0c0"/>
<rect x="108" y="697" width="1" height="7" fill="#c0c0c0"/>
<rect x="112" y="697" width="1" height="7" fill="#c0c0c0"/>
<rect x="116" y="697" width="1" height="7" fill="#c0c0c0"/>
<rect x="120" y="698" width="1" height="6" fill="#c0c0c0"/>
<rect x="124" y="698" width="1" height="6" fill="#c0c0c0"/>
<rect x="128" y="699" width="1" height="5" fill="#c0c0c0"/>
<rect x="132" y="701" width="1" height="3" fill="#c0c0c0"/>
<rect x="136" y="704" width="1" height="1" fill="#c0c0c0"/>
<rect x="140" y="704" width="1" height="4" fill="#c0c0c0"/>
<rect x="144" y="704" width="1" height="5" fill="#c0c0c0"/>
<rect x="148" y="704" width="1" height="6" fill="#c0c0c0"/>
<rect x="152" y="704" width="1" height="7" fill="#c0c0c0"/>
<rect x="156" y="704" width="1" height="7" fill="#c0c0c0"/>
<rect x="160" y="704" width="1" height="8" fill="#c0c0c0"/>
<rect x="164" y="704" width="1" height="9" fill="#c0c0c0"/>
<rect x="168" y="704" width="1" height="10" fill="#c0c0c0"/>
<rect x="172" y="704" width="1" height="10" fill="#c0c0c0"/>
<rect x="176" y="704" width="1" height="11" fill="#c0c0c0"/>
<rect x="180" y="704" width="1" height="11" fill="#c0c0c0"/>
<rect x="184" y="704" width="1" height="11" fill="#c0c0c0"/>
<rect x="188" y="704" width="1" height="12" fill="#c0c0c0"/>
<rect x="192" y="704" width="1" height="12" fill="#c0c0c0"/>
<rect x="196" y="704" width="1" height="11" fill="#c0c0c0"/>
<rect x="200" y="704" width="1" height="12" fill="#c0c0c0"/>
<rect x="204" y="704" width="1" height="13" fill="#c0c0c0"/>
<rect x="208" y="704" width="1" height="14" fill="#c0c0c0"/>
<rect x="212" y="704" width="1" height="15" fill="#c0c0c0"/>
<rect x="216" y="704" width="1" height="17" fill="#c0c0c0"/>
<rect x="220" y="704" width="1" height="18" fill="#c0c0c0"/>
<rect x="224" y="704" width="1" height="18" fill="#c0c0c0"/>
<rect x="228" y="704" width="1" height="18" fill="#c0c0c0"/>
<rect x="232" y="704" width="1" height="18" fill="#c0c0c0"/>
<rect x="236" y="704" width="1" height="18" fill="#c0c0c0"/>
<rect x="240" y="704" width="1" height="17" fill="#c0c0c0"/>
<rect x="244" y="704" width="1" height="15" fill="#c0c0c0"/>
<rect x="248" y="704" width="1" height="14" fill="#c0c0c0"/>
<rect x="252" y="704" width="1" height="13" fill="#c0c0c0"/>
<rect x="256" y="704" width="1" height="12" fill="#c0c0c0"/>
<rect x="260" y="704" width="1" height="11" fill="#c0c0c0"/>
<rect x="264" y="704" width="1" height="10" fill="#c0c0c0"/>
<rect x="268" y="704" width="1" height="9" fill="#c0c0c0"/>
<rect x="272" y="704" width="1" height="7" fill="#c0c0c0"/>
<rect x="276" y="704" width="1" height="5" fill="#c0c0c0"/>
<rect x="280" y="704" width="1" height="3" fill="#c0c0c0"/>
<rect x="284" y="704" width="1" height="2" fill="#c0c0c0"/>
<rect x="288" y="704" width="1" height="1" fill="#c0c0c0"/>
<rect x="292" y="703" width="1" height="1" fill="#c0c0c0"/>
<rect x="296" y="703" width="1" height="1" fill="#c0c0c0"/>
<rect x="300" y="703" width="1" height="1" fill="#c0c0c0"/>
<rect x="304" y="704" width="1" height="1" fill="#c0c0c0"/>
<rect x="308" y="704" width="1" height="2" fill="#c0c0c0"/>
<rect x="312" y="704" width="1" height="4" fill="#c0c0c0"/>
<rect x="316" y="704" width="1" height="6" fill="#c0c0c0"/>
<rect x="320" y="704" width="1" height="7" fill="#c0c0c0"/>
<rect x="324" y="704" width="1" height="8" fill="#c0c0c0"/>
<rect x="328" y="704" width="1" height="9" fill="#c0c0c0"/>
<rect x="332" y="704" width="1" height="8" fill="#c0c0c0"/>
<rect x="336" y="704" width="1" height="6" fill="#c0c0c0"/>
<rect x="340" y="704" width="1" height="5" fill="#c0c0c0"/>
<rect x="344" y="704" width="1" height="3" fill="#c0c0c0"/>
<rect x="348" y="704" width="1" height="2" fill="#c0c0c0"/>
<rect x="352" y="704" width="1" height="1" fill="#c0c0c0"/>
<rect x="356" y="702" width="1" height="2" fill="#c0c0c0"/>
<rect x="360" y="700" width="1" height="4" fill="#c0c0c0"/>
<rect x="364" y="699" width="1" height="5" fill="#c0c0c0"/>
<rect x="368" y="699" width="1" height="5" fill="#c0c0c0"/>
<rect x="372" y="699" width="1" height="5" fill="#c0c0c0"/>
<rect x="376" y="697" width="1" height="7" fill="#c0c0c0"/>
<rect x="380" y="697" width="1" height="7" fill="#c0c0c0"/>
<rect x="384" y="698" width="1" height="6" fill="#c0c0c0"/>
<rect x="388" y="698" width="1" height="6" fill="#c0c0c0"/>
<rect x="392" y="699" width="1" height="5" fill="#c0c0c0"/>
<rect x="396" y="701" width="1" height="3" fill="#c0c0c0"/>
<rect x="400" y="702" width="1" height="2" fill="#c0c0c0"/>
<rect x="404" y="702" width="1" height="2" fill="#c0c0c0"/>
<rect x="408" y="701" width="1" height="3" fill="#c0c0c0"/>
<rect x="412" y="699" width="1" height="5" fill="#c0c0c0"/>
<rect x="416" y="698" width="1" height="6" fill="#c0c0c0"/>
<rect x="420" y="698" width="1" height="6" fill="#c0c0c0"/>
<rect x="424" y="698" width="1" height="6" fill="#c0c0c0"/>
<rect x="428" y="697" width="1" height="7" fill="#c0c0c0"/>
<rect x="432" y="697" width="1" height="7" fill="#c0c0c0"/>
<rect x="436" y="696" width="1" height="8" fill="#c0c0c0"/>
<rect x="440" y="696" width="1" height="8" fill="#c0c0c0"/>
<rect x="444" y="697" width="1" height="7" fill="#c0c0c0"/>
<rect x="448" y="699" width="1" height="5" fill="#c0c0c0"/>
<rect x="452" y="701" width="1" height="3" fill="#c0c0c0"/>
<rect x="456" y="704" width="1" height="1" fill="#c0c0c0"/>
<rect x="460" y="704" width="1" height="2" fill="#c0c0c0"/>
<rect x="464" y="704" width="1" height="4" fill="#c0c0c0"/>
<rect x="468" y="704" width="1" height="7" fill="#c0c0c0"/>
<rect x="472" y="704" width="1" height="8" fill="#c0c0c0"/>
<rect x="476" y="704" width="1" height="10" fill="#c0c0c0"/>
<rect x="480" y="704" width="1" height="13" fill="#c0c0c0"/>
<rect x="484" y="704" width="1" height="15" fill="#c0c0c0"/>
<rect x="488" y="704" width="1" height="17" fill="#c0c0c0"/>
<rect x="492" y="704" width="1" height="19" fill="#c0c0c0"/>
<rect x="496" y="704" width="1" height="21" fill="#c0c0c0"/>
<rect x="500" y="704" width="1" height="20" fill="#c0c0c0"/>
<rect x="504" y="704" width="1" height="19" fill="#c0c0c0"/>
<rect x="508" y="704" width="1" height="19" fill="#c0c0c0"/>
<rect x="512" y="704" width="1" height="20" fill="#c0c0c0"/>
<rect x="516" y="704" width="1" height="19" fill="#c0c0c0"/>
<rect x="520" y="704" width="1" height="20" fill="#c0c0c0"/>
<rect x="524" y="704" width="1" height="19" fill="#c0c0c0"/>
<rect x="528" y="704" width="1" height="18" fill="#c0c0c0"/>
<rect x="532" y="704" width="1" height="17" fill="#c0c0c0"/>
<rect x="536" y="704" width="1" height="16" fill="#c0c0c0"/>
<rect x="540" y="704" width="1" height="15" fill="#c0c0c0"/>
<rect x="544" y="704" width="1" height="14" fill="#c0c0c0"/>
<rect x="548" y="704" width="1" height="14" fill="#c0c0c0"/>
<rect x="552" y="704" width="1" height="14" fill="#c0c0c0"/>
<rect x="556" y="704" width="1" height="13" fill="#c0c0c0"/>
<rect x="560" y="704" width="1" height="12" fill="#c0c0c0"/>
<rect x="564" y="704" width="1" height="12" fill="#c0c0c0"/>
<rect x="568" y="704" width="1" height="12" fill="#c0c0c0"/>
<rect x="572" y="704" width="1" height="12" fill="#c0c0c0"/>
<rect x="576" y="704" width="1" height="12" fill="#c0c0c0"/>
<rect x="580" y="704" width="1" height="12" fill="#c0c0c0"/>
<rect x="584" y="704" width="1" height="12" fill="#c0c0c0"/>
<rect x="588" y="704" width="1" height="11" fill="#c0c0c0"/>
<rect x="592" y="704" width="1" height="9" fill="#c0c0c0"/>
<rect x="596" y="704" width="1" height="6" fill="#c0c0c0"/>
<rect x="600" y="704" width="1" height="3" fill="#c0c0c0"/>
<rect x="604" y="704" width="1" height="1" fill="#c0c0c0"/>
<rect x="608" y="703" width="1" height="1" fill="#c0c0c0"/>
<rect x="612" y="701" width="1" height="3" fill="#c0c0c0"/>
<rect x="616" y="700" width="1" height="4" fill="#c0c0c0"/>
<rect x="620" y="699" width="1" height="5" fill="#c0c0c0"/>
<rect x="624" y="697" width="1" height="7" fill="#c0c0c0"/>
<rect x="628" y="696" width="1" height="8" fill="#c0c0c0"/>
<rect x="632" y="696" width="1" height="8" fill="#c0c0c0"/>
<rect x="636" y="697" width="1" height="7" fill="#c0c0c0"/>
<rect x="640" y="697" width="1" height="7" fill="#c0c0c0"/>
<rect x="644" y="699" width="1" height="5" fill="#c0c0c0"/>
<rect x="648" y="702" width="1" height="2" fill="#c0c0c0"/>
<rect x="652" y="704" width="1" height="1" fill="#c0c0c0"/>
<rect x="656" y="704" width="1" height="1" fill="#c0c0c0"/>
<rect x="660" y="704" width="1" height="2" fill="#c0c0c0"/>
<rect x="664" y="704" width="1" height="3" fill="#c0c0c0"/>
<rect x="668" y="704" width="1" height="4" fill="#c0c0c0"/>
<rect x="672" y="704" width="1" height="5" fill="#c0c0c0"/>
<rect x="676" y="704" width="1" height="5" fill="#c0c0c0"/>
<rect x="680" y="704" width="1" height="6" fill="#c0c0c0"/>
<rect x="684" y="704" width="1" height="8" fill="#c0c0c0"/>
<rect x="688" y="704" width="1" height="9" fill="#c0c0c0"/>
<rect x="692" y="704" width="1" height="9" fill="#c0c0c0"/>
<rect x="696" y="704" width="1" height="8" fill="#c0c0c0"/>
<rect x="700" y="704" width="1" height="7" fill="#c0c0c0"/>
<rect x="704" y="704" width="1" height="7" fill="#c0c0c0"/>
<rect x="708" y="704" width="1" height="7" fill="#c0c0c0"/>
<rect x="712" y="704" width="1" height="7" fill="#c0c0c0"/>
<rect x="716" y="704" width="1" height="6" fill="#c0c0c0"/>
<rect x="720" y="704" width="1" height="4" fill="#c0c0c0"/>
<rect x="724" y="704" width="1" height="3" fill="#c0c0c0"/>
<rect x="728" y="704" width="1" height="2" fill="#c0c0c0"/>
<rect x="732" y="704" width="1" height="2" fill="#c0c0c0"/>
<rect x="736" y="704" width="1" height="3" fill="#c0c0c0"/>
<rect x="740" y="704" width="1" height="1" fill="#c0c0c0"/>
<rect x="744" y="702" width="1" height="2" fill="#c0c0c0"/>
<rect x="748" y="700" width="1" height="4" fill="#c0c0c0"/>
<rect x="752" y="699" width="1" height="5" fill="#c0c0c0"/>
<rect x="756" y="697" width="1" height="7" fill="#c0c0c0"/>
<rect x="760" y="697" width="1" height="7" fill="#c0c0c0"/>
<rect x="764" y="698" width="1" height="6" fill="#c0c0c0"/>
<rect x="768" y="698" width="1" height="6" fill="#c0c0c0"/>
<rect x="772" y="698" width="1" height="6" fill="#c0c0c0"/>
<rect x="776" y="698" width="1" height="6" fill="#c0c0c0"/>
<rect x="780" y="698" width="1" height="6" fill="#c0c0c0"/>
<rect x="784" y="697" width="1" height="7" fill="#c0c0c0"/>
<rect x="788" y="696" width="1" height="8" fill="#c0c0c0"/>
<rect x="792" y="694" width="1" height="10" fill="#c0c0c0"/>
<rect x="796" y="693" width="1" height="11" fill="#c0c0c0"/>
<rect x="800" y="693" width="1" height="11" fill="#c0c0c0"/>
<rect x="804" y="693" width="1" height="11" fill="#c0c0c0"/>
<rect x="808" y="693" width="1" height="11" fill="#c0c0c0"/>
<rect x="812" y="694" width="1" height="10" fill="#c0c0c0"/>
<rect x="816" y="695" width="1" height="9" fill="#c0c0c0"/>
<rect x="820" y="696" width="1" height="8" fill="#c0c0c0"/>
<rect x="824" y="698" width="1" height="6" fill="#c0c0c0"/>
<rect x="828" y="699" width="1" height="5" fill="#c0c0c0"/>
<rect x="832" y="700" width="1" height="4" fill="#c0c0c0"/>
<rect x="836" y="703" width="1" height="1" fill="#c0c0c0"/>
<rect x="840" y="704" width="1" height="1" fill="#c0c0c0"/>
<rect x="844" y="704" width="1" height="1" fill="#c0c0c0"/>
<rect x="848" y="704" width="1" height="1" fill="#c0c0c0"/>
<rect x="852" y="704" width="1" height="1" fill="#c0c0c0"/>
<rect x="856" y="704" width="1" height="2" fill="#c0c0c0"/>
<rect x="860" y="704" width="1" height="3" fill="#c0c0c0"/>
<rect x="864" y="704" width="1" height="4" fill="#c0c0c0"/>
<rect x="868" y="704" width="1" height="5" fill="#c0c0c0"/>
<rect x="872" y="704" width="1" height="5" fill="#c0c0c0"/>
<rect x="876" y="704" width="1" height="6" fill="#c0c0c0"/>
<rect x="880" y="704" width="1" height="6" fill="#c0c0c0"/>
<rect x="884" y="704" width="1" height="6" fill="#c0c0c0"/>
<rect x="888" y="704" width="1" height="7" fill="#c0c0c0"/>
<rect x="892" y="704" width="1" height="7" fill="#c0c0c0"/>
<rect x="896" y="704" width="1" height="6" fill="#c0c0c0"/>
<rect x="900" y="704" width="1" height="4" fill="#c0c0c0"/>
<rect x="904" y="704" width="1" height="2" fill="#c0c0c0"/>
<rect x="908" y="704" width="1" height="1" fill="#c0c0c0"/>
<rect x="912" y="704" width="1" height="1" fill="#c0c0c0"/>
<rect x="916" y="704" width="1" height="1" fill="#c0c0c0"/>
<rect x="920" y="703" width="1" height="1" fill="#c0c0c0"/>
<rect x="924" y="704" width="1" height="1" fill="#c0c0c0"/>
<rect x="928" y="703" width="1" height="1" fill="#c0c0c0"/>
<rect x="932" y="700" width="1" height="4" fill="#c0c0c0"/>
<rect x="936" y="700" width="1" height="4" fill="#c0c0c0"/>
<rect x="940" y="699" width="1" height="5" fill="#c0c0c0"/>
<rect x="944" y="698" width="1" height="6" fill="#c0c0c0"/>
<rect x="948" y="698" width="1" height="6" fill="#c0c0c0"/>
<rect x="952" y="699" width="1" height="5" fill="#c0c0c0"/>
<rect x="956" y="698" width="1" height="6" fill="#c0c0c0"/>
<rect x="960" y="697" width="1" height="7" fill="#c0c0c0"/>
<rect x="964" y="697" width="1" height="7" fill="#c0c0c0"/>
<rect x="968" y="696" width="1" height="8" fill="#c0c0c0"/>
<rect x="972" y="695" width="1" height="9" fill="#c0c0c0"/>
<rect x="976" y="695" width="1" height="9" fill="#c0c0c0"/>
<rect x="980" y="694" width="1" height="10" fill="#c0c0c0"/>
<rect x="984" y="692" width="1" height="12" fill="#c0c0c0"/>
<rect x="988" y="691" width="1" height="13" fill="#c0c0c0"/>
<rect x="992" y="690" width="1" height="14" fill="#c0c0c0"/>
<rect x="996" y="688" width="1" height="16" fill="#c0c0c0"/>
<rect x="1000" y="687" width="1" height="17" fill="#c0c0c0"/>
<rect x="1004" y="687" width="1" height="17" fill="#c0c0c0"/>
<rect x="1008" y="689" width="1" height="15" fill="#c0c0c0"/>
<rect x="1012" y="690" width="1" height="14" fill="#c0c0c0"/>
<rect x="1016" y="692" width="1" height="12" fill="#c0c0c0"/>
<rect x="1020" y="696" width="1" height="8" fill="#c0c0c0"/>
<rect x="1024" y="699" width="1" height="5" fill="#c0c0c0"/>
<rect x="1028" y="701" width="1" height="3" fill="#c0c0c0"/>
<rect x="1032" y="702" width="1" height="2" fill="#c0c0c0"/>
<rect x="1036" y="702" width="1" height="2" fill="#c0c0c0"/>
<rect x="1040" y="703" width="1" height="1" fill="#c0c0c0"/>
<rect x="1044" y="703" width="1" height="1" fill="#c0c0c0"/>
<rect x="1048" y="704" width="1" height="1" fill="#c0c0c0"/>
<rect x="1052" y="704" width="1" height="1" fill="#c0c0c0"/>
<rect x="1056" y="704" width="1" height="1" fill="#c0c0c0"/>
<rect x="1060" y="704" width="1" height="2" fill="#c0c0c0"/>
<rect x="1064" y="704" width="1" height="3" fill="#c0c0c0"/>
<rect x="1068" y="704" width="1" height="3" fill="#c0c0c0"/>
<rect x="1072" y="704" width="1" height="5" fill="#c0c0c0"/>
<rect x="1076" y="704" width="1" height="5" fill="#c0c0c0"/>
<rect x="1080" y="704" width="1" height="6" fill="#c0c0c0"/>
<rect x="1084" y="704" width="1" height="7" fill="#c0c0c0"/>
<rect x="1088" y="704" width="1" height="10" fill="#c0c0c0"/>
<rect x="1092" y="704" width="1" height="12" fill="#c0c0c0"/>
<rect x="1096" y="704" width="1" height="13" fill="#c0c0c0"/>
<rect x="1100" y="704" width="1" height="16" fill="#c0c0c0"/>
<rect x="1104" y="704" width="1" height="18" fill="#c0c0c0"/>
<rect x="1108" y="704" width="1" height="19" fill="#c0c0c0"/>
<rect x="1112" y="704" width="1" height="19" fill="#c0c0c0"/>
<rect x="1116" y="704" width="1" height="19" fill="#c0c0c0"/>
<rect x="1120" y="704" width="1" height="18" fill="#c0c0c0"/>
<rect x="1124" y="704" width="1" height="17" fill="#c0c0c0"/>
<rect x="1128" y="704" width="1" height="17" fill="#c0c0c0"/>
<rect x="1132" y="704" width="1" height="18" fill="#c0c0c0"/>
<rect x="1136" y="704" width="1" height="18" fill="#c0c0c0"/>
<rect x="1140" y="704" width="1" height="17" fill="#c0c0c0"/>
<rect x="1144" y="704" width="1" height="15" fill="#c0c0c0"/>
<rect x="1148" y="704" width="1" height="14" fill="#c0c0c0"/>
<rect x="1152" y="704" width="1" height="13" fill="#c0c0c0"/>
<rect x="1156" y="704" width="1" height="12" fill="#c0c0c0"/>
<rect x="1160" y="704" width="1" height="12" fill="#c0c0c0"/>
<rect x="1164" y="704" width="1" height="12" fill="#c0c0c0"/>
<rect x="1168" y="704" width="1" height="12" fill="#c0c0c0"/>
<rect x="1172" y="704" width="1" height="13" fill="#c0c0c0"/>
<rect x="1176" y="704" width="1" height="14" fill="#c0c0c0"/>
<rect x="1180" y="704" width="1" height="15" fill="#c0c0c0"/>
<rect x="1184" y="704" width="1" height="16" fill="#c0c0c0"/>
<rect x="1188" y="704" width="1" height="16" fill="#c0c0c0"/>
<rect x="1192" y="704" width="1" height="18" fill="#c0c0c0"/>
<rect x="1196" y="704" width="1" height="19" fill="#c0c0c0"/>
<rect x="1200" y="704" width="1" height="22" fill="#c0c0c0"/>
<rect x="1204" y="704" width="1" height="23" fill="#c0c0c0"/>
<rect x="1208" y="704" width="1" height="24" fill="#c0c0c0"/>
<rect x="1212" y="704" width="1" height="21" fill="#c0c0c0"/>
<rect x="1216" y="704" width="1" height="19" fill="#c0c0c0"/>
<rect x="1220" y="704" width="1" height="18" fill="#c0c0c0"/>
<rect x="1224" y="704" width="1" height="15" fill="#c0c0c0"/>
<rect x="1228" y="704" width="1" height="13" fill="#c0c0c0"/>
<rect x="1232" y="704" width="1" height="10" fill="#c0c0c0"/>
<rect x="1236" y="704" width="1" height="13" fill="#c0c0c0"/>
<rect x="1240" y="704" width="1" height="15" fill="#c0c0c0"/>
<rect x="1244" y="704" width="1" height="22" fill="#c0c0c0"/>
<rect x="1248" y="704" width="1" height="31" fill="#c0c0c0"/>
<rect x="1252" y="704" width="1" height="39" fill="#c0c0c0"/>
<rect x="1256" y="704" width="1" height="44" fill="#c0c0c0"/>
<rect x="1260" y="704" width="1" height="53" fill="#c0c0c0"/>
<rect x="1264" y="704" width="1" height="63" fill="#c0c0c0"/>
<rect x="1268" y="704" width="1" height="72" fill="#c0c0c0"/>
<polyline points="4.5,710.4 8.5,710.1 12.5,709.6 16.5,709.1 20.5,708.5 24.5,707.9 28.5,707.4 32.5,706.9 36.5,706.3 40.5,705.8 44.5,705.5 48.5,705.3 52.5,705.0 56.5,704.8 60.5,704.7 64.5,704.5 68.5,704.3 72.5,704.3 76.5,704.2 80.5,704.0 84.5,703.7 88.5,703.4 92.5,703.1 96.5,702.4 100.5,701.8 104.5,701.2 108.5,700.5 112.5,699.8 116.5,699.2 120.5,698.8 124.5,698.5 128.5,698.4 132.5,698.6 136.5,699.3 140.5,700.5 144.5,701.9 148.5,703.4 152.5,704.9 156.5,706.4 160.5,707.9 164.5,709.5 168.5,710.9 172.5,711.9 176.5,712.7 180.5,713.3 184.5,713.9 188.5,714.4 192.5,714.9 196.5,715.3 200.5,715.6 204.5,716.0 208.5,716.5 212.5,717.0 216.5,717.6 220.5,718.5 224.5,719.1 228.5,719.8 232.5,720.6 236.5,721.2 240.5,721.6 244.5,721.7 248.5,721.5 252.5,721.0 256.5,720.3 260.5,719.6 264.5,718.7 268.5,717.6 272.5,716.4 276.5,715.1 280.5,713.8 284.5,712.5 288.5,711.2 292.5,709.7 296.5,708.4 300.5,707.2 304.5,706.2 308.5,705.6 312.5,705.5 316.5,705.7 320.5,706.3 324.5,707.1 328.5,708.2 332.5,709.1 336.5,709.9 340.5,710.5 344.5,710.7 348.5,710.5 352.5,709.8 356.5,708.8 360.5,707.4 364.5,705.9 368.5,704.5 372.5,703.2 376.5,701.9 380.5,700.7 384.5,699.9 388.5,699.3 392.5,699.0 396.5,699.1 400.5,699.5 404.5,699.7 408.5,699.9 412.5,700.2 416.5,700.4 420.5,700.4 424.5,700.3 428.5,700.0 432.5,699.5 436.5,698.9 440.5,698.3 444.5,697.9 448.5,697.9 452.5,698.2 456.5,698.8 460.5,699.8 464.5,701.0 468.5,702.6 472.5,704.3 476.5,706.3 480.5,708.4 484.5,710.7 488.5,712.9 492.5,715.0 496.5,717.0 500.5,718.7 504.5,720.1 508.5,721.4 512.5,722.5 516.5,723.2 520.5,723.8 524.5,723.9 528.5,723.8 532.5,723.4 536.5,723.0 540.5,722.5 544.5,721.9 548.5,721.2 552.5,720.6 556.5,719.9 560.5,719.2 564.5,718.6 568.5,718.0 572.5,717.6 576.5,717.2 580.5,717.1 584.5,716.9 588.5,716.6 592.5,716.1 596.5,715.5 600.5,714.5 604.5,713.3 608.5,711.8 612.5,710.2 616.5,708.3 620.5,706.3 624.5,704.3 628.5,702.5 632.5,701.0 636.5,699.8 640.5,698.9 644.5,698.6 648.5,698.7 652.5,699.2 656.5,699.9 660.5,700.8 664.5,702.0 668.5,703.4 672.5,704.7 676.5,706.0 680.5,707.2 684.5,708.3 688.5,709.3 692.5,710.2 696.5,710.8 700.5,711.2 704.5,711.5 708.5,711.7 712.5,711.9 716.5,711.9 720.5,711.5 724.5,710.8 728.5,710.1 732.5,709.5 736.5,709.0 740.5,708.4 744.5,707.4 748.5,706.2 752.5,704.9 756.5,703.7 760.5,702.7 764.5,701.7 768.5,700.8 772.5,699.8 776.5,699.1 780.5,698.6 784.5,698.2 788.5,697.9 792.5,697.5 796.5,697.1 800.5,696.6 804.5,696.1 808.5,695.6 812.5,695.1 816.5,694.8 820.5,694.8 824.5,695.0 828.5,695.5 832.5,696.3 836.5,697.4 840.5,698.6 844.5,699.8 848.5,701.1 852.5,702.3 856.5,703.3 860.5,704.4 864.5,705.4 868.5,706.3 872.5,707.0 876.5,707.6 880.5,708.2 884.5,708.7 888.5,709.3 892.5,709.8 896.5,710.1 900.5,710.1 904.5,709.8 908.5,709.4 912.5,708.8 916.5,708.2 920.5,707.4 924.5,706.6 928.5,705.7 932.5,704.7 936.5,703.8 940.5,703.0 944.5,702.2 948.5,701.5 952.5,700.9 956.5,700.4 960.5,699.7 964.5,699.0 968.5,698.5 972.5,698.0 976.5,697.5 980.5,697.1 984.5,696.4 988.5,695.6 992.5,694.7 996.5,693.7 1000.5,692.7 1004.5,691.7 1008.5,691.0 1012.5,690.5 1016.5,690.3 1020.5,690.7 1024.5,691.5 1028.5,692.8 1032.5,694.3 1036.5,695.9 1040.5,697.6 1044.5,699.2 1048.5,700.7 1052.5,702.0 1056.5,703.0 1060.5,703.8 1064.5,704.4 1068.5,705.0 1072.5,705.7 1076.5,706.5 1080.5,707.2 1084.5,708.1 1088.5,709.1 1092.5,710.3 1096.5,711.6 1100.5,713.1 1104.5,714.6 1108.5,716.2 1112.5,717.8 1116.5,719.2 1120.5,720.3 1124.5,721.1 1128.5,721.8 1132.5,722.3 1136.5,722.5 1140.5,722.4 1144.5,722.0 1148.5,721.3 1152.5,720.7 1156.5,720.1 1160.5,719.5 1164.5,718.8 1168.5,718.2 1172.5,717.7 1176.5,717.4 1180.5,717.4 1184.5,717.7 1188.5,718.0 1192.5,718.7 1196.5,719.5 1200.5,720.7 1204.5,721.9 1208.5,723.0 1212.5,723.7 1216.5,724.2 1220.5,724.4 1224.5,724.3 1228.5,723.7 1232.5,722.8 1236.5,721.8 1240.5,720.8 1244.5,720.7 1248.5,721.9 1252.5,724.1 1256.5,727.0 1260.5,731.2 1264.5,736.7 1268.5,743.7" fill="none" stroke="#ff0000" stroke-width="1" stroke-dasharray="3,3"/>
<text transform="translate(8,696) scale(0.92,1)" class="ax">MACD(12,26,9) -0.020030 -0.010803</text>
<rect x="1597" y="683" width="3" height="1" fill="#000"/>
<rect x="1597" y="704" width="3" height="1" fill="#000"/>
<rect x="1597" y="781" width="3" height="1" fill="#000"/>
<text transform="translate(1600,694) scale(0.93,1)" class="ax">0.005795</text>
<text transform="translate(1600,709) scale(0.93,1)" class="ax">0.00</text>
<text transform="translate(1600,779.5) scale(0.93,1)" class="ax">-0.02126</text>
<rect x="4" y="783" width="1" height="3" fill="#000"/>
<text transform="translate(3,795) scale(0.935,1)" class="ax">16 Mar 2019</text>
<rect x="68" y="783" width="1" height="3" fill="#000"/>
<text transform="translate(67,795) scale(0.935,1)" class="ax">4 Apr 2019</text>
<rect x="132" y="783" width="1" height="3" fill="#000"/>
<text transform="translate(131,795) scale(0.935,1)" class="ax">23 Apr 2019</text>
<rect x="196" y="783" width="1" height="3" fill="#000"/>
<text transform="translate(195,795) scale(0.935,1)" class="ax">11 May 2019</text>
<rect x="260" y="783" width="1" height="3" fill="#000"/>
<text transform="translate(259,795) scale(0.935,1)" class="ax">30 May 2019</text>
<rect x="324" y="783" width="1" height="3" fill="#000"/>
<text transform="translate(323,795) scale(0.935,1)" class="ax">18 Jun 2019</text>
<rect x="388" y="783" width="1" height="3" fill="#000"/>
<text transform="translate(387,795) scale(0.935,1)" class="ax">6 Jul 2019</text>
<rect x="452" y="783" width="1" height="3" fill="#000"/>
<text transform="translate(451,795) scale(0.935,1)" class="ax">25 Jul 2019</text>
<rect x="516" y="783" width="1" height="3" fill="#000"/>
<text transform="translate(515,795) scale(0.935,1)" class="ax">13 Aug 2019</text>
<rect x="580" y="783" width="1" height="3" fill="#000"/>
<text transform="translate(579,795) scale(0.935,1)" class="ax">31 Aug 2019</text>
<rect x="644" y="783" width="1" height="3" fill="#000"/>
<text transform="translate(643,795) scale(0.935,1)" class="ax">19 Sep 2019</text>
<rect x="708" y="783" width="1" height="3" fill="#000"/>
<text transform="translate(707,795) scale(0.935,1)" class="ax">8 Oct 2019</text>
<rect x="772" y="783" width="1" height="3" fill="#000"/>
<text transform="translate(771,795) scale(0.935,1)" class="ax">26 Oct 2019</text>
<rect x="836" y="783" width="1" height="3" fill="#000"/>
<text transform="translate(835,795) scale(0.935,1)" class="ax">14 Nov 2019</text>
<rect x="900" y="783" width="1" height="3" fill="#000"/>
<text transform="translate(899,795) scale(0.935,1)" class="ax">3 Dec 2019</text>
<rect x="964" y="783" width="1" height="3" fill="#000"/>
<text transform="translate(963,795) scale(0.935,1)" class="ax">21 Dec 2019</text>
<rect x="1028" y="783" width="1" height="3" fill="#000"/>
<text transform="translate(1027,795) scale(0.935,1)" class="ax">9 Jan 2020</text>
<rect x="1092" y="783" width="1" height="3" fill="#000"/>
<text transform="translate(1091,795) scale(0.935,1)" class="ax">28 Jan 2020</text>
<rect x="1156" y="783" width="1" height="3" fill="#000"/>
<text transform="translate(1155,795) scale(0.935,1)" class="ax">15 Feb 2020</text>
<rect x="1220" y="783" width="1" height="3" fill="#000"/>
<text transform="translate(1219,795) scale(0.935,1)" class="ax">5 Mar 2020</text>
</svg>
<div id="tabbar"></div>
<div id="tabtop"></div>
<div id="acttab"></div>
<div id="tl"></div>
<div class="sep" style="left:109px"></div><div class="sep" style="left:416px"></div><div class="sep" style="left:521px"></div><div class="sep" style="left:625px"></div><div class="sep" style="left:717px"></div><div class="sep" style="left:813px"></div><div class="sep" style="left:885px"></div><div class="sep" style="left:965px"></div><div class="sep" style="left:1045px"></div><div class="sep" style="left:1125px"></div><div class="sep" style="left:1201px"></div>
<span class="tab" style="left:17px">EURUSD,Daily</span><span class="tab" style="left:119px">USDCHF,Daily</span><span class="tab act" style="left:220px">AUDUSD,Daily</span><span class="tab" style="left:324px">USDCAD,Daily</span><span class="tab" style="left:427px">USDCNH,Daily</span><span class="tab" style="left:533px">EURUSD,Daily</span><span class="tab" style="left:637px">GBPUSD,H1</span><span class="tab" style="left:729px">XAUUSD,M5</span><span class="tab" style="left:824px">HK50,H1</span><span class="tab" style="left:896px">UK100,H1</span><span class="tab" style="left:976px">UK100,H1</span><span class="tab" style="left:1056px">GER30,H1</span><span class="tab" style="left:1135px">FRA40,H1</span>
<div id="tabbot"></div><div id="tabbot2"></div>
<svg width="30" height="10" style="position:absolute;left:1610px;top:810px"><polygon points="2,4 5,1 5,7" fill="#8c8c8c"/><polygon points="21,1 24,4 21,7" fill="#8c8c8c"/></svg>
<div style="position:absolute;left:0;top:803px;width:1641px;height:1px;background:#e3e3e3"></div>
</body></html>
